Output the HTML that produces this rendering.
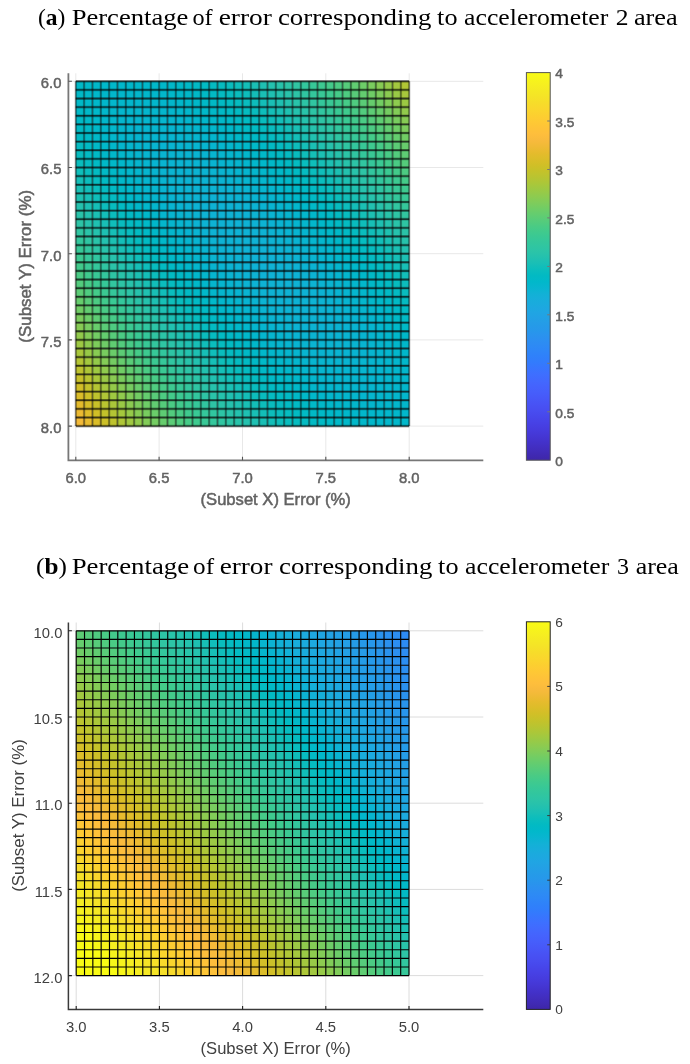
<!DOCTYPE html>
<html><head><meta charset="utf-8"><title>Figure</title><style>html,body{margin:0;padding:0;background:#fff}svg{display:block}</style></head><body>
<svg width="690" height="1064" viewBox="0 0 690 1064">
<defs><linearGradient id="pg" x1="0" y1="0" x2="0" y2="1"><stop offset="0.0000" stop-color="#f9fb15"/><stop offset="0.0159" stop-color="#f7f51b"/><stop offset="0.0317" stop-color="#f6ef20"/><stop offset="0.0476" stop-color="#f5e924"/><stop offset="0.0635" stop-color="#f5e327"/><stop offset="0.0794" stop-color="#f7dc2a"/><stop offset="0.0952" stop-color="#fad62d"/><stop offset="0.1111" stop-color="#fccf30"/><stop offset="0.1270" stop-color="#fec934"/><stop offset="0.1429" stop-color="#fec338"/><stop offset="0.1587" stop-color="#febe3c"/><stop offset="0.1746" stop-color="#f8ba3d"/><stop offset="0.1905" stop-color="#f0ba36"/><stop offset="0.2063" stop-color="#e6bb2d"/><stop offset="0.2222" stop-color="#dcbd29"/><stop offset="0.2381" stop-color="#d1bf27"/><stop offset="0.2540" stop-color="#c5c22a"/><stop offset="0.2698" stop-color="#b9c431"/><stop offset="0.2857" stop-color="#abc739"/><stop offset="0.3016" stop-color="#9dc943"/><stop offset="0.3175" stop-color="#8fcb4e"/><stop offset="0.3333" stop-color="#81cc59"/><stop offset="0.3492" stop-color="#72cd64"/><stop offset="0.3651" stop-color="#64cd6f"/><stop offset="0.3810" stop-color="#57cc7a"/><stop offset="0.3968" stop-color="#4acb84"/><stop offset="0.4127" stop-color="#3fca8e"/><stop offset="0.4286" stop-color="#37c897"/><stop offset="0.4444" stop-color="#31c69f"/><stop offset="0.4603" stop-color="#2cc4a7"/><stop offset="0.4762" stop-color="#24c1ae"/><stop offset="0.4921" stop-color="#19bfb6"/><stop offset="0.5079" stop-color="#0bbdbd"/><stop offset="0.5238" stop-color="#02bac3"/><stop offset="0.5397" stop-color="#01b8ca"/><stop offset="0.5556" stop-color="#08b5d0"/><stop offset="0.5714" stop-color="#12b1d6"/><stop offset="0.5873" stop-color="#18addb"/><stop offset="0.6032" stop-color="#1ca9df"/><stop offset="0.6190" stop-color="#20a5e3"/><stop offset="0.6349" stop-color="#23a0e5"/><stop offset="0.6508" stop-color="#259be8"/><stop offset="0.6667" stop-color="#2797eb"/><stop offset="0.6825" stop-color="#2b91ef"/><stop offset="0.6984" stop-color="#2d8cf3"/><stop offset="0.7143" stop-color="#2e87f7"/><stop offset="0.7302" stop-color="#2f81fa"/><stop offset="0.7460" stop-color="#327cfc"/><stop offset="0.7619" stop-color="#3875fe"/><stop offset="0.7778" stop-color="#3e6fff"/><stop offset="0.7937" stop-color="#4269fe"/><stop offset="0.8095" stop-color="#4563fd"/><stop offset="0.8254" stop-color="#465efb"/><stop offset="0.8413" stop-color="#4758f8"/><stop offset="0.8571" stop-color="#4852f4"/><stop offset="0.8730" stop-color="#484df0"/><stop offset="0.8889" stop-color="#4747eb"/><stop offset="0.9048" stop-color="#4741e5"/><stop offset="0.9206" stop-color="#463cde"/><stop offset="0.9365" stop-color="#4537d5"/><stop offset="0.9524" stop-color="#4332cb"/><stop offset="0.9683" stop-color="#422ec0"/><stop offset="0.9841" stop-color="#402ab4"/><stop offset="1.0000" stop-color="#3e26a8"/></linearGradient></defs>
<rect width="690" height="1064" fill="#fff"/>
<g font-family="Liberation Serif, serif" font-size="23.4" fill="#000">
<text y="25.3"><tspan x="37.90" textLength="27.40" lengthAdjust="spacingAndGlyphs">(<tspan font-weight="bold">a</tspan>)</tspan> <tspan x="71.70" textLength="116.60" lengthAdjust="spacingAndGlyphs">Percentage</tspan> <tspan x="192.50" textLength="20.20" lengthAdjust="spacingAndGlyphs">of</tspan> <tspan x="218.70" textLength="53.20" lengthAdjust="spacingAndGlyphs">error</tspan> <tspan x="277.90" textLength="153.40" lengthAdjust="spacingAndGlyphs">corresponding</tspan> <tspan x="437.10" textLength="20.40" lengthAdjust="spacingAndGlyphs">to</tspan> <tspan x="464.10" textLength="144.20" lengthAdjust="spacingAndGlyphs">accelerometer</tspan> <tspan x="615.70" textLength="12.80" lengthAdjust="spacingAndGlyphs">2</tspan> <tspan x="633.90" textLength="43.80" lengthAdjust="spacingAndGlyphs">area</tspan></text>
<text y="573.6"><tspan x="36.10" textLength="30.80" lengthAdjust="spacingAndGlyphs">(<tspan font-weight="bold">b</tspan>)</tspan> <tspan x="71.70" textLength="117.40" lengthAdjust="spacingAndGlyphs">Percentage</tspan> <tspan x="193.10" textLength="21.00" lengthAdjust="spacingAndGlyphs">of</tspan> <tspan x="219.70" textLength="52.80" lengthAdjust="spacingAndGlyphs">error</tspan> <tspan x="279.10" textLength="153.20" lengthAdjust="spacingAndGlyphs">corresponding</tspan> <tspan x="438.10" textLength="20.40" lengthAdjust="spacingAndGlyphs">to</tspan> <tspan x="465.10" textLength="144.20" lengthAdjust="spacingAndGlyphs">accelerometer</tspan> <tspan x="617.10" textLength="12.00" lengthAdjust="spacingAndGlyphs">3</tspan> <tspan x="635.70" textLength="43.20" lengthAdjust="spacingAndGlyphs">area</tspan></text>
</g>
<g>
<path d="M75.8 73.3V460.3M68.4 81.3H483.3" stroke="#e8e8e8" stroke-width="1" fill="none"/>
<path d="M159.1 73.3V460.3M68.4 167.5H483.3" stroke="#e8e8e8" stroke-width="1" fill="none"/>
<path d="M242.5 73.3V460.3M68.4 253.7H483.3" stroke="#e8e8e8" stroke-width="1" fill="none"/>
<path d="M325.8 73.3V460.3M68.4 339.9H483.3" stroke="#e8e8e8" stroke-width="1" fill="none"/>
<path d="M409.2 73.3V460.3M68.4 426.1H483.3" stroke="#e8e8e8" stroke-width="1" fill="none"/>
<rect x="75.80" y="81.30" width="8.43" height="8.72" fill="#01b9c7"/>
<rect x="84.13" y="81.30" width="8.43" height="8.72" fill="#01b8c8"/>
<rect x="92.47" y="81.30" width="8.43" height="8.72" fill="#01b8c9"/>
<rect x="100.80" y="81.30" width="8.43" height="8.72" fill="#01b8ca"/>
<rect x="109.14" y="81.30" width="8.43" height="8.72" fill="#01b8ca"/>
<rect x="117.47" y="81.30" width="8.43" height="8.72" fill="#01b7ca"/>
<rect x="125.81" y="81.30" width="8.43" height="8.72" fill="#01b7ca"/>
<rect x="134.14" y="81.30" width="8.43" height="8.72" fill="#01b7ca"/>
<rect x="142.48" y="81.30" width="8.43" height="8.72" fill="#01b8ca"/>
<rect x="150.81" y="81.30" width="8.43" height="8.72" fill="#01b8ca"/>
<rect x="159.15" y="81.30" width="8.43" height="8.72" fill="#01b8c9"/>
<rect x="167.48" y="81.30" width="8.43" height="8.72" fill="#01b8c8"/>
<rect x="175.82" y="81.30" width="8.43" height="8.72" fill="#01b9c7"/>
<rect x="184.15" y="81.30" width="8.43" height="8.72" fill="#01b9c6"/>
<rect x="192.49" y="81.30" width="8.43" height="8.72" fill="#02bac5"/>
<rect x="200.82" y="81.30" width="8.43" height="8.72" fill="#02bbc3"/>
<rect x="209.16" y="81.30" width="8.43" height="8.72" fill="#05bbc1"/>
<rect x="217.50" y="81.30" width="8.43" height="8.72" fill="#07bcbf"/>
<rect x="225.83" y="81.30" width="8.43" height="8.72" fill="#0abdbd"/>
<rect x="234.16" y="81.30" width="8.43" height="8.72" fill="#0fbebb"/>
<rect x="242.50" y="81.30" width="8.43" height="8.72" fill="#14bfb8"/>
<rect x="250.83" y="81.30" width="8.43" height="8.72" fill="#1abfb5"/>
<rect x="259.17" y="81.30" width="8.43" height="8.72" fill="#1fc0b2"/>
<rect x="267.50" y="81.30" width="8.43" height="8.72" fill="#24c2ae"/>
<rect x="275.84" y="81.30" width="8.43" height="8.72" fill="#28c3aa"/>
<rect x="284.17" y="81.30" width="8.43" height="8.72" fill="#2dc4a6"/>
<rect x="292.51" y="81.30" width="8.43" height="8.72" fill="#30c5a2"/>
<rect x="300.84" y="81.30" width="8.43" height="8.72" fill="#33c79d"/>
<rect x="309.18" y="81.30" width="8.43" height="8.72" fill="#37c897"/>
<rect x="317.51" y="81.30" width="8.43" height="8.72" fill="#3dc991"/>
<rect x="325.85" y="81.30" width="8.43" height="8.72" fill="#44ca8a"/>
<rect x="334.19" y="81.30" width="8.43" height="8.72" fill="#4ccb83"/>
<rect x="342.52" y="81.30" width="8.43" height="8.72" fill="#56cc7b"/>
<rect x="350.85" y="81.30" width="8.43" height="8.72" fill="#61cd72"/>
<rect x="359.19" y="81.30" width="8.43" height="8.72" fill="#6dcd68"/>
<rect x="367.52" y="81.30" width="8.43" height="8.72" fill="#7acc5e"/>
<rect x="375.86" y="81.30" width="8.43" height="8.72" fill="#87cb54"/>
<rect x="384.19" y="81.30" width="8.43" height="8.72" fill="#95ca49"/>
<rect x="392.53" y="81.30" width="8.43" height="8.72" fill="#a3c83f"/>
<rect x="400.86" y="81.30" width="8.43" height="8.72" fill="#b1c635"/>
<rect x="75.80" y="89.92" width="8.43" height="8.72" fill="#01b9c7"/>
<rect x="84.13" y="89.92" width="8.43" height="8.72" fill="#01b8c9"/>
<rect x="92.47" y="89.92" width="8.43" height="8.72" fill="#01b8ca"/>
<rect x="100.80" y="89.92" width="8.43" height="8.72" fill="#01b7ca"/>
<rect x="109.14" y="89.92" width="8.43" height="8.72" fill="#02b7cb"/>
<rect x="117.47" y="89.92" width="8.43" height="8.72" fill="#02b7cb"/>
<rect x="125.81" y="89.92" width="8.43" height="8.72" fill="#03b7cb"/>
<rect x="134.14" y="89.92" width="8.43" height="8.72" fill="#03b7cb"/>
<rect x="142.48" y="89.92" width="8.43" height="8.72" fill="#02b7cb"/>
<rect x="150.81" y="89.92" width="8.43" height="8.72" fill="#02b7cb"/>
<rect x="159.15" y="89.92" width="8.43" height="8.72" fill="#02b7cb"/>
<rect x="167.48" y="89.92" width="8.43" height="8.72" fill="#01b8ca"/>
<rect x="175.82" y="89.92" width="8.43" height="8.72" fill="#01b8c9"/>
<rect x="184.15" y="89.92" width="8.43" height="8.72" fill="#01b8c8"/>
<rect x="192.49" y="89.92" width="8.43" height="8.72" fill="#01b9c7"/>
<rect x="200.82" y="89.92" width="8.43" height="8.72" fill="#01bac5"/>
<rect x="209.16" y="89.92" width="8.43" height="8.72" fill="#02bac4"/>
<rect x="217.50" y="89.92" width="8.43" height="8.72" fill="#04bbc2"/>
<rect x="225.83" y="89.92" width="8.43" height="8.72" fill="#07bcc0"/>
<rect x="234.16" y="89.92" width="8.43" height="8.72" fill="#0abdbd"/>
<rect x="242.50" y="89.92" width="8.43" height="8.72" fill="#0ebebb"/>
<rect x="250.83" y="89.92" width="8.43" height="8.72" fill="#14beb8"/>
<rect x="259.17" y="89.92" width="8.43" height="8.72" fill="#1abfb5"/>
<rect x="267.50" y="89.92" width="8.43" height="8.72" fill="#1fc0b2"/>
<rect x="275.84" y="89.92" width="8.43" height="8.72" fill="#24c2ae"/>
<rect x="284.17" y="89.92" width="8.43" height="8.72" fill="#29c3aa"/>
<rect x="292.51" y="89.92" width="8.43" height="8.72" fill="#2dc4a6"/>
<rect x="300.84" y="89.92" width="8.43" height="8.72" fill="#30c5a1"/>
<rect x="309.18" y="89.92" width="8.43" height="8.72" fill="#34c79c"/>
<rect x="317.51" y="89.92" width="8.43" height="8.72" fill="#38c896"/>
<rect x="325.85" y="89.92" width="8.43" height="8.72" fill="#3dca90"/>
<rect x="334.19" y="89.92" width="8.43" height="8.72" fill="#45cb89"/>
<rect x="342.52" y="89.92" width="8.43" height="8.72" fill="#4ecc81"/>
<rect x="350.85" y="89.92" width="8.43" height="8.72" fill="#58cc79"/>
<rect x="359.19" y="89.92" width="8.43" height="8.72" fill="#63cd70"/>
<rect x="367.52" y="89.92" width="8.43" height="8.72" fill="#6fcd66"/>
<rect x="375.86" y="89.92" width="8.43" height="8.72" fill="#7dcc5c"/>
<rect x="384.19" y="89.92" width="8.43" height="8.72" fill="#8bcb51"/>
<rect x="392.53" y="89.92" width="8.43" height="8.72" fill="#99c946"/>
<rect x="400.86" y="89.92" width="8.43" height="8.72" fill="#a7c73c"/>
<rect x="75.80" y="98.54" width="8.43" height="8.72" fill="#01b9c7"/>
<rect x="84.13" y="98.54" width="8.43" height="8.72" fill="#01b8c9"/>
<rect x="92.47" y="98.54" width="8.43" height="8.72" fill="#01b8ca"/>
<rect x="100.80" y="98.54" width="8.43" height="8.72" fill="#02b7cb"/>
<rect x="109.14" y="98.54" width="8.43" height="8.72" fill="#03b7cc"/>
<rect x="117.47" y="98.54" width="8.43" height="8.72" fill="#03b7cc"/>
<rect x="125.81" y="98.54" width="8.43" height="8.72" fill="#03b6cc"/>
<rect x="134.14" y="98.54" width="8.43" height="8.72" fill="#04b6cc"/>
<rect x="142.48" y="98.54" width="8.43" height="8.72" fill="#04b6cc"/>
<rect x="150.81" y="98.54" width="8.43" height="8.72" fill="#03b7cc"/>
<rect x="159.15" y="98.54" width="8.43" height="8.72" fill="#03b7cc"/>
<rect x="167.48" y="98.54" width="8.43" height="8.72" fill="#03b7cb"/>
<rect x="175.82" y="98.54" width="8.43" height="8.72" fill="#02b7cb"/>
<rect x="184.15" y="98.54" width="8.43" height="8.72" fill="#01b8ca"/>
<rect x="192.49" y="98.54" width="8.43" height="8.72" fill="#01b8c9"/>
<rect x="200.82" y="98.54" width="8.43" height="8.72" fill="#01b9c7"/>
<rect x="209.16" y="98.54" width="8.43" height="8.72" fill="#01b9c6"/>
<rect x="217.50" y="98.54" width="8.43" height="8.72" fill="#02bac4"/>
<rect x="225.83" y="98.54" width="8.43" height="8.72" fill="#03bbc2"/>
<rect x="234.16" y="98.54" width="8.43" height="8.72" fill="#06bcc0"/>
<rect x="242.50" y="98.54" width="8.43" height="8.72" fill="#0abdbe"/>
<rect x="250.83" y="98.54" width="8.43" height="8.72" fill="#0ebdbb"/>
<rect x="259.17" y="98.54" width="8.43" height="8.72" fill="#14beb8"/>
<rect x="267.50" y="98.54" width="8.43" height="8.72" fill="#1abfb5"/>
<rect x="275.84" y="98.54" width="8.43" height="8.72" fill="#1fc0b1"/>
<rect x="284.17" y="98.54" width="8.43" height="8.72" fill="#25c2ae"/>
<rect x="292.51" y="98.54" width="8.43" height="8.72" fill="#29c3aa"/>
<rect x="300.84" y="98.54" width="8.43" height="8.72" fill="#2dc4a5"/>
<rect x="309.18" y="98.54" width="8.43" height="8.72" fill="#31c5a1"/>
<rect x="317.51" y="98.54" width="8.43" height="8.72" fill="#34c79b"/>
<rect x="325.85" y="98.54" width="8.43" height="8.72" fill="#39c895"/>
<rect x="334.19" y="98.54" width="8.43" height="8.72" fill="#3eca8f"/>
<rect x="342.52" y="98.54" width="8.43" height="8.72" fill="#46cb88"/>
<rect x="350.85" y="98.54" width="8.43" height="8.72" fill="#50cc80"/>
<rect x="359.19" y="98.54" width="8.43" height="8.72" fill="#5acc77"/>
<rect x="367.52" y="98.54" width="8.43" height="8.72" fill="#66cd6d"/>
<rect x="375.86" y="98.54" width="8.43" height="8.72" fill="#72cd63"/>
<rect x="384.19" y="98.54" width="8.43" height="8.72" fill="#80cc59"/>
<rect x="392.53" y="98.54" width="8.43" height="8.72" fill="#8ecb4f"/>
<rect x="400.86" y="98.54" width="8.43" height="8.72" fill="#9cc943"/>
<rect x="75.80" y="107.16" width="8.43" height="8.72" fill="#01b9c6"/>
<rect x="84.13" y="107.16" width="8.43" height="8.72" fill="#01b8c8"/>
<rect x="92.47" y="107.16" width="8.43" height="8.72" fill="#01b8ca"/>
<rect x="100.80" y="107.16" width="8.43" height="8.72" fill="#02b7cb"/>
<rect x="109.14" y="107.16" width="8.43" height="8.72" fill="#03b7cc"/>
<rect x="117.47" y="107.16" width="8.43" height="8.72" fill="#04b6cd"/>
<rect x="125.81" y="107.16" width="8.43" height="8.72" fill="#04b6cd"/>
<rect x="134.14" y="107.16" width="8.43" height="8.72" fill="#05b6cd"/>
<rect x="142.48" y="107.16" width="8.43" height="8.72" fill="#05b6cd"/>
<rect x="150.81" y="107.16" width="8.43" height="8.72" fill="#05b6cd"/>
<rect x="159.15" y="107.16" width="8.43" height="8.72" fill="#04b6cd"/>
<rect x="167.48" y="107.16" width="8.43" height="8.72" fill="#04b6cd"/>
<rect x="175.82" y="107.16" width="8.43" height="8.72" fill="#03b7cc"/>
<rect x="184.15" y="107.16" width="8.43" height="8.72" fill="#03b7cb"/>
<rect x="192.49" y="107.16" width="8.43" height="8.72" fill="#02b7ca"/>
<rect x="200.82" y="107.16" width="8.43" height="8.72" fill="#01b8c9"/>
<rect x="209.16" y="107.16" width="8.43" height="8.72" fill="#01b8c8"/>
<rect x="217.50" y="107.16" width="8.43" height="8.72" fill="#01b9c6"/>
<rect x="225.83" y="107.16" width="8.43" height="8.72" fill="#02bac5"/>
<rect x="234.16" y="107.16" width="8.43" height="8.72" fill="#03bbc3"/>
<rect x="242.50" y="107.16" width="8.43" height="8.72" fill="#06bcc0"/>
<rect x="250.83" y="107.16" width="8.43" height="8.72" fill="#09bcbe"/>
<rect x="259.17" y="107.16" width="8.43" height="8.72" fill="#0ebdbb"/>
<rect x="267.50" y="107.16" width="8.43" height="8.72" fill="#14beb8"/>
<rect x="275.84" y="107.16" width="8.43" height="8.72" fill="#1abfb5"/>
<rect x="284.17" y="107.16" width="8.43" height="8.72" fill="#1fc1b1"/>
<rect x="292.51" y="107.16" width="8.43" height="8.72" fill="#25c2ae"/>
<rect x="300.84" y="107.16" width="8.43" height="8.72" fill="#29c3a9"/>
<rect x="309.18" y="107.16" width="8.43" height="8.72" fill="#2dc4a5"/>
<rect x="317.51" y="107.16" width="8.43" height="8.72" fill="#31c6a0"/>
<rect x="325.85" y="107.16" width="8.43" height="8.72" fill="#35c79a"/>
<rect x="334.19" y="107.16" width="8.43" height="8.72" fill="#39c994"/>
<rect x="342.52" y="107.16" width="8.43" height="8.72" fill="#3fca8e"/>
<rect x="350.85" y="107.16" width="8.43" height="8.72" fill="#48cb86"/>
<rect x="359.19" y="107.16" width="8.43" height="8.72" fill="#52cc7e"/>
<rect x="367.52" y="107.16" width="8.43" height="8.72" fill="#5dcc75"/>
<rect x="375.86" y="107.16" width="8.43" height="8.72" fill="#68cd6b"/>
<rect x="384.19" y="107.16" width="8.43" height="8.72" fill="#75cc61"/>
<rect x="392.53" y="107.16" width="8.43" height="8.72" fill="#83cc57"/>
<rect x="400.86" y="107.16" width="8.43" height="8.72" fill="#92ca4c"/>
<rect x="75.80" y="115.78" width="8.43" height="8.72" fill="#01bac6"/>
<rect x="84.13" y="115.78" width="8.43" height="8.72" fill="#01b9c8"/>
<rect x="92.47" y="115.78" width="8.43" height="8.72" fill="#01b8ca"/>
<rect x="100.80" y="115.78" width="8.43" height="8.72" fill="#02b7cb"/>
<rect x="109.14" y="115.78" width="8.43" height="8.72" fill="#03b7cc"/>
<rect x="117.47" y="115.78" width="8.43" height="8.72" fill="#04b6cd"/>
<rect x="125.81" y="115.78" width="8.43" height="8.72" fill="#05b6ce"/>
<rect x="134.14" y="115.78" width="8.43" height="8.72" fill="#05b6ce"/>
<rect x="142.48" y="115.78" width="8.43" height="8.72" fill="#06b6ce"/>
<rect x="150.81" y="115.78" width="8.43" height="8.72" fill="#06b5ce"/>
<rect x="159.15" y="115.78" width="8.43" height="8.72" fill="#06b6ce"/>
<rect x="167.48" y="115.78" width="8.43" height="8.72" fill="#05b6ce"/>
<rect x="175.82" y="115.78" width="8.43" height="8.72" fill="#05b6ce"/>
<rect x="184.15" y="115.78" width="8.43" height="8.72" fill="#04b6cd"/>
<rect x="192.49" y="115.78" width="8.43" height="8.72" fill="#03b7cc"/>
<rect x="200.82" y="115.78" width="8.43" height="8.72" fill="#02b7cb"/>
<rect x="209.16" y="115.78" width="8.43" height="8.72" fill="#01b8ca"/>
<rect x="217.50" y="115.78" width="8.43" height="8.72" fill="#01b8c8"/>
<rect x="225.83" y="115.78" width="8.43" height="8.72" fill="#01b9c7"/>
<rect x="234.16" y="115.78" width="8.43" height="8.72" fill="#02bac5"/>
<rect x="242.50" y="115.78" width="8.43" height="8.72" fill="#02bbc3"/>
<rect x="250.83" y="115.78" width="8.43" height="8.72" fill="#05bbc1"/>
<rect x="259.17" y="115.78" width="8.43" height="8.72" fill="#09bcbe"/>
<rect x="267.50" y="115.78" width="8.43" height="8.72" fill="#0ebdbb"/>
<rect x="275.84" y="115.78" width="8.43" height="8.72" fill="#14beb8"/>
<rect x="284.17" y="115.78" width="8.43" height="8.72" fill="#1ac0b5"/>
<rect x="292.51" y="115.78" width="8.43" height="8.72" fill="#20c1b1"/>
<rect x="300.84" y="115.78" width="8.43" height="8.72" fill="#25c2ad"/>
<rect x="309.18" y="115.78" width="8.43" height="8.72" fill="#2ac3a9"/>
<rect x="317.51" y="115.78" width="8.43" height="8.72" fill="#2ec4a4"/>
<rect x="325.85" y="115.78" width="8.43" height="8.72" fill="#32c69f"/>
<rect x="334.19" y="115.78" width="8.43" height="8.72" fill="#35c79a"/>
<rect x="342.52" y="115.78" width="8.43" height="8.72" fill="#3ac993"/>
<rect x="350.85" y="115.78" width="8.43" height="8.72" fill="#41ca8c"/>
<rect x="359.19" y="115.78" width="8.43" height="8.72" fill="#4acb85"/>
<rect x="367.52" y="115.78" width="8.43" height="8.72" fill="#54cc7c"/>
<rect x="375.86" y="115.78" width="8.43" height="8.72" fill="#5fcd73"/>
<rect x="384.19" y="115.78" width="8.43" height="8.72" fill="#6bcd69"/>
<rect x="392.53" y="115.78" width="8.43" height="8.72" fill="#79cc5f"/>
<rect x="400.86" y="115.78" width="8.43" height="8.72" fill="#87cb54"/>
<rect x="75.80" y="124.40" width="8.43" height="8.72" fill="#02bac4"/>
<rect x="84.13" y="124.40" width="8.43" height="8.72" fill="#01b9c7"/>
<rect x="92.47" y="124.40" width="8.43" height="8.72" fill="#01b8c9"/>
<rect x="100.80" y="124.40" width="8.43" height="8.72" fill="#02b7cb"/>
<rect x="109.14" y="124.40" width="8.43" height="8.72" fill="#03b7cc"/>
<rect x="117.47" y="124.40" width="8.43" height="8.72" fill="#04b6cd"/>
<rect x="125.81" y="124.40" width="8.43" height="8.72" fill="#05b6ce"/>
<rect x="134.14" y="124.40" width="8.43" height="8.72" fill="#06b5cf"/>
<rect x="142.48" y="124.40" width="8.43" height="8.72" fill="#06b5cf"/>
<rect x="150.81" y="124.40" width="8.43" height="8.72" fill="#07b5cf"/>
<rect x="159.15" y="124.40" width="8.43" height="8.72" fill="#07b5cf"/>
<rect x="167.48" y="124.40" width="8.43" height="8.72" fill="#06b5cf"/>
<rect x="175.82" y="124.40" width="8.43" height="8.72" fill="#06b5cf"/>
<rect x="184.15" y="124.40" width="8.43" height="8.72" fill="#06b6ce"/>
<rect x="192.49" y="124.40" width="8.43" height="8.72" fill="#05b6ce"/>
<rect x="200.82" y="124.40" width="8.43" height="8.72" fill="#04b6cd"/>
<rect x="209.16" y="124.40" width="8.43" height="8.72" fill="#03b7cc"/>
<rect x="217.50" y="124.40" width="8.43" height="8.72" fill="#01b7ca"/>
<rect x="225.83" y="124.40" width="8.43" height="8.72" fill="#01b8c9"/>
<rect x="234.16" y="124.40" width="8.43" height="8.72" fill="#01b9c7"/>
<rect x="242.50" y="124.40" width="8.43" height="8.72" fill="#01bac5"/>
<rect x="250.83" y="124.40" width="8.43" height="8.72" fill="#02bbc3"/>
<rect x="259.17" y="124.40" width="8.43" height="8.72" fill="#05bbc1"/>
<rect x="267.50" y="124.40" width="8.43" height="8.72" fill="#09bcbe"/>
<rect x="275.84" y="124.40" width="8.43" height="8.72" fill="#0ebdbb"/>
<rect x="284.17" y="124.40" width="8.43" height="8.72" fill="#14beb8"/>
<rect x="292.51" y="124.40" width="8.43" height="8.72" fill="#1ac0b5"/>
<rect x="300.84" y="124.40" width="8.43" height="8.72" fill="#20c1b1"/>
<rect x="309.18" y="124.40" width="8.43" height="8.72" fill="#26c2ad"/>
<rect x="317.51" y="124.40" width="8.43" height="8.72" fill="#2ac3a8"/>
<rect x="325.85" y="124.40" width="8.43" height="8.72" fill="#2ec5a4"/>
<rect x="334.19" y="124.40" width="8.43" height="8.72" fill="#32c69e"/>
<rect x="342.52" y="124.40" width="8.43" height="8.72" fill="#36c899"/>
<rect x="350.85" y="124.40" width="8.43" height="8.72" fill="#3bc992"/>
<rect x="359.19" y="124.40" width="8.43" height="8.72" fill="#43ca8b"/>
<rect x="367.52" y="124.40" width="8.43" height="8.72" fill="#4ccb83"/>
<rect x="375.86" y="124.40" width="8.43" height="8.72" fill="#56cc7a"/>
<rect x="384.19" y="124.40" width="8.43" height="8.72" fill="#62cd71"/>
<rect x="392.53" y="124.40" width="8.43" height="8.72" fill="#6ecd66"/>
<rect x="400.86" y="124.40" width="8.43" height="8.72" fill="#7ccc5c"/>
<rect x="75.80" y="133.02" width="8.43" height="8.72" fill="#02bbc3"/>
<rect x="84.13" y="133.02" width="8.43" height="8.72" fill="#01b9c6"/>
<rect x="92.47" y="133.02" width="8.43" height="8.72" fill="#01b8c8"/>
<rect x="100.80" y="133.02" width="8.43" height="8.72" fill="#01b8ca"/>
<rect x="109.14" y="133.02" width="8.43" height="8.72" fill="#03b7cc"/>
<rect x="117.47" y="133.02" width="8.43" height="8.72" fill="#04b6cd"/>
<rect x="125.81" y="133.02" width="8.43" height="8.72" fill="#05b6ce"/>
<rect x="134.14" y="133.02" width="8.43" height="8.72" fill="#06b5cf"/>
<rect x="142.48" y="133.02" width="8.43" height="8.72" fill="#07b5cf"/>
<rect x="150.81" y="133.02" width="8.43" height="8.72" fill="#07b5d0"/>
<rect x="159.15" y="133.02" width="8.43" height="8.72" fill="#07b5d0"/>
<rect x="167.48" y="133.02" width="8.43" height="8.72" fill="#07b5d0"/>
<rect x="175.82" y="133.02" width="8.43" height="8.72" fill="#07b5d0"/>
<rect x="184.15" y="133.02" width="8.43" height="8.72" fill="#07b5cf"/>
<rect x="192.49" y="133.02" width="8.43" height="8.72" fill="#06b5cf"/>
<rect x="200.82" y="133.02" width="8.43" height="8.72" fill="#05b6ce"/>
<rect x="209.16" y="133.02" width="8.43" height="8.72" fill="#04b6cd"/>
<rect x="217.50" y="133.02" width="8.43" height="8.72" fill="#03b7cc"/>
<rect x="225.83" y="133.02" width="8.43" height="8.72" fill="#02b7cb"/>
<rect x="234.16" y="133.02" width="8.43" height="8.72" fill="#01b8c9"/>
<rect x="242.50" y="133.02" width="8.43" height="8.72" fill="#01b9c8"/>
<rect x="250.83" y="133.02" width="8.43" height="8.72" fill="#01bac6"/>
<rect x="259.17" y="133.02" width="8.43" height="8.72" fill="#02bac3"/>
<rect x="267.50" y="133.02" width="8.43" height="8.72" fill="#05bbc1"/>
<rect x="275.84" y="133.02" width="8.43" height="8.72" fill="#09bcbe"/>
<rect x="284.17" y="133.02" width="8.43" height="8.72" fill="#0ebdbb"/>
<rect x="292.51" y="133.02" width="8.43" height="8.72" fill="#14bfb8"/>
<rect x="300.84" y="133.02" width="8.43" height="8.72" fill="#1bc0b4"/>
<rect x="309.18" y="133.02" width="8.43" height="8.72" fill="#21c1b0"/>
<rect x="317.51" y="133.02" width="8.43" height="8.72" fill="#26c2ac"/>
<rect x="325.85" y="133.02" width="8.43" height="8.72" fill="#2bc3a8"/>
<rect x="334.19" y="133.02" width="8.43" height="8.72" fill="#2fc5a3"/>
<rect x="342.52" y="133.02" width="8.43" height="8.72" fill="#33c69e"/>
<rect x="350.85" y="133.02" width="8.43" height="8.72" fill="#37c898"/>
<rect x="359.19" y="133.02" width="8.43" height="8.72" fill="#3dc991"/>
<rect x="367.52" y="133.02" width="8.43" height="8.72" fill="#44cb89"/>
<rect x="375.86" y="133.02" width="8.43" height="8.72" fill="#4ecc81"/>
<rect x="384.19" y="133.02" width="8.43" height="8.72" fill="#59cc78"/>
<rect x="392.53" y="133.02" width="8.43" height="8.72" fill="#64cd6e"/>
<rect x="400.86" y="133.02" width="8.43" height="8.72" fill="#71cd64"/>
<rect x="75.80" y="141.64" width="8.43" height="8.72" fill="#05bbc1"/>
<rect x="84.13" y="141.64" width="8.43" height="8.72" fill="#02bac4"/>
<rect x="92.47" y="141.64" width="8.43" height="8.72" fill="#01b9c7"/>
<rect x="100.80" y="141.64" width="8.43" height="8.72" fill="#01b8c9"/>
<rect x="109.14" y="141.64" width="8.43" height="8.72" fill="#02b7cb"/>
<rect x="117.47" y="141.64" width="8.43" height="8.72" fill="#04b6cd"/>
<rect x="125.81" y="141.64" width="8.43" height="8.72" fill="#05b6ce"/>
<rect x="134.14" y="141.64" width="8.43" height="8.72" fill="#06b5cf"/>
<rect x="142.48" y="141.64" width="8.43" height="8.72" fill="#07b5d0"/>
<rect x="150.81" y="141.64" width="8.43" height="8.72" fill="#08b5d0"/>
<rect x="159.15" y="141.64" width="8.43" height="8.72" fill="#08b4d1"/>
<rect x="167.48" y="141.64" width="8.43" height="8.72" fill="#08b4d1"/>
<rect x="175.82" y="141.64" width="8.43" height="8.72" fill="#08b4d1"/>
<rect x="184.15" y="141.64" width="8.43" height="8.72" fill="#08b4d0"/>
<rect x="192.49" y="141.64" width="8.43" height="8.72" fill="#07b5d0"/>
<rect x="200.82" y="141.64" width="8.43" height="8.72" fill="#07b5cf"/>
<rect x="209.16" y="141.64" width="8.43" height="8.72" fill="#06b5cf"/>
<rect x="217.50" y="141.64" width="8.43" height="8.72" fill="#05b6ce"/>
<rect x="225.83" y="141.64" width="8.43" height="8.72" fill="#04b6cd"/>
<rect x="234.16" y="141.64" width="8.43" height="8.72" fill="#02b7cb"/>
<rect x="242.50" y="141.64" width="8.43" height="8.72" fill="#01b8ca"/>
<rect x="250.83" y="141.64" width="8.43" height="8.72" fill="#01b9c8"/>
<rect x="259.17" y="141.64" width="8.43" height="8.72" fill="#01b9c6"/>
<rect x="267.50" y="141.64" width="8.43" height="8.72" fill="#02bac3"/>
<rect x="275.84" y="141.64" width="8.43" height="8.72" fill="#05bbc1"/>
<rect x="284.17" y="141.64" width="8.43" height="8.72" fill="#09bcbe"/>
<rect x="292.51" y="141.64" width="8.43" height="8.72" fill="#0ebdbb"/>
<rect x="300.84" y="141.64" width="8.43" height="8.72" fill="#15bfb8"/>
<rect x="309.18" y="141.64" width="8.43" height="8.72" fill="#1bc0b4"/>
<rect x="317.51" y="141.64" width="8.43" height="8.72" fill="#21c1b0"/>
<rect x="325.85" y="141.64" width="8.43" height="8.72" fill="#27c2ac"/>
<rect x="334.19" y="141.64" width="8.43" height="8.72" fill="#2cc4a7"/>
<rect x="342.52" y="141.64" width="8.43" height="8.72" fill="#2fc5a2"/>
<rect x="350.85" y="141.64" width="8.43" height="8.72" fill="#33c79d"/>
<rect x="359.19" y="141.64" width="8.43" height="8.72" fill="#38c896"/>
<rect x="367.52" y="141.64" width="8.43" height="8.72" fill="#3eca8f"/>
<rect x="375.86" y="141.64" width="8.43" height="8.72" fill="#46cb88"/>
<rect x="384.19" y="141.64" width="8.43" height="8.72" fill="#50cc7f"/>
<rect x="392.53" y="141.64" width="8.43" height="8.72" fill="#5bcc76"/>
<rect x="400.86" y="141.64" width="8.43" height="8.72" fill="#67cd6c"/>
<rect x="75.80" y="150.26" width="8.43" height="8.72" fill="#07bcbf"/>
<rect x="84.13" y="150.26" width="8.43" height="8.72" fill="#03bbc3"/>
<rect x="92.47" y="150.26" width="8.43" height="8.72" fill="#01bac5"/>
<rect x="100.80" y="150.26" width="8.43" height="8.72" fill="#01b8c8"/>
<rect x="109.14" y="150.26" width="8.43" height="8.72" fill="#01b8ca"/>
<rect x="117.47" y="150.26" width="8.43" height="8.72" fill="#03b7cc"/>
<rect x="125.81" y="150.26" width="8.43" height="8.72" fill="#05b6ce"/>
<rect x="134.14" y="150.26" width="8.43" height="8.72" fill="#06b5cf"/>
<rect x="142.48" y="150.26" width="8.43" height="8.72" fill="#07b5d0"/>
<rect x="150.81" y="150.26" width="8.43" height="8.72" fill="#08b4d1"/>
<rect x="159.15" y="150.26" width="8.43" height="8.72" fill="#09b4d1"/>
<rect x="167.48" y="150.26" width="8.43" height="8.72" fill="#09b4d1"/>
<rect x="175.82" y="150.26" width="8.43" height="8.72" fill="#0ab4d1"/>
<rect x="184.15" y="150.26" width="8.43" height="8.72" fill="#09b4d1"/>
<rect x="192.49" y="150.26" width="8.43" height="8.72" fill="#09b4d1"/>
<rect x="200.82" y="150.26" width="8.43" height="8.72" fill="#08b4d1"/>
<rect x="209.16" y="150.26" width="8.43" height="8.72" fill="#07b5d0"/>
<rect x="217.50" y="150.26" width="8.43" height="8.72" fill="#07b5cf"/>
<rect x="225.83" y="150.26" width="8.43" height="8.72" fill="#05b6ce"/>
<rect x="234.16" y="150.26" width="8.43" height="8.72" fill="#04b6cd"/>
<rect x="242.50" y="150.26" width="8.43" height="8.72" fill="#03b7cb"/>
<rect x="250.83" y="150.26" width="8.43" height="8.72" fill="#01b8ca"/>
<rect x="259.17" y="150.26" width="8.43" height="8.72" fill="#01b8c8"/>
<rect x="267.50" y="150.26" width="8.43" height="8.72" fill="#01b9c6"/>
<rect x="275.84" y="150.26" width="8.43" height="8.72" fill="#02bac3"/>
<rect x="284.17" y="150.26" width="8.43" height="8.72" fill="#05bbc1"/>
<rect x="292.51" y="150.26" width="8.43" height="8.72" fill="#09bcbe"/>
<rect x="300.84" y="150.26" width="8.43" height="8.72" fill="#0fbebb"/>
<rect x="309.18" y="150.26" width="8.43" height="8.72" fill="#15bfb7"/>
<rect x="317.51" y="150.26" width="8.43" height="8.72" fill="#1cc0b4"/>
<rect x="325.85" y="150.26" width="8.43" height="8.72" fill="#22c1b0"/>
<rect x="334.19" y="150.26" width="8.43" height="8.72" fill="#27c2ab"/>
<rect x="342.52" y="150.26" width="8.43" height="8.72" fill="#2cc4a6"/>
<rect x="350.85" y="150.26" width="8.43" height="8.72" fill="#30c5a1"/>
<rect x="359.19" y="150.26" width="8.43" height="8.72" fill="#34c79b"/>
<rect x="367.52" y="150.26" width="8.43" height="8.72" fill="#39c895"/>
<rect x="375.86" y="150.26" width="8.43" height="8.72" fill="#3fca8e"/>
<rect x="384.19" y="150.26" width="8.43" height="8.72" fill="#48cb86"/>
<rect x="392.53" y="150.26" width="8.43" height="8.72" fill="#53cc7d"/>
<rect x="400.86" y="150.26" width="8.43" height="8.72" fill="#5ecd74"/>
<rect x="75.80" y="158.88" width="8.43" height="8.72" fill="#0abdbd"/>
<rect x="84.13" y="158.88" width="8.43" height="8.72" fill="#06bbc1"/>
<rect x="92.47" y="158.88" width="8.43" height="8.72" fill="#02bac4"/>
<rect x="100.80" y="158.88" width="8.43" height="8.72" fill="#01b9c7"/>
<rect x="109.14" y="158.88" width="8.43" height="8.72" fill="#01b8c9"/>
<rect x="117.47" y="158.88" width="8.43" height="8.72" fill="#02b7cb"/>
<rect x="125.81" y="158.88" width="8.43" height="8.72" fill="#04b6cd"/>
<rect x="134.14" y="158.88" width="8.43" height="8.72" fill="#06b5ce"/>
<rect x="142.48" y="158.88" width="8.43" height="8.72" fill="#07b5d0"/>
<rect x="150.81" y="158.88" width="8.43" height="8.72" fill="#08b4d1"/>
<rect x="159.15" y="158.88" width="8.43" height="8.72" fill="#09b4d1"/>
<rect x="167.48" y="158.88" width="8.43" height="8.72" fill="#0ab4d2"/>
<rect x="175.82" y="158.88" width="8.43" height="8.72" fill="#0bb4d2"/>
<rect x="184.15" y="158.88" width="8.43" height="8.72" fill="#0bb4d2"/>
<rect x="192.49" y="158.88" width="8.43" height="8.72" fill="#0ab4d2"/>
<rect x="200.82" y="158.88" width="8.43" height="8.72" fill="#0ab4d2"/>
<rect x="209.16" y="158.88" width="8.43" height="8.72" fill="#09b4d1"/>
<rect x="217.50" y="158.88" width="8.43" height="8.72" fill="#08b4d0"/>
<rect x="225.83" y="158.88" width="8.43" height="8.72" fill="#07b5d0"/>
<rect x="234.16" y="158.88" width="8.43" height="8.72" fill="#06b5ce"/>
<rect x="242.50" y="158.88" width="8.43" height="8.72" fill="#04b6cd"/>
<rect x="250.83" y="158.88" width="8.43" height="8.72" fill="#03b7cc"/>
<rect x="259.17" y="158.88" width="8.43" height="8.72" fill="#01b8ca"/>
<rect x="267.50" y="158.88" width="8.43" height="8.72" fill="#01b8c8"/>
<rect x="275.84" y="158.88" width="8.43" height="8.72" fill="#01b9c6"/>
<rect x="284.17" y="158.88" width="8.43" height="8.72" fill="#02bac3"/>
<rect x="292.51" y="158.88" width="8.43" height="8.72" fill="#05bbc1"/>
<rect x="300.84" y="158.88" width="8.43" height="8.72" fill="#09bdbe"/>
<rect x="309.18" y="158.88" width="8.43" height="8.72" fill="#0fbeba"/>
<rect x="317.51" y="158.88" width="8.43" height="8.72" fill="#16bfb7"/>
<rect x="325.85" y="158.88" width="8.43" height="8.72" fill="#1dc0b3"/>
<rect x="334.19" y="158.88" width="8.43" height="8.72" fill="#23c1af"/>
<rect x="342.52" y="158.88" width="8.43" height="8.72" fill="#28c3aa"/>
<rect x="350.85" y="158.88" width="8.43" height="8.72" fill="#2dc4a6"/>
<rect x="359.19" y="158.88" width="8.43" height="8.72" fill="#31c6a0"/>
<rect x="367.52" y="158.88" width="8.43" height="8.72" fill="#35c79a"/>
<rect x="375.86" y="158.88" width="8.43" height="8.72" fill="#3ac994"/>
<rect x="384.19" y="158.88" width="8.43" height="8.72" fill="#41ca8c"/>
<rect x="392.53" y="158.88" width="8.43" height="8.72" fill="#4acb84"/>
<rect x="400.86" y="158.88" width="8.43" height="8.72" fill="#55cc7b"/>
<rect x="75.80" y="167.50" width="8.43" height="8.72" fill="#0fbeba"/>
<rect x="84.13" y="167.50" width="8.43" height="8.72" fill="#09bcbe"/>
<rect x="92.47" y="167.50" width="8.43" height="8.72" fill="#04bbc2"/>
<rect x="100.80" y="167.50" width="8.43" height="8.72" fill="#02bac5"/>
<rect x="109.14" y="167.50" width="8.43" height="8.72" fill="#01b9c8"/>
<rect x="117.47" y="167.50" width="8.43" height="8.72" fill="#01b8ca"/>
<rect x="125.81" y="167.50" width="8.43" height="8.72" fill="#03b7cc"/>
<rect x="134.14" y="167.50" width="8.43" height="8.72" fill="#05b6ce"/>
<rect x="142.48" y="167.50" width="8.43" height="8.72" fill="#07b5cf"/>
<rect x="150.81" y="167.50" width="8.43" height="8.72" fill="#08b4d0"/>
<rect x="159.15" y="167.50" width="8.43" height="8.72" fill="#0ab4d1"/>
<rect x="167.48" y="167.50" width="8.43" height="8.72" fill="#0bb4d2"/>
<rect x="175.82" y="167.50" width="8.43" height="8.72" fill="#0bb3d2"/>
<rect x="184.15" y="167.50" width="8.43" height="8.72" fill="#0bb3d2"/>
<rect x="192.49" y="167.50" width="8.43" height="8.72" fill="#0cb3d2"/>
<rect x="200.82" y="167.50" width="8.43" height="8.72" fill="#0bb3d2"/>
<rect x="209.16" y="167.50" width="8.43" height="8.72" fill="#0bb4d2"/>
<rect x="217.50" y="167.50" width="8.43" height="8.72" fill="#0ab4d1"/>
<rect x="225.83" y="167.50" width="8.43" height="8.72" fill="#09b4d1"/>
<rect x="234.16" y="167.50" width="8.43" height="8.72" fill="#07b5d0"/>
<rect x="242.50" y="167.50" width="8.43" height="8.72" fill="#06b5cf"/>
<rect x="250.83" y="167.50" width="8.43" height="8.72" fill="#05b6cd"/>
<rect x="259.17" y="167.50" width="8.43" height="8.72" fill="#03b7cc"/>
<rect x="267.50" y="167.50" width="8.43" height="8.72" fill="#01b8ca"/>
<rect x="275.84" y="167.50" width="8.43" height="8.72" fill="#01b8c8"/>
<rect x="284.17" y="167.50" width="8.43" height="8.72" fill="#01b9c6"/>
<rect x="292.51" y="167.50" width="8.43" height="8.72" fill="#02bac3"/>
<rect x="300.84" y="167.50" width="8.43" height="8.72" fill="#06bcc1"/>
<rect x="309.18" y="167.50" width="8.43" height="8.72" fill="#0abdbd"/>
<rect x="317.51" y="167.50" width="8.43" height="8.72" fill="#10beba"/>
<rect x="325.85" y="167.50" width="8.43" height="8.72" fill="#17bfb6"/>
<rect x="334.19" y="167.50" width="8.43" height="8.72" fill="#1dc0b2"/>
<rect x="342.52" y="167.50" width="8.43" height="8.72" fill="#24c1ae"/>
<rect x="350.85" y="167.50" width="8.43" height="8.72" fill="#29c3aa"/>
<rect x="359.19" y="167.50" width="8.43" height="8.72" fill="#2ec4a5"/>
<rect x="367.52" y="167.50" width="8.43" height="8.72" fill="#32c69f"/>
<rect x="375.86" y="167.50" width="8.43" height="8.72" fill="#36c799"/>
<rect x="384.19" y="167.50" width="8.43" height="8.72" fill="#3bc992"/>
<rect x="392.53" y="167.50" width="8.43" height="8.72" fill="#43ca8a"/>
<rect x="400.86" y="167.50" width="8.43" height="8.72" fill="#4dcb82"/>
<rect x="75.80" y="176.12" width="8.43" height="8.72" fill="#15bfb8"/>
<rect x="84.13" y="176.12" width="8.43" height="8.72" fill="#0cbdbc"/>
<rect x="92.47" y="176.12" width="8.43" height="8.72" fill="#07bcc0"/>
<rect x="100.80" y="176.12" width="8.43" height="8.72" fill="#02bbc3"/>
<rect x="109.14" y="176.12" width="8.43" height="8.72" fill="#01b9c6"/>
<rect x="117.47" y="176.12" width="8.43" height="8.72" fill="#01b8c9"/>
<rect x="125.81" y="176.12" width="8.43" height="8.72" fill="#02b7cb"/>
<rect x="134.14" y="176.12" width="8.43" height="8.72" fill="#04b6cd"/>
<rect x="142.48" y="176.12" width="8.43" height="8.72" fill="#06b5cf"/>
<rect x="150.81" y="176.12" width="8.43" height="8.72" fill="#07b5d0"/>
<rect x="159.15" y="176.12" width="8.43" height="8.72" fill="#09b4d1"/>
<rect x="167.48" y="176.12" width="8.43" height="8.72" fill="#0bb4d2"/>
<rect x="175.82" y="176.12" width="8.43" height="8.72" fill="#0cb3d2"/>
<rect x="184.15" y="176.12" width="8.43" height="8.72" fill="#0cb3d3"/>
<rect x="192.49" y="176.12" width="8.43" height="8.72" fill="#0cb3d3"/>
<rect x="200.82" y="176.12" width="8.43" height="8.72" fill="#0cb3d3"/>
<rect x="209.16" y="176.12" width="8.43" height="8.72" fill="#0cb3d3"/>
<rect x="217.50" y="176.12" width="8.43" height="8.72" fill="#0bb3d2"/>
<rect x="225.83" y="176.12" width="8.43" height="8.72" fill="#0ab4d2"/>
<rect x="234.16" y="176.12" width="8.43" height="8.72" fill="#09b4d1"/>
<rect x="242.50" y="176.12" width="8.43" height="8.72" fill="#08b5d0"/>
<rect x="250.83" y="176.12" width="8.43" height="8.72" fill="#06b5cf"/>
<rect x="259.17" y="176.12" width="8.43" height="8.72" fill="#05b6ce"/>
<rect x="267.50" y="176.12" width="8.43" height="8.72" fill="#03b7cc"/>
<rect x="275.84" y="176.12" width="8.43" height="8.72" fill="#01b8ca"/>
<rect x="284.17" y="176.12" width="8.43" height="8.72" fill="#01b8c8"/>
<rect x="292.51" y="176.12" width="8.43" height="8.72" fill="#01b9c6"/>
<rect x="300.84" y="176.12" width="8.43" height="8.72" fill="#02bbc3"/>
<rect x="309.18" y="176.12" width="8.43" height="8.72" fill="#06bcc0"/>
<rect x="317.51" y="176.12" width="8.43" height="8.72" fill="#0abdbd"/>
<rect x="325.85" y="176.12" width="8.43" height="8.72" fill="#11beba"/>
<rect x="334.19" y="176.12" width="8.43" height="8.72" fill="#18bfb6"/>
<rect x="342.52" y="176.12" width="8.43" height="8.72" fill="#1ec0b2"/>
<rect x="350.85" y="176.12" width="8.43" height="8.72" fill="#25c2ae"/>
<rect x="359.19" y="176.12" width="8.43" height="8.72" fill="#2ac3a9"/>
<rect x="367.52" y="176.12" width="8.43" height="8.72" fill="#2ec5a4"/>
<rect x="375.86" y="176.12" width="8.43" height="8.72" fill="#32c69e"/>
<rect x="384.19" y="176.12" width="8.43" height="8.72" fill="#37c898"/>
<rect x="392.53" y="176.12" width="8.43" height="8.72" fill="#3dc991"/>
<rect x="400.86" y="176.12" width="8.43" height="8.72" fill="#45cb89"/>
<rect x="75.80" y="184.74" width="8.43" height="8.72" fill="#1ac0b5"/>
<rect x="84.13" y="184.74" width="8.43" height="8.72" fill="#12beb9"/>
<rect x="92.47" y="184.74" width="8.43" height="8.72" fill="#0abdbd"/>
<rect x="100.80" y="184.74" width="8.43" height="8.72" fill="#05bbc1"/>
<rect x="109.14" y="184.74" width="8.43" height="8.72" fill="#02bac4"/>
<rect x="117.47" y="184.74" width="8.43" height="8.72" fill="#01b9c7"/>
<rect x="125.81" y="184.74" width="8.43" height="8.72" fill="#01b8ca"/>
<rect x="134.14" y="184.74" width="8.43" height="8.72" fill="#03b7cc"/>
<rect x="142.48" y="184.74" width="8.43" height="8.72" fill="#05b6ce"/>
<rect x="150.81" y="184.74" width="8.43" height="8.72" fill="#07b5cf"/>
<rect x="159.15" y="184.74" width="8.43" height="8.72" fill="#08b4d1"/>
<rect x="167.48" y="184.74" width="8.43" height="8.72" fill="#0ab4d2"/>
<rect x="175.82" y="184.74" width="8.43" height="8.72" fill="#0bb3d2"/>
<rect x="184.15" y="184.74" width="8.43" height="8.72" fill="#0cb3d3"/>
<rect x="192.49" y="184.74" width="8.43" height="8.72" fill="#0db3d3"/>
<rect x="200.82" y="184.74" width="8.43" height="8.72" fill="#0db3d3"/>
<rect x="209.16" y="184.74" width="8.43" height="8.72" fill="#0db3d3"/>
<rect x="217.50" y="184.74" width="8.43" height="8.72" fill="#0db3d3"/>
<rect x="225.83" y="184.74" width="8.43" height="8.72" fill="#0cb3d3"/>
<rect x="234.16" y="184.74" width="8.43" height="8.72" fill="#0bb3d2"/>
<rect x="242.50" y="184.74" width="8.43" height="8.72" fill="#0ab4d1"/>
<rect x="250.83" y="184.74" width="8.43" height="8.72" fill="#08b4d0"/>
<rect x="259.17" y="184.74" width="8.43" height="8.72" fill="#06b5cf"/>
<rect x="267.50" y="184.74" width="8.43" height="8.72" fill="#05b6ce"/>
<rect x="275.84" y="184.74" width="8.43" height="8.72" fill="#03b7cc"/>
<rect x="284.17" y="184.74" width="8.43" height="8.72" fill="#01b8ca"/>
<rect x="292.51" y="184.74" width="8.43" height="8.72" fill="#01b8c8"/>
<rect x="300.84" y="184.74" width="8.43" height="8.72" fill="#01bac6"/>
<rect x="309.18" y="184.74" width="8.43" height="8.72" fill="#02bbc3"/>
<rect x="317.51" y="184.74" width="8.43" height="8.72" fill="#06bcc0"/>
<rect x="325.85" y="184.74" width="8.43" height="8.72" fill="#0bbdbd"/>
<rect x="334.19" y="184.74" width="8.43" height="8.72" fill="#12beb9"/>
<rect x="342.52" y="184.74" width="8.43" height="8.72" fill="#19bfb5"/>
<rect x="350.85" y="184.74" width="8.43" height="8.72" fill="#20c1b1"/>
<rect x="359.19" y="184.74" width="8.43" height="8.72" fill="#26c2ad"/>
<rect x="367.52" y="184.74" width="8.43" height="8.72" fill="#2bc3a8"/>
<rect x="375.86" y="184.74" width="8.43" height="8.72" fill="#2fc5a3"/>
<rect x="384.19" y="184.74" width="8.43" height="8.72" fill="#33c79d"/>
<rect x="392.53" y="184.74" width="8.43" height="8.72" fill="#38c896"/>
<rect x="400.86" y="184.74" width="8.43" height="8.72" fill="#3eca8f"/>
<rect x="75.80" y="193.36" width="8.43" height="8.72" fill="#1fc1b1"/>
<rect x="84.13" y="193.36" width="8.43" height="8.72" fill="#18bfb6"/>
<rect x="92.47" y="193.36" width="8.43" height="8.72" fill="#0fbeba"/>
<rect x="100.80" y="193.36" width="8.43" height="8.72" fill="#09bcbe"/>
<rect x="109.14" y="193.36" width="8.43" height="8.72" fill="#04bbc2"/>
<rect x="117.47" y="193.36" width="8.43" height="8.72" fill="#02bac5"/>
<rect x="125.81" y="193.36" width="8.43" height="8.72" fill="#01b9c8"/>
<rect x="134.14" y="193.36" width="8.43" height="8.72" fill="#01b7ca"/>
<rect x="142.48" y="193.36" width="8.43" height="8.72" fill="#04b6cd"/>
<rect x="150.81" y="193.36" width="8.43" height="8.72" fill="#06b5ce"/>
<rect x="159.15" y="193.36" width="8.43" height="8.72" fill="#07b5d0"/>
<rect x="167.48" y="193.36" width="8.43" height="8.72" fill="#09b4d1"/>
<rect x="175.82" y="193.36" width="8.43" height="8.72" fill="#0bb3d2"/>
<rect x="184.15" y="193.36" width="8.43" height="8.72" fill="#0cb3d3"/>
<rect x="192.49" y="193.36" width="8.43" height="8.72" fill="#0db3d3"/>
<rect x="200.82" y="193.36" width="8.43" height="8.72" fill="#0eb3d4"/>
<rect x="209.16" y="193.36" width="8.43" height="8.72" fill="#0eb2d4"/>
<rect x="217.50" y="193.36" width="8.43" height="8.72" fill="#0eb3d4"/>
<rect x="225.83" y="193.36" width="8.43" height="8.72" fill="#0db3d3"/>
<rect x="234.16" y="193.36" width="8.43" height="8.72" fill="#0cb3d3"/>
<rect x="242.50" y="193.36" width="8.43" height="8.72" fill="#0bb3d2"/>
<rect x="250.83" y="193.36" width="8.43" height="8.72" fill="#0ab4d2"/>
<rect x="259.17" y="193.36" width="8.43" height="8.72" fill="#08b4d1"/>
<rect x="267.50" y="193.36" width="8.43" height="8.72" fill="#07b5cf"/>
<rect x="275.84" y="193.36" width="8.43" height="8.72" fill="#05b6ce"/>
<rect x="284.17" y="193.36" width="8.43" height="8.72" fill="#03b7cc"/>
<rect x="292.51" y="193.36" width="8.43" height="8.72" fill="#01b8ca"/>
<rect x="300.84" y="193.36" width="8.43" height="8.72" fill="#01b9c8"/>
<rect x="309.18" y="193.36" width="8.43" height="8.72" fill="#01bac5"/>
<rect x="317.51" y="193.36" width="8.43" height="8.72" fill="#03bbc3"/>
<rect x="325.85" y="193.36" width="8.43" height="8.72" fill="#07bcc0"/>
<rect x="334.19" y="193.36" width="8.43" height="8.72" fill="#0cbdbc"/>
<rect x="342.52" y="193.36" width="8.43" height="8.72" fill="#13beb9"/>
<rect x="350.85" y="193.36" width="8.43" height="8.72" fill="#1ac0b5"/>
<rect x="359.19" y="193.36" width="8.43" height="8.72" fill="#21c1b0"/>
<rect x="367.52" y="193.36" width="8.43" height="8.72" fill="#27c2ac"/>
<rect x="375.86" y="193.36" width="8.43" height="8.72" fill="#2cc4a7"/>
<rect x="384.19" y="193.36" width="8.43" height="8.72" fill="#30c5a1"/>
<rect x="392.53" y="193.36" width="8.43" height="8.72" fill="#34c79b"/>
<rect x="400.86" y="193.36" width="8.43" height="8.72" fill="#39c995"/>
<rect x="75.80" y="201.98" width="8.43" height="8.72" fill="#25c2ae"/>
<rect x="84.13" y="201.98" width="8.43" height="8.72" fill="#1dc0b3"/>
<rect x="92.47" y="201.98" width="8.43" height="8.72" fill="#15bfb7"/>
<rect x="100.80" y="201.98" width="8.43" height="8.72" fill="#0dbdbc"/>
<rect x="109.14" y="201.98" width="8.43" height="8.72" fill="#07bcbf"/>
<rect x="117.47" y="201.98" width="8.43" height="8.72" fill="#02bbc3"/>
<rect x="125.81" y="201.98" width="8.43" height="8.72" fill="#01b9c6"/>
<rect x="134.14" y="201.98" width="8.43" height="8.72" fill="#01b8c9"/>
<rect x="142.48" y="201.98" width="8.43" height="8.72" fill="#02b7cb"/>
<rect x="150.81" y="201.98" width="8.43" height="8.72" fill="#04b6cd"/>
<rect x="159.15" y="201.98" width="8.43" height="8.72" fill="#06b5cf"/>
<rect x="167.48" y="201.98" width="8.43" height="8.72" fill="#08b4d1"/>
<rect x="175.82" y="201.98" width="8.43" height="8.72" fill="#0ab4d2"/>
<rect x="184.15" y="201.98" width="8.43" height="8.72" fill="#0cb3d3"/>
<rect x="192.49" y="201.98" width="8.43" height="8.72" fill="#0db3d3"/>
<rect x="200.82" y="201.98" width="8.43" height="8.72" fill="#0eb2d4"/>
<rect x="209.16" y="201.98" width="8.43" height="8.72" fill="#0eb2d4"/>
<rect x="217.50" y="201.98" width="8.43" height="8.72" fill="#0eb2d4"/>
<rect x="225.83" y="201.98" width="8.43" height="8.72" fill="#0eb2d4"/>
<rect x="234.16" y="201.98" width="8.43" height="8.72" fill="#0eb3d4"/>
<rect x="242.50" y="201.98" width="8.43" height="8.72" fill="#0db3d3"/>
<rect x="250.83" y="201.98" width="8.43" height="8.72" fill="#0cb3d3"/>
<rect x="259.17" y="201.98" width="8.43" height="8.72" fill="#0ab4d2"/>
<rect x="267.50" y="201.98" width="8.43" height="8.72" fill="#08b4d1"/>
<rect x="275.84" y="201.98" width="8.43" height="8.72" fill="#07b5cf"/>
<rect x="284.17" y="201.98" width="8.43" height="8.72" fill="#05b6ce"/>
<rect x="292.51" y="201.98" width="8.43" height="8.72" fill="#03b7cc"/>
<rect x="300.84" y="201.98" width="8.43" height="8.72" fill="#01b8ca"/>
<rect x="309.18" y="201.98" width="8.43" height="8.72" fill="#01b9c8"/>
<rect x="317.51" y="201.98" width="8.43" height="8.72" fill="#02bac5"/>
<rect x="325.85" y="201.98" width="8.43" height="8.72" fill="#03bbc2"/>
<rect x="334.19" y="201.98" width="8.43" height="8.72" fill="#08bcbf"/>
<rect x="342.52" y="201.98" width="8.43" height="8.72" fill="#0dbdbc"/>
<rect x="350.85" y="201.98" width="8.43" height="8.72" fill="#14beb8"/>
<rect x="359.19" y="201.98" width="8.43" height="8.72" fill="#1bc0b4"/>
<rect x="367.52" y="201.98" width="8.43" height="8.72" fill="#22c1b0"/>
<rect x="375.86" y="201.98" width="8.43" height="8.72" fill="#28c2ab"/>
<rect x="384.19" y="201.98" width="8.43" height="8.72" fill="#2dc4a6"/>
<rect x="392.53" y="201.98" width="8.43" height="8.72" fill="#31c6a0"/>
<rect x="400.86" y="201.98" width="8.43" height="8.72" fill="#35c79a"/>
<rect x="75.80" y="210.60" width="8.43" height="8.72" fill="#29c3aa"/>
<rect x="84.13" y="210.60" width="8.43" height="8.72" fill="#23c1af"/>
<rect x="92.47" y="210.60" width="8.43" height="8.72" fill="#1bc0b4"/>
<rect x="100.80" y="210.60" width="8.43" height="8.72" fill="#13beb9"/>
<rect x="109.14" y="210.60" width="8.43" height="8.72" fill="#0bbdbd"/>
<rect x="117.47" y="210.60" width="8.43" height="8.72" fill="#06bcc1"/>
<rect x="125.81" y="210.60" width="8.43" height="8.72" fill="#02bac4"/>
<rect x="134.14" y="210.60" width="8.43" height="8.72" fill="#01b9c7"/>
<rect x="142.48" y="210.60" width="8.43" height="8.72" fill="#01b8ca"/>
<rect x="150.81" y="210.60" width="8.43" height="8.72" fill="#03b7cc"/>
<rect x="159.15" y="210.60" width="8.43" height="8.72" fill="#05b6ce"/>
<rect x="167.48" y="210.60" width="8.43" height="8.72" fill="#07b5d0"/>
<rect x="175.82" y="210.60" width="8.43" height="8.72" fill="#09b4d1"/>
<rect x="184.15" y="210.60" width="8.43" height="8.72" fill="#0bb3d2"/>
<rect x="192.49" y="210.60" width="8.43" height="8.72" fill="#0cb3d3"/>
<rect x="200.82" y="210.60" width="8.43" height="8.72" fill="#0eb3d4"/>
<rect x="209.16" y="210.60" width="8.43" height="8.72" fill="#0eb2d4"/>
<rect x="217.50" y="210.60" width="8.43" height="8.72" fill="#0fb2d4"/>
<rect x="225.83" y="210.60" width="8.43" height="8.72" fill="#0fb2d4"/>
<rect x="234.16" y="210.60" width="8.43" height="8.72" fill="#0eb2d4"/>
<rect x="242.50" y="210.60" width="8.43" height="8.72" fill="#0eb2d4"/>
<rect x="250.83" y="210.60" width="8.43" height="8.72" fill="#0db3d3"/>
<rect x="259.17" y="210.60" width="8.43" height="8.72" fill="#0cb3d3"/>
<rect x="267.50" y="210.60" width="8.43" height="8.72" fill="#0ab4d2"/>
<rect x="275.84" y="210.60" width="8.43" height="8.72" fill="#08b4d1"/>
<rect x="284.17" y="210.60" width="8.43" height="8.72" fill="#07b5cf"/>
<rect x="292.51" y="210.60" width="8.43" height="8.72" fill="#05b6ce"/>
<rect x="300.84" y="210.60" width="8.43" height="8.72" fill="#03b7cc"/>
<rect x="309.18" y="210.60" width="8.43" height="8.72" fill="#01b8ca"/>
<rect x="317.51" y="210.60" width="8.43" height="8.72" fill="#01b9c7"/>
<rect x="325.85" y="210.60" width="8.43" height="8.72" fill="#02bac5"/>
<rect x="334.19" y="210.60" width="8.43" height="8.72" fill="#04bbc2"/>
<rect x="342.52" y="210.60" width="8.43" height="8.72" fill="#08bcbf"/>
<rect x="350.85" y="210.60" width="8.43" height="8.72" fill="#0ebdbb"/>
<rect x="359.19" y="210.60" width="8.43" height="8.72" fill="#15bfb7"/>
<rect x="367.52" y="210.60" width="8.43" height="8.72" fill="#1dc0b3"/>
<rect x="375.86" y="210.60" width="8.43" height="8.72" fill="#24c1af"/>
<rect x="384.19" y="210.60" width="8.43" height="8.72" fill="#29c3aa"/>
<rect x="392.53" y="210.60" width="8.43" height="8.72" fill="#2ec4a5"/>
<rect x="400.86" y="210.60" width="8.43" height="8.72" fill="#32c69f"/>
<rect x="75.80" y="219.22" width="8.43" height="8.72" fill="#2dc4a6"/>
<rect x="84.13" y="219.22" width="8.43" height="8.72" fill="#27c2ac"/>
<rect x="92.47" y="219.22" width="8.43" height="8.72" fill="#20c1b1"/>
<rect x="100.80" y="219.22" width="8.43" height="8.72" fill="#19bfb6"/>
<rect x="109.14" y="219.22" width="8.43" height="8.72" fill="#10beba"/>
<rect x="117.47" y="219.22" width="8.43" height="8.72" fill="#09bcbe"/>
<rect x="125.81" y="219.22" width="8.43" height="8.72" fill="#04bbc2"/>
<rect x="134.14" y="219.22" width="8.43" height="8.72" fill="#02bac5"/>
<rect x="142.48" y="219.22" width="8.43" height="8.72" fill="#01b9c8"/>
<rect x="150.81" y="219.22" width="8.43" height="8.72" fill="#01b7ca"/>
<rect x="159.15" y="219.22" width="8.43" height="8.72" fill="#04b6cc"/>
<rect x="167.48" y="219.22" width="8.43" height="8.72" fill="#06b5ce"/>
<rect x="175.82" y="219.22" width="8.43" height="8.72" fill="#08b5d0"/>
<rect x="184.15" y="219.22" width="8.43" height="8.72" fill="#0ab4d1"/>
<rect x="192.49" y="219.22" width="8.43" height="8.72" fill="#0cb3d3"/>
<rect x="200.82" y="219.22" width="8.43" height="8.72" fill="#0db3d3"/>
<rect x="209.16" y="219.22" width="8.43" height="8.72" fill="#0eb2d4"/>
<rect x="217.50" y="219.22" width="8.43" height="8.72" fill="#0fb2d4"/>
<rect x="225.83" y="219.22" width="8.43" height="8.72" fill="#0fb2d5"/>
<rect x="234.16" y="219.22" width="8.43" height="8.72" fill="#0fb2d5"/>
<rect x="242.50" y="219.22" width="8.43" height="8.72" fill="#0fb2d4"/>
<rect x="250.83" y="219.22" width="8.43" height="8.72" fill="#0eb2d4"/>
<rect x="259.17" y="219.22" width="8.43" height="8.72" fill="#0db3d3"/>
<rect x="267.50" y="219.22" width="8.43" height="8.72" fill="#0cb3d3"/>
<rect x="275.84" y="219.22" width="8.43" height="8.72" fill="#0ab4d2"/>
<rect x="284.17" y="219.22" width="8.43" height="8.72" fill="#08b4d1"/>
<rect x="292.51" y="219.22" width="8.43" height="8.72" fill="#06b5cf"/>
<rect x="300.84" y="219.22" width="8.43" height="8.72" fill="#05b6cd"/>
<rect x="309.18" y="219.22" width="8.43" height="8.72" fill="#03b7cc"/>
<rect x="317.51" y="219.22" width="8.43" height="8.72" fill="#01b8c9"/>
<rect x="325.85" y="219.22" width="8.43" height="8.72" fill="#01b9c7"/>
<rect x="334.19" y="219.22" width="8.43" height="8.72" fill="#02bac4"/>
<rect x="342.52" y="219.22" width="8.43" height="8.72" fill="#05bbc1"/>
<rect x="350.85" y="219.22" width="8.43" height="8.72" fill="#09bcbe"/>
<rect x="359.19" y="219.22" width="8.43" height="8.72" fill="#0fbeba"/>
<rect x="367.52" y="219.22" width="8.43" height="8.72" fill="#17bfb6"/>
<rect x="375.86" y="219.22" width="8.43" height="8.72" fill="#1ec0b2"/>
<rect x="384.19" y="219.22" width="8.43" height="8.72" fill="#25c2ae"/>
<rect x="392.53" y="219.22" width="8.43" height="8.72" fill="#2ac3a9"/>
<rect x="400.86" y="219.22" width="8.43" height="8.72" fill="#2fc5a3"/>
<rect x="75.80" y="227.84" width="8.43" height="8.72" fill="#30c5a1"/>
<rect x="84.13" y="227.84" width="8.43" height="8.72" fill="#2bc3a8"/>
<rect x="92.47" y="227.84" width="8.43" height="8.72" fill="#25c2ad"/>
<rect x="100.80" y="227.84" width="8.43" height="8.72" fill="#1ec0b2"/>
<rect x="109.14" y="227.84" width="8.43" height="8.72" fill="#16bfb7"/>
<rect x="117.47" y="227.84" width="8.43" height="8.72" fill="#0ebdbb"/>
<rect x="125.81" y="227.84" width="8.43" height="8.72" fill="#08bcbf"/>
<rect x="134.14" y="227.84" width="8.43" height="8.72" fill="#03bbc2"/>
<rect x="142.48" y="227.84" width="8.43" height="8.72" fill="#01b9c6"/>
<rect x="150.81" y="227.84" width="8.43" height="8.72" fill="#01b8c8"/>
<rect x="159.15" y="227.84" width="8.43" height="8.72" fill="#02b7cb"/>
<rect x="167.48" y="227.84" width="8.43" height="8.72" fill="#04b6cd"/>
<rect x="175.82" y="227.84" width="8.43" height="8.72" fill="#06b5cf"/>
<rect x="184.15" y="227.84" width="8.43" height="8.72" fill="#08b4d1"/>
<rect x="192.49" y="227.84" width="8.43" height="8.72" fill="#0ab4d2"/>
<rect x="200.82" y="227.84" width="8.43" height="8.72" fill="#0cb3d3"/>
<rect x="209.16" y="227.84" width="8.43" height="8.72" fill="#0eb3d4"/>
<rect x="217.50" y="227.84" width="8.43" height="8.72" fill="#0fb2d4"/>
<rect x="225.83" y="227.84" width="8.43" height="8.72" fill="#0fb2d5"/>
<rect x="234.16" y="227.84" width="8.43" height="8.72" fill="#0fb2d5"/>
<rect x="242.50" y="227.84" width="8.43" height="8.72" fill="#0fb2d5"/>
<rect x="250.83" y="227.84" width="8.43" height="8.72" fill="#0fb2d5"/>
<rect x="259.17" y="227.84" width="8.43" height="8.72" fill="#0eb2d4"/>
<rect x="267.50" y="227.84" width="8.43" height="8.72" fill="#0db3d3"/>
<rect x="275.84" y="227.84" width="8.43" height="8.72" fill="#0cb3d3"/>
<rect x="284.17" y="227.84" width="8.43" height="8.72" fill="#0ab4d2"/>
<rect x="292.51" y="227.84" width="8.43" height="8.72" fill="#08b4d0"/>
<rect x="300.84" y="227.84" width="8.43" height="8.72" fill="#06b5cf"/>
<rect x="309.18" y="227.84" width="8.43" height="8.72" fill="#04b6cd"/>
<rect x="317.51" y="227.84" width="8.43" height="8.72" fill="#02b7cb"/>
<rect x="325.85" y="227.84" width="8.43" height="8.72" fill="#01b8c9"/>
<rect x="334.19" y="227.84" width="8.43" height="8.72" fill="#01b9c7"/>
<rect x="342.52" y="227.84" width="8.43" height="8.72" fill="#02bac4"/>
<rect x="350.85" y="227.84" width="8.43" height="8.72" fill="#05bbc1"/>
<rect x="359.19" y="227.84" width="8.43" height="8.72" fill="#0abdbd"/>
<rect x="367.52" y="227.84" width="8.43" height="8.72" fill="#11beba"/>
<rect x="375.86" y="227.84" width="8.43" height="8.72" fill="#19bfb6"/>
<rect x="384.19" y="227.84" width="8.43" height="8.72" fill="#1fc1b1"/>
<rect x="392.53" y="227.84" width="8.43" height="8.72" fill="#26c2ad"/>
<rect x="400.86" y="227.84" width="8.43" height="8.72" fill="#2bc3a7"/>
<rect x="75.80" y="236.46" width="8.43" height="8.72" fill="#33c79d"/>
<rect x="84.13" y="236.46" width="8.43" height="8.72" fill="#2fc5a3"/>
<rect x="92.47" y="236.46" width="8.43" height="8.72" fill="#2ac3a9"/>
<rect x="100.80" y="236.46" width="8.43" height="8.72" fill="#24c1af"/>
<rect x="109.14" y="236.46" width="8.43" height="8.72" fill="#1cc0b3"/>
<rect x="117.47" y="236.46" width="8.43" height="8.72" fill="#14beb8"/>
<rect x="125.81" y="236.46" width="8.43" height="8.72" fill="#0cbdbc"/>
<rect x="134.14" y="236.46" width="8.43" height="8.72" fill="#06bcc0"/>
<rect x="142.48" y="236.46" width="8.43" height="8.72" fill="#02bac3"/>
<rect x="150.81" y="236.46" width="8.43" height="8.72" fill="#01b9c6"/>
<rect x="159.15" y="236.46" width="8.43" height="8.72" fill="#01b8c9"/>
<rect x="167.48" y="236.46" width="8.43" height="8.72" fill="#03b7cb"/>
<rect x="175.82" y="236.46" width="8.43" height="8.72" fill="#05b6ce"/>
<rect x="184.15" y="236.46" width="8.43" height="8.72" fill="#07b5cf"/>
<rect x="192.49" y="236.46" width="8.43" height="8.72" fill="#09b4d1"/>
<rect x="200.82" y="236.46" width="8.43" height="8.72" fill="#0bb3d2"/>
<rect x="209.16" y="236.46" width="8.43" height="8.72" fill="#0db3d3"/>
<rect x="217.50" y="236.46" width="8.43" height="8.72" fill="#0eb2d4"/>
<rect x="225.83" y="236.46" width="8.43" height="8.72" fill="#0fb2d4"/>
<rect x="234.16" y="236.46" width="8.43" height="8.72" fill="#0fb2d5"/>
<rect x="242.50" y="236.46" width="8.43" height="8.72" fill="#10b2d5"/>
<rect x="250.83" y="236.46" width="8.43" height="8.72" fill="#10b2d5"/>
<rect x="259.17" y="236.46" width="8.43" height="8.72" fill="#0fb2d5"/>
<rect x="267.50" y="236.46" width="8.43" height="8.72" fill="#0eb2d4"/>
<rect x="275.84" y="236.46" width="8.43" height="8.72" fill="#0db3d3"/>
<rect x="284.17" y="236.46" width="8.43" height="8.72" fill="#0cb3d3"/>
<rect x="292.51" y="236.46" width="8.43" height="8.72" fill="#0ab4d2"/>
<rect x="300.84" y="236.46" width="8.43" height="8.72" fill="#08b5d0"/>
<rect x="309.18" y="236.46" width="8.43" height="8.72" fill="#06b5cf"/>
<rect x="317.51" y="236.46" width="8.43" height="8.72" fill="#04b6cd"/>
<rect x="325.85" y="236.46" width="8.43" height="8.72" fill="#02b7cb"/>
<rect x="334.19" y="236.46" width="8.43" height="8.72" fill="#01b8c9"/>
<rect x="342.52" y="236.46" width="8.43" height="8.72" fill="#01b9c6"/>
<rect x="350.85" y="236.46" width="8.43" height="8.72" fill="#02bac3"/>
<rect x="359.19" y="236.46" width="8.43" height="8.72" fill="#06bcc0"/>
<rect x="367.52" y="236.46" width="8.43" height="8.72" fill="#0bbdbd"/>
<rect x="375.86" y="236.46" width="8.43" height="8.72" fill="#12beb9"/>
<rect x="384.19" y="236.46" width="8.43" height="8.72" fill="#1ac0b5"/>
<rect x="392.53" y="236.46" width="8.43" height="8.72" fill="#21c1b0"/>
<rect x="400.86" y="236.46" width="8.43" height="8.72" fill="#27c2ab"/>
<rect x="75.80" y="245.08" width="8.43" height="8.72" fill="#37c897"/>
<rect x="84.13" y="245.08" width="8.43" height="8.72" fill="#32c69e"/>
<rect x="92.47" y="245.08" width="8.43" height="8.72" fill="#2dc4a5"/>
<rect x="100.80" y="245.08" width="8.43" height="8.72" fill="#28c3ab"/>
<rect x="109.14" y="245.08" width="8.43" height="8.72" fill="#22c1b0"/>
<rect x="117.47" y="245.08" width="8.43" height="8.72" fill="#1ac0b5"/>
<rect x="125.81" y="245.08" width="8.43" height="8.72" fill="#12beb9"/>
<rect x="134.14" y="245.08" width="8.43" height="8.72" fill="#0abdbd"/>
<rect x="142.48" y="245.08" width="8.43" height="8.72" fill="#05bbc1"/>
<rect x="150.81" y="245.08" width="8.43" height="8.72" fill="#02bac4"/>
<rect x="159.15" y="245.08" width="8.43" height="8.72" fill="#01b9c7"/>
<rect x="167.48" y="245.08" width="8.43" height="8.72" fill="#01b8ca"/>
<rect x="175.82" y="245.08" width="8.43" height="8.72" fill="#03b7cc"/>
<rect x="184.15" y="245.08" width="8.43" height="8.72" fill="#05b6ce"/>
<rect x="192.49" y="245.08" width="8.43" height="8.72" fill="#07b5d0"/>
<rect x="200.82" y="245.08" width="8.43" height="8.72" fill="#09b4d1"/>
<rect x="209.16" y="245.08" width="8.43" height="8.72" fill="#0bb3d2"/>
<rect x="217.50" y="245.08" width="8.43" height="8.72" fill="#0db3d3"/>
<rect x="225.83" y="245.08" width="8.43" height="8.72" fill="#0eb2d4"/>
<rect x="234.16" y="245.08" width="8.43" height="8.72" fill="#0fb2d5"/>
<rect x="242.50" y="245.08" width="8.43" height="8.72" fill="#10b2d5"/>
<rect x="250.83" y="245.08" width="8.43" height="8.72" fill="#10b2d5"/>
<rect x="259.17" y="245.08" width="8.43" height="8.72" fill="#10b2d5"/>
<rect x="267.50" y="245.08" width="8.43" height="8.72" fill="#0fb2d5"/>
<rect x="275.84" y="245.08" width="8.43" height="8.72" fill="#0eb2d4"/>
<rect x="284.17" y="245.08" width="8.43" height="8.72" fill="#0db3d3"/>
<rect x="292.51" y="245.08" width="8.43" height="8.72" fill="#0cb3d2"/>
<rect x="300.84" y="245.08" width="8.43" height="8.72" fill="#0ab4d1"/>
<rect x="309.18" y="245.08" width="8.43" height="8.72" fill="#07b5d0"/>
<rect x="317.51" y="245.08" width="8.43" height="8.72" fill="#06b5ce"/>
<rect x="325.85" y="245.08" width="8.43" height="8.72" fill="#04b6cd"/>
<rect x="334.19" y="245.08" width="8.43" height="8.72" fill="#02b7cb"/>
<rect x="342.52" y="245.08" width="8.43" height="8.72" fill="#01b8c8"/>
<rect x="350.85" y="245.08" width="8.43" height="8.72" fill="#01bac5"/>
<rect x="359.19" y="245.08" width="8.43" height="8.72" fill="#03bbc3"/>
<rect x="367.52" y="245.08" width="8.43" height="8.72" fill="#07bcbf"/>
<rect x="375.86" y="245.08" width="8.43" height="8.72" fill="#0dbdbc"/>
<rect x="384.19" y="245.08" width="8.43" height="8.72" fill="#14bfb8"/>
<rect x="392.53" y="245.08" width="8.43" height="8.72" fill="#1cc0b4"/>
<rect x="400.86" y="245.08" width="8.43" height="8.72" fill="#23c1af"/>
<rect x="75.80" y="253.70" width="8.43" height="8.72" fill="#3cc991"/>
<rect x="84.13" y="253.70" width="8.43" height="8.72" fill="#36c799"/>
<rect x="92.47" y="253.70" width="8.43" height="8.72" fill="#31c6a0"/>
<rect x="100.80" y="253.70" width="8.43" height="8.72" fill="#2cc4a6"/>
<rect x="109.14" y="253.70" width="8.43" height="8.72" fill="#27c2ac"/>
<rect x="117.47" y="253.70" width="8.43" height="8.72" fill="#20c1b1"/>
<rect x="125.81" y="253.70" width="8.43" height="8.72" fill="#18bfb6"/>
<rect x="134.14" y="253.70" width="8.43" height="8.72" fill="#10beba"/>
<rect x="142.48" y="253.70" width="8.43" height="8.72" fill="#09bcbe"/>
<rect x="150.81" y="253.70" width="8.43" height="8.72" fill="#04bbc2"/>
<rect x="159.15" y="253.70" width="8.43" height="8.72" fill="#02bac5"/>
<rect x="167.48" y="253.70" width="8.43" height="8.72" fill="#01b9c8"/>
<rect x="175.82" y="253.70" width="8.43" height="8.72" fill="#01b8ca"/>
<rect x="184.15" y="253.70" width="8.43" height="8.72" fill="#04b6cc"/>
<rect x="192.49" y="253.70" width="8.43" height="8.72" fill="#06b5ce"/>
<rect x="200.82" y="253.70" width="8.43" height="8.72" fill="#07b5d0"/>
<rect x="209.16" y="253.70" width="8.43" height="8.72" fill="#0ab4d1"/>
<rect x="217.50" y="253.70" width="8.43" height="8.72" fill="#0cb3d3"/>
<rect x="225.83" y="253.70" width="8.43" height="8.72" fill="#0db3d3"/>
<rect x="234.16" y="253.70" width="8.43" height="8.72" fill="#0eb2d4"/>
<rect x="242.50" y="253.70" width="8.43" height="8.72" fill="#0fb2d5"/>
<rect x="250.83" y="253.70" width="8.43" height="8.72" fill="#10b2d5"/>
<rect x="259.17" y="253.70" width="8.43" height="8.72" fill="#10b2d5"/>
<rect x="267.50" y="253.70" width="8.43" height="8.72" fill="#0fb2d5"/>
<rect x="275.84" y="253.70" width="8.43" height="8.72" fill="#0fb2d4"/>
<rect x="284.17" y="253.70" width="8.43" height="8.72" fill="#0eb2d4"/>
<rect x="292.51" y="253.70" width="8.43" height="8.72" fill="#0db3d3"/>
<rect x="300.84" y="253.70" width="8.43" height="8.72" fill="#0bb3d2"/>
<rect x="309.18" y="253.70" width="8.43" height="8.72" fill="#09b4d1"/>
<rect x="317.51" y="253.70" width="8.43" height="8.72" fill="#07b5d0"/>
<rect x="325.85" y="253.70" width="8.43" height="8.72" fill="#05b6ce"/>
<rect x="334.19" y="253.70" width="8.43" height="8.72" fill="#03b7cc"/>
<rect x="342.52" y="253.70" width="8.43" height="8.72" fill="#01b8ca"/>
<rect x="350.85" y="253.70" width="8.43" height="8.72" fill="#01b9c8"/>
<rect x="359.19" y="253.70" width="8.43" height="8.72" fill="#02bac5"/>
<rect x="367.52" y="253.70" width="8.43" height="8.72" fill="#04bbc2"/>
<rect x="375.86" y="253.70" width="8.43" height="8.72" fill="#08bcbe"/>
<rect x="384.19" y="253.70" width="8.43" height="8.72" fill="#0ebebb"/>
<rect x="392.53" y="253.70" width="8.43" height="8.72" fill="#16bfb7"/>
<rect x="400.86" y="253.70" width="8.43" height="8.72" fill="#1dc0b3"/>
<rect x="75.80" y="262.32" width="8.43" height="8.72" fill="#42ca8b"/>
<rect x="84.13" y="262.32" width="8.43" height="8.72" fill="#3ac994"/>
<rect x="92.47" y="262.32" width="8.43" height="8.72" fill="#34c79b"/>
<rect x="100.80" y="262.32" width="8.43" height="8.72" fill="#30c5a2"/>
<rect x="109.14" y="262.32" width="8.43" height="8.72" fill="#2bc3a8"/>
<rect x="117.47" y="262.32" width="8.43" height="8.72" fill="#25c2ad"/>
<rect x="125.81" y="262.32" width="8.43" height="8.72" fill="#1ec0b2"/>
<rect x="134.14" y="262.32" width="8.43" height="8.72" fill="#16bfb7"/>
<rect x="142.48" y="262.32" width="8.43" height="8.72" fill="#0ebdbb"/>
<rect x="150.81" y="262.32" width="8.43" height="8.72" fill="#08bcbf"/>
<rect x="159.15" y="262.32" width="8.43" height="8.72" fill="#03bbc2"/>
<rect x="167.48" y="262.32" width="8.43" height="8.72" fill="#01bac5"/>
<rect x="175.82" y="262.32" width="8.43" height="8.72" fill="#01b8c8"/>
<rect x="184.15" y="262.32" width="8.43" height="8.72" fill="#02b7cb"/>
<rect x="192.49" y="262.32" width="8.43" height="8.72" fill="#04b6cd"/>
<rect x="200.82" y="262.32" width="8.43" height="8.72" fill="#06b5cf"/>
<rect x="209.16" y="262.32" width="8.43" height="8.72" fill="#08b4d0"/>
<rect x="217.50" y="262.32" width="8.43" height="8.72" fill="#0ab4d2"/>
<rect x="225.83" y="262.32" width="8.43" height="8.72" fill="#0cb3d3"/>
<rect x="234.16" y="262.32" width="8.43" height="8.72" fill="#0db3d4"/>
<rect x="242.50" y="262.32" width="8.43" height="8.72" fill="#0eb2d4"/>
<rect x="250.83" y="262.32" width="8.43" height="8.72" fill="#0fb2d5"/>
<rect x="259.17" y="262.32" width="8.43" height="8.72" fill="#10b2d5"/>
<rect x="267.50" y="262.32" width="8.43" height="8.72" fill="#10b2d5"/>
<rect x="275.84" y="262.32" width="8.43" height="8.72" fill="#0fb2d5"/>
<rect x="284.17" y="262.32" width="8.43" height="8.72" fill="#0fb2d4"/>
<rect x="292.51" y="262.32" width="8.43" height="8.72" fill="#0eb2d4"/>
<rect x="300.84" y="262.32" width="8.43" height="8.72" fill="#0cb3d3"/>
<rect x="309.18" y="262.32" width="8.43" height="8.72" fill="#0bb3d2"/>
<rect x="317.51" y="262.32" width="8.43" height="8.72" fill="#09b4d1"/>
<rect x="325.85" y="262.32" width="8.43" height="8.72" fill="#07b5cf"/>
<rect x="334.19" y="262.32" width="8.43" height="8.72" fill="#05b6ce"/>
<rect x="342.52" y="262.32" width="8.43" height="8.72" fill="#03b7cc"/>
<rect x="350.85" y="262.32" width="8.43" height="8.72" fill="#01b8ca"/>
<rect x="359.19" y="262.32" width="8.43" height="8.72" fill="#01b9c7"/>
<rect x="367.52" y="262.32" width="8.43" height="8.72" fill="#02bac4"/>
<rect x="375.86" y="262.32" width="8.43" height="8.72" fill="#05bbc1"/>
<rect x="384.19" y="262.32" width="8.43" height="8.72" fill="#0abdbe"/>
<rect x="392.53" y="262.32" width="8.43" height="8.72" fill="#10beba"/>
<rect x="400.86" y="262.32" width="8.43" height="8.72" fill="#18bfb6"/>
<rect x="75.80" y="270.94" width="8.43" height="8.72" fill="#4acb85"/>
<rect x="84.13" y="270.94" width="8.43" height="8.72" fill="#3fca8e"/>
<rect x="92.47" y="270.94" width="8.43" height="8.72" fill="#38c896"/>
<rect x="100.80" y="270.94" width="8.43" height="8.72" fill="#33c69d"/>
<rect x="109.14" y="270.94" width="8.43" height="8.72" fill="#2ec5a4"/>
<rect x="117.47" y="270.94" width="8.43" height="8.72" fill="#29c3a9"/>
<rect x="125.81" y="270.94" width="8.43" height="8.72" fill="#24c1af"/>
<rect x="134.14" y="270.94" width="8.43" height="8.72" fill="#1cc0b3"/>
<rect x="142.48" y="270.94" width="8.43" height="8.72" fill="#14bfb8"/>
<rect x="150.81" y="270.94" width="8.43" height="8.72" fill="#0cbdbc"/>
<rect x="159.15" y="270.94" width="8.43" height="8.72" fill="#07bcc0"/>
<rect x="167.48" y="270.94" width="8.43" height="8.72" fill="#02bbc3"/>
<rect x="175.82" y="270.94" width="8.43" height="8.72" fill="#01b9c6"/>
<rect x="184.15" y="270.94" width="8.43" height="8.72" fill="#01b8c9"/>
<rect x="192.49" y="270.94" width="8.43" height="8.72" fill="#02b7cb"/>
<rect x="200.82" y="270.94" width="8.43" height="8.72" fill="#04b6cd"/>
<rect x="209.16" y="270.94" width="8.43" height="8.72" fill="#06b5cf"/>
<rect x="217.50" y="270.94" width="8.43" height="8.72" fill="#08b4d0"/>
<rect x="225.83" y="270.94" width="8.43" height="8.72" fill="#0ab4d2"/>
<rect x="234.16" y="270.94" width="8.43" height="8.72" fill="#0cb3d3"/>
<rect x="242.50" y="270.94" width="8.43" height="8.72" fill="#0db3d4"/>
<rect x="250.83" y="270.94" width="8.43" height="8.72" fill="#0eb2d4"/>
<rect x="259.17" y="270.94" width="8.43" height="8.72" fill="#0fb2d5"/>
<rect x="267.50" y="270.94" width="8.43" height="8.72" fill="#0fb2d5"/>
<rect x="275.84" y="270.94" width="8.43" height="8.72" fill="#0fb2d5"/>
<rect x="284.17" y="270.94" width="8.43" height="8.72" fill="#0fb2d5"/>
<rect x="292.51" y="270.94" width="8.43" height="8.72" fill="#0eb2d4"/>
<rect x="300.84" y="270.94" width="8.43" height="8.72" fill="#0db3d4"/>
<rect x="309.18" y="270.94" width="8.43" height="8.72" fill="#0cb3d3"/>
<rect x="317.51" y="270.94" width="8.43" height="8.72" fill="#0ab4d2"/>
<rect x="325.85" y="270.94" width="8.43" height="8.72" fill="#08b4d1"/>
<rect x="334.19" y="270.94" width="8.43" height="8.72" fill="#06b5cf"/>
<rect x="342.52" y="270.94" width="8.43" height="8.72" fill="#04b6cd"/>
<rect x="350.85" y="270.94" width="8.43" height="8.72" fill="#02b7cb"/>
<rect x="359.19" y="270.94" width="8.43" height="8.72" fill="#01b8c9"/>
<rect x="367.52" y="270.94" width="8.43" height="8.72" fill="#01b9c6"/>
<rect x="375.86" y="270.94" width="8.43" height="8.72" fill="#02bac3"/>
<rect x="384.19" y="270.94" width="8.43" height="8.72" fill="#06bcc0"/>
<rect x="392.53" y="270.94" width="8.43" height="8.72" fill="#0bbdbd"/>
<rect x="400.86" y="270.94" width="8.43" height="8.72" fill="#12beb9"/>
<rect x="75.80" y="279.56" width="8.43" height="8.72" fill="#53cc7d"/>
<rect x="84.13" y="279.56" width="8.43" height="8.72" fill="#47cb87"/>
<rect x="92.47" y="279.56" width="8.43" height="8.72" fill="#3dc990"/>
<rect x="100.80" y="279.56" width="8.43" height="8.72" fill="#36c898"/>
<rect x="109.14" y="279.56" width="8.43" height="8.72" fill="#32c69f"/>
<rect x="117.47" y="279.56" width="8.43" height="8.72" fill="#2dc4a5"/>
<rect x="125.81" y="279.56" width="8.43" height="8.72" fill="#28c3ab"/>
<rect x="134.14" y="279.56" width="8.43" height="8.72" fill="#22c1b0"/>
<rect x="142.48" y="279.56" width="8.43" height="8.72" fill="#1ac0b4"/>
<rect x="150.81" y="279.56" width="8.43" height="8.72" fill="#12beb9"/>
<rect x="159.15" y="279.56" width="8.43" height="8.72" fill="#0bbdbd"/>
<rect x="167.48" y="279.56" width="8.43" height="8.72" fill="#06bcc0"/>
<rect x="175.82" y="279.56" width="8.43" height="8.72" fill="#02bac4"/>
<rect x="184.15" y="279.56" width="8.43" height="8.72" fill="#01b9c6"/>
<rect x="192.49" y="279.56" width="8.43" height="8.72" fill="#01b8c9"/>
<rect x="200.82" y="279.56" width="8.43" height="8.72" fill="#02b7cb"/>
<rect x="209.16" y="279.56" width="8.43" height="8.72" fill="#05b6cd"/>
<rect x="217.50" y="279.56" width="8.43" height="8.72" fill="#06b5cf"/>
<rect x="225.83" y="279.56" width="8.43" height="8.72" fill="#08b4d1"/>
<rect x="234.16" y="279.56" width="8.43" height="8.72" fill="#0ab4d2"/>
<rect x="242.50" y="279.56" width="8.43" height="8.72" fill="#0cb3d3"/>
<rect x="250.83" y="279.56" width="8.43" height="8.72" fill="#0db3d4"/>
<rect x="259.17" y="279.56" width="8.43" height="8.72" fill="#0eb2d4"/>
<rect x="267.50" y="279.56" width="8.43" height="8.72" fill="#0fb2d4"/>
<rect x="275.84" y="279.56" width="8.43" height="8.72" fill="#0fb2d5"/>
<rect x="284.17" y="279.56" width="8.43" height="8.72" fill="#0fb2d5"/>
<rect x="292.51" y="279.56" width="8.43" height="8.72" fill="#0fb2d4"/>
<rect x="300.84" y="279.56" width="8.43" height="8.72" fill="#0eb2d4"/>
<rect x="309.18" y="279.56" width="8.43" height="8.72" fill="#0db3d3"/>
<rect x="317.51" y="279.56" width="8.43" height="8.72" fill="#0bb3d2"/>
<rect x="325.85" y="279.56" width="8.43" height="8.72" fill="#0ab4d1"/>
<rect x="334.19" y="279.56" width="8.43" height="8.72" fill="#08b5d0"/>
<rect x="342.52" y="279.56" width="8.43" height="8.72" fill="#06b5cf"/>
<rect x="350.85" y="279.56" width="8.43" height="8.72" fill="#04b6cd"/>
<rect x="359.19" y="279.56" width="8.43" height="8.72" fill="#02b7cb"/>
<rect x="367.52" y="279.56" width="8.43" height="8.72" fill="#01b8c8"/>
<rect x="375.86" y="279.56" width="8.43" height="8.72" fill="#01bac6"/>
<rect x="384.19" y="279.56" width="8.43" height="8.72" fill="#03bbc3"/>
<rect x="392.53" y="279.56" width="8.43" height="8.72" fill="#07bcbf"/>
<rect x="400.86" y="279.56" width="8.43" height="8.72" fill="#0dbdbc"/>
<rect x="75.80" y="288.18" width="8.43" height="8.72" fill="#5ccc76"/>
<rect x="84.13" y="288.18" width="8.43" height="8.72" fill="#4fcc80"/>
<rect x="92.47" y="288.18" width="8.43" height="8.72" fill="#44cb8a"/>
<rect x="100.80" y="288.18" width="8.43" height="8.72" fill="#3bc992"/>
<rect x="109.14" y="288.18" width="8.43" height="8.72" fill="#35c79a"/>
<rect x="117.47" y="288.18" width="8.43" height="8.72" fill="#31c5a1"/>
<rect x="125.81" y="288.18" width="8.43" height="8.72" fill="#2cc4a7"/>
<rect x="134.14" y="288.18" width="8.43" height="8.72" fill="#27c2ac"/>
<rect x="142.48" y="288.18" width="8.43" height="8.72" fill="#20c1b1"/>
<rect x="150.81" y="288.18" width="8.43" height="8.72" fill="#19bfb5"/>
<rect x="159.15" y="288.18" width="8.43" height="8.72" fill="#11beba"/>
<rect x="167.48" y="288.18" width="8.43" height="8.72" fill="#0abdbd"/>
<rect x="175.82" y="288.18" width="8.43" height="8.72" fill="#05bbc1"/>
<rect x="184.15" y="288.18" width="8.43" height="8.72" fill="#02bac4"/>
<rect x="192.49" y="288.18" width="8.43" height="8.72" fill="#01b9c7"/>
<rect x="200.82" y="288.18" width="8.43" height="8.72" fill="#01b8c9"/>
<rect x="209.16" y="288.18" width="8.43" height="8.72" fill="#03b7cc"/>
<rect x="217.50" y="288.18" width="8.43" height="8.72" fill="#05b6ce"/>
<rect x="225.83" y="288.18" width="8.43" height="8.72" fill="#07b5cf"/>
<rect x="234.16" y="288.18" width="8.43" height="8.72" fill="#08b4d1"/>
<rect x="242.50" y="288.18" width="8.43" height="8.72" fill="#0ab4d2"/>
<rect x="250.83" y="288.18" width="8.43" height="8.72" fill="#0cb3d3"/>
<rect x="259.17" y="288.18" width="8.43" height="8.72" fill="#0db3d3"/>
<rect x="267.50" y="288.18" width="8.43" height="8.72" fill="#0eb2d4"/>
<rect x="275.84" y="288.18" width="8.43" height="8.72" fill="#0fb2d4"/>
<rect x="284.17" y="288.18" width="8.43" height="8.72" fill="#0fb2d4"/>
<rect x="292.51" y="288.18" width="8.43" height="8.72" fill="#0fb2d4"/>
<rect x="300.84" y="288.18" width="8.43" height="8.72" fill="#0eb2d4"/>
<rect x="309.18" y="288.18" width="8.43" height="8.72" fill="#0db3d4"/>
<rect x="317.51" y="288.18" width="8.43" height="8.72" fill="#0cb3d3"/>
<rect x="325.85" y="288.18" width="8.43" height="8.72" fill="#0bb3d2"/>
<rect x="334.19" y="288.18" width="8.43" height="8.72" fill="#09b4d1"/>
<rect x="342.52" y="288.18" width="8.43" height="8.72" fill="#07b5d0"/>
<rect x="350.85" y="288.18" width="8.43" height="8.72" fill="#05b6ce"/>
<rect x="359.19" y="288.18" width="8.43" height="8.72" fill="#03b7cc"/>
<rect x="367.52" y="288.18" width="8.43" height="8.72" fill="#01b8ca"/>
<rect x="375.86" y="288.18" width="8.43" height="8.72" fill="#01b9c7"/>
<rect x="384.19" y="288.18" width="8.43" height="8.72" fill="#02bac5"/>
<rect x="392.53" y="288.18" width="8.43" height="8.72" fill="#04bbc2"/>
<rect x="400.86" y="288.18" width="8.43" height="8.72" fill="#09bcbe"/>
<rect x="75.80" y="296.80" width="8.43" height="8.72" fill="#66cd6d"/>
<rect x="84.13" y="296.80" width="8.43" height="8.72" fill="#58cc79"/>
<rect x="92.47" y="296.80" width="8.43" height="8.72" fill="#4ccb83"/>
<rect x="100.80" y="296.80" width="8.43" height="8.72" fill="#41ca8c"/>
<rect x="109.14" y="296.80" width="8.43" height="8.72" fill="#39c994"/>
<rect x="117.47" y="296.80" width="8.43" height="8.72" fill="#34c79c"/>
<rect x="125.81" y="296.80" width="8.43" height="8.72" fill="#2fc5a2"/>
<rect x="134.14" y="296.80" width="8.43" height="8.72" fill="#2bc3a8"/>
<rect x="142.48" y="296.80" width="8.43" height="8.72" fill="#25c2ad"/>
<rect x="150.81" y="296.80" width="8.43" height="8.72" fill="#1ec0b2"/>
<rect x="159.15" y="296.80" width="8.43" height="8.72" fill="#17bfb6"/>
<rect x="167.48" y="296.80" width="8.43" height="8.72" fill="#0fbeba"/>
<rect x="175.82" y="296.80" width="8.43" height="8.72" fill="#09bcbe"/>
<rect x="184.15" y="296.80" width="8.43" height="8.72" fill="#04bbc1"/>
<rect x="192.49" y="296.80" width="8.43" height="8.72" fill="#02bac5"/>
<rect x="200.82" y="296.80" width="8.43" height="8.72" fill="#01b9c7"/>
<rect x="209.16" y="296.80" width="8.43" height="8.72" fill="#01b8ca"/>
<rect x="217.50" y="296.80" width="8.43" height="8.72" fill="#03b7cc"/>
<rect x="225.83" y="296.80" width="8.43" height="8.72" fill="#05b6ce"/>
<rect x="234.16" y="296.80" width="8.43" height="8.72" fill="#07b5cf"/>
<rect x="242.50" y="296.80" width="8.43" height="8.72" fill="#08b4d1"/>
<rect x="250.83" y="296.80" width="8.43" height="8.72" fill="#0ab4d2"/>
<rect x="259.17" y="296.80" width="8.43" height="8.72" fill="#0cb3d3"/>
<rect x="267.50" y="296.80" width="8.43" height="8.72" fill="#0db3d3"/>
<rect x="275.84" y="296.80" width="8.43" height="8.72" fill="#0eb2d4"/>
<rect x="284.17" y="296.80" width="8.43" height="8.72" fill="#0eb2d4"/>
<rect x="292.51" y="296.80" width="8.43" height="8.72" fill="#0eb2d4"/>
<rect x="300.84" y="296.80" width="8.43" height="8.72" fill="#0eb2d4"/>
<rect x="309.18" y="296.80" width="8.43" height="8.72" fill="#0eb3d4"/>
<rect x="317.51" y="296.80" width="8.43" height="8.72" fill="#0db3d3"/>
<rect x="325.85" y="296.80" width="8.43" height="8.72" fill="#0cb3d3"/>
<rect x="334.19" y="296.80" width="8.43" height="8.72" fill="#0ab4d2"/>
<rect x="342.52" y="296.80" width="8.43" height="8.72" fill="#08b4d0"/>
<rect x="350.85" y="296.80" width="8.43" height="8.72" fill="#06b5cf"/>
<rect x="359.19" y="296.80" width="8.43" height="8.72" fill="#05b6cd"/>
<rect x="367.52" y="296.80" width="8.43" height="8.72" fill="#03b7cb"/>
<rect x="375.86" y="296.80" width="8.43" height="8.72" fill="#01b8c9"/>
<rect x="384.19" y="296.80" width="8.43" height="8.72" fill="#01b9c7"/>
<rect x="392.53" y="296.80" width="8.43" height="8.72" fill="#02bac4"/>
<rect x="400.86" y="296.80" width="8.43" height="8.72" fill="#05bbc1"/>
<rect x="75.80" y="305.42" width="8.43" height="8.72" fill="#70cd65"/>
<rect x="84.13" y="305.42" width="8.43" height="8.72" fill="#62cd71"/>
<rect x="92.47" y="305.42" width="8.43" height="8.72" fill="#55cc7c"/>
<rect x="100.80" y="305.42" width="8.43" height="8.72" fill="#49cb86"/>
<rect x="109.14" y="305.42" width="8.43" height="8.72" fill="#3fca8e"/>
<rect x="117.47" y="305.42" width="8.43" height="8.72" fill="#38c896"/>
<rect x="125.81" y="305.42" width="8.43" height="8.72" fill="#33c69d"/>
<rect x="134.14" y="305.42" width="8.43" height="8.72" fill="#2ec5a3"/>
<rect x="142.48" y="305.42" width="8.43" height="8.72" fill="#2ac3a9"/>
<rect x="150.81" y="305.42" width="8.43" height="8.72" fill="#24c1ae"/>
<rect x="159.15" y="305.42" width="8.43" height="8.72" fill="#1dc0b3"/>
<rect x="167.48" y="305.42" width="8.43" height="8.72" fill="#16bfb7"/>
<rect x="175.82" y="305.42" width="8.43" height="8.72" fill="#0ebdbb"/>
<rect x="184.15" y="305.42" width="8.43" height="8.72" fill="#08bcbf"/>
<rect x="192.49" y="305.42" width="8.43" height="8.72" fill="#04bbc2"/>
<rect x="200.82" y="305.42" width="8.43" height="8.72" fill="#02bac5"/>
<rect x="209.16" y="305.42" width="8.43" height="8.72" fill="#01b9c8"/>
<rect x="217.50" y="305.42" width="8.43" height="8.72" fill="#01b8ca"/>
<rect x="225.83" y="305.42" width="8.43" height="8.72" fill="#03b7cc"/>
<rect x="234.16" y="305.42" width="8.43" height="8.72" fill="#05b6ce"/>
<rect x="242.50" y="305.42" width="8.43" height="8.72" fill="#07b5cf"/>
<rect x="250.83" y="305.42" width="8.43" height="8.72" fill="#08b4d1"/>
<rect x="259.17" y="305.42" width="8.43" height="8.72" fill="#0ab4d2"/>
<rect x="267.50" y="305.42" width="8.43" height="8.72" fill="#0cb3d2"/>
<rect x="275.84" y="305.42" width="8.43" height="8.72" fill="#0db3d3"/>
<rect x="284.17" y="305.42" width="8.43" height="8.72" fill="#0db3d4"/>
<rect x="292.51" y="305.42" width="8.43" height="8.72" fill="#0eb2d4"/>
<rect x="300.84" y="305.42" width="8.43" height="8.72" fill="#0eb2d4"/>
<rect x="309.18" y="305.42" width="8.43" height="8.72" fill="#0eb3d4"/>
<rect x="317.51" y="305.42" width="8.43" height="8.72" fill="#0db3d3"/>
<rect x="325.85" y="305.42" width="8.43" height="8.72" fill="#0cb3d3"/>
<rect x="334.19" y="305.42" width="8.43" height="8.72" fill="#0bb3d2"/>
<rect x="342.52" y="305.42" width="8.43" height="8.72" fill="#09b4d1"/>
<rect x="350.85" y="305.42" width="8.43" height="8.72" fill="#07b5d0"/>
<rect x="359.19" y="305.42" width="8.43" height="8.72" fill="#06b5ce"/>
<rect x="367.52" y="305.42" width="8.43" height="8.72" fill="#04b6cd"/>
<rect x="375.86" y="305.42" width="8.43" height="8.72" fill="#02b7cb"/>
<rect x="384.19" y="305.42" width="8.43" height="8.72" fill="#01b8c8"/>
<rect x="392.53" y="305.42" width="8.43" height="8.72" fill="#01b9c6"/>
<rect x="400.86" y="305.42" width="8.43" height="8.72" fill="#02bbc3"/>
<rect x="75.80" y="314.04" width="8.43" height="8.72" fill="#7bcc5d"/>
<rect x="84.13" y="314.04" width="8.43" height="8.72" fill="#6ccd68"/>
<rect x="92.47" y="314.04" width="8.43" height="8.72" fill="#5ecc74"/>
<rect x="100.80" y="314.04" width="8.43" height="8.72" fill="#51cc7f"/>
<rect x="109.14" y="314.04" width="8.43" height="8.72" fill="#46cb88"/>
<rect x="117.47" y="314.04" width="8.43" height="8.72" fill="#3dc990"/>
<rect x="125.81" y="314.04" width="8.43" height="8.72" fill="#36c898"/>
<rect x="134.14" y="314.04" width="8.43" height="8.72" fill="#32c69f"/>
<rect x="142.48" y="314.04" width="8.43" height="8.72" fill="#2dc4a5"/>
<rect x="150.81" y="314.04" width="8.43" height="8.72" fill="#28c3aa"/>
<rect x="159.15" y="314.04" width="8.43" height="8.72" fill="#23c1af"/>
<rect x="167.48" y="314.04" width="8.43" height="8.72" fill="#1cc0b4"/>
<rect x="175.82" y="314.04" width="8.43" height="8.72" fill="#14bfb8"/>
<rect x="184.15" y="314.04" width="8.43" height="8.72" fill="#0dbdbc"/>
<rect x="192.49" y="314.04" width="8.43" height="8.72" fill="#07bcbf"/>
<rect x="200.82" y="314.04" width="8.43" height="8.72" fill="#03bbc2"/>
<rect x="209.16" y="314.04" width="8.43" height="8.72" fill="#01bac5"/>
<rect x="217.50" y="314.04" width="8.43" height="8.72" fill="#01b9c8"/>
<rect x="225.83" y="314.04" width="8.43" height="8.72" fill="#01b8ca"/>
<rect x="234.16" y="314.04" width="8.43" height="8.72" fill="#03b7cc"/>
<rect x="242.50" y="314.04" width="8.43" height="8.72" fill="#05b6ce"/>
<rect x="250.83" y="314.04" width="8.43" height="8.72" fill="#07b5cf"/>
<rect x="259.17" y="314.04" width="8.43" height="8.72" fill="#08b4d0"/>
<rect x="267.50" y="314.04" width="8.43" height="8.72" fill="#0ab4d1"/>
<rect x="275.84" y="314.04" width="8.43" height="8.72" fill="#0bb3d2"/>
<rect x="284.17" y="314.04" width="8.43" height="8.72" fill="#0cb3d3"/>
<rect x="292.51" y="314.04" width="8.43" height="8.72" fill="#0db3d3"/>
<rect x="300.84" y="314.04" width="8.43" height="8.72" fill="#0db3d3"/>
<rect x="309.18" y="314.04" width="8.43" height="8.72" fill="#0db3d3"/>
<rect x="317.51" y="314.04" width="8.43" height="8.72" fill="#0db3d3"/>
<rect x="325.85" y="314.04" width="8.43" height="8.72" fill="#0cb3d3"/>
<rect x="334.19" y="314.04" width="8.43" height="8.72" fill="#0bb3d2"/>
<rect x="342.52" y="314.04" width="8.43" height="8.72" fill="#0ab4d2"/>
<rect x="350.85" y="314.04" width="8.43" height="8.72" fill="#08b4d1"/>
<rect x="359.19" y="314.04" width="8.43" height="8.72" fill="#07b5cf"/>
<rect x="367.52" y="314.04" width="8.43" height="8.72" fill="#05b6ce"/>
<rect x="375.86" y="314.04" width="8.43" height="8.72" fill="#03b7cc"/>
<rect x="384.19" y="314.04" width="8.43" height="8.72" fill="#01b8ca"/>
<rect x="392.53" y="314.04" width="8.43" height="8.72" fill="#01b9c7"/>
<rect x="400.86" y="314.04" width="8.43" height="8.72" fill="#02bac5"/>
<rect x="75.80" y="322.66" width="8.43" height="8.72" fill="#87cb54"/>
<rect x="84.13" y="322.66" width="8.43" height="8.72" fill="#77cc60"/>
<rect x="92.47" y="322.66" width="8.43" height="8.72" fill="#68cd6c"/>
<rect x="100.80" y="322.66" width="8.43" height="8.72" fill="#5acc77"/>
<rect x="109.14" y="322.66" width="8.43" height="8.72" fill="#4ecc81"/>
<rect x="117.47" y="322.66" width="8.43" height="8.72" fill="#43ca8a"/>
<rect x="125.81" y="322.66" width="8.43" height="8.72" fill="#3bc992"/>
<rect x="134.14" y="322.66" width="8.43" height="8.72" fill="#35c79a"/>
<rect x="142.48" y="322.66" width="8.43" height="8.72" fill="#31c6a0"/>
<rect x="150.81" y="322.66" width="8.43" height="8.72" fill="#2dc4a6"/>
<rect x="159.15" y="322.66" width="8.43" height="8.72" fill="#27c2ab"/>
<rect x="167.48" y="322.66" width="8.43" height="8.72" fill="#21c1b0"/>
<rect x="175.82" y="322.66" width="8.43" height="8.72" fill="#1ac0b4"/>
<rect x="184.15" y="322.66" width="8.43" height="8.72" fill="#13beb9"/>
<rect x="192.49" y="322.66" width="8.43" height="8.72" fill="#0cbdbc"/>
<rect x="200.82" y="322.66" width="8.43" height="8.72" fill="#07bcc0"/>
<rect x="209.16" y="322.66" width="8.43" height="8.72" fill="#03bbc3"/>
<rect x="217.50" y="322.66" width="8.43" height="8.72" fill="#01bac5"/>
<rect x="225.83" y="322.66" width="8.43" height="8.72" fill="#01b9c8"/>
<rect x="234.16" y="322.66" width="8.43" height="8.72" fill="#01b8ca"/>
<rect x="242.50" y="322.66" width="8.43" height="8.72" fill="#03b7cc"/>
<rect x="250.83" y="322.66" width="8.43" height="8.72" fill="#05b6ce"/>
<rect x="259.17" y="322.66" width="8.43" height="8.72" fill="#06b5cf"/>
<rect x="267.50" y="322.66" width="8.43" height="8.72" fill="#08b4d0"/>
<rect x="275.84" y="322.66" width="8.43" height="8.72" fill="#09b4d1"/>
<rect x="284.17" y="322.66" width="8.43" height="8.72" fill="#0bb4d2"/>
<rect x="292.51" y="322.66" width="8.43" height="8.72" fill="#0cb3d3"/>
<rect x="300.84" y="322.66" width="8.43" height="8.72" fill="#0cb3d3"/>
<rect x="309.18" y="322.66" width="8.43" height="8.72" fill="#0cb3d3"/>
<rect x="317.51" y="322.66" width="8.43" height="8.72" fill="#0cb3d3"/>
<rect x="325.85" y="322.66" width="8.43" height="8.72" fill="#0cb3d3"/>
<rect x="334.19" y="322.66" width="8.43" height="8.72" fill="#0bb3d2"/>
<rect x="342.52" y="322.66" width="8.43" height="8.72" fill="#0ab4d2"/>
<rect x="350.85" y="322.66" width="8.43" height="8.72" fill="#09b4d1"/>
<rect x="359.19" y="322.66" width="8.43" height="8.72" fill="#07b5d0"/>
<rect x="367.52" y="322.66" width="8.43" height="8.72" fill="#06b5cf"/>
<rect x="375.86" y="322.66" width="8.43" height="8.72" fill="#04b6cd"/>
<rect x="384.19" y="322.66" width="8.43" height="8.72" fill="#02b7cb"/>
<rect x="392.53" y="322.66" width="8.43" height="8.72" fill="#01b8c9"/>
<rect x="400.86" y="322.66" width="8.43" height="8.72" fill="#01b9c6"/>
<rect x="75.80" y="331.28" width="8.43" height="8.72" fill="#92ca4b"/>
<rect x="84.13" y="331.28" width="8.43" height="8.72" fill="#82cc58"/>
<rect x="92.47" y="331.28" width="8.43" height="8.72" fill="#72cd64"/>
<rect x="100.80" y="331.28" width="8.43" height="8.72" fill="#63cd6f"/>
<rect x="109.14" y="331.28" width="8.43" height="8.72" fill="#57cc7a"/>
<rect x="117.47" y="331.28" width="8.43" height="8.72" fill="#4bcb84"/>
<rect x="125.81" y="331.28" width="8.43" height="8.72" fill="#41ca8c"/>
<rect x="134.14" y="331.28" width="8.43" height="8.72" fill="#39c994"/>
<rect x="142.48" y="331.28" width="8.43" height="8.72" fill="#34c79b"/>
<rect x="150.81" y="331.28" width="8.43" height="8.72" fill="#30c5a2"/>
<rect x="159.15" y="331.28" width="8.43" height="8.72" fill="#2cc4a7"/>
<rect x="167.48" y="331.28" width="8.43" height="8.72" fill="#26c2ac"/>
<rect x="175.82" y="331.28" width="8.43" height="8.72" fill="#20c1b1"/>
<rect x="184.15" y="331.28" width="8.43" height="8.72" fill="#19bfb5"/>
<rect x="192.49" y="331.28" width="8.43" height="8.72" fill="#12beb9"/>
<rect x="200.82" y="331.28" width="8.43" height="8.72" fill="#0bbdbd"/>
<rect x="209.16" y="331.28" width="8.43" height="8.72" fill="#06bcc0"/>
<rect x="217.50" y="331.28" width="8.43" height="8.72" fill="#02bbc3"/>
<rect x="225.83" y="331.28" width="8.43" height="8.72" fill="#01b9c6"/>
<rect x="234.16" y="331.28" width="8.43" height="8.72" fill="#01b8c8"/>
<rect x="242.50" y="331.28" width="8.43" height="8.72" fill="#01b8ca"/>
<rect x="250.83" y="331.28" width="8.43" height="8.72" fill="#03b7cc"/>
<rect x="259.17" y="331.28" width="8.43" height="8.72" fill="#05b6ce"/>
<rect x="267.50" y="331.28" width="8.43" height="8.72" fill="#06b5cf"/>
<rect x="275.84" y="331.28" width="8.43" height="8.72" fill="#07b5d0"/>
<rect x="284.17" y="331.28" width="8.43" height="8.72" fill="#09b4d1"/>
<rect x="292.51" y="331.28" width="8.43" height="8.72" fill="#0ab4d2"/>
<rect x="300.84" y="331.28" width="8.43" height="8.72" fill="#0bb3d2"/>
<rect x="309.18" y="331.28" width="8.43" height="8.72" fill="#0bb3d2"/>
<rect x="317.51" y="331.28" width="8.43" height="8.72" fill="#0cb3d3"/>
<rect x="325.85" y="331.28" width="8.43" height="8.72" fill="#0cb3d2"/>
<rect x="334.19" y="331.28" width="8.43" height="8.72" fill="#0bb3d2"/>
<rect x="342.52" y="331.28" width="8.43" height="8.72" fill="#0ab4d2"/>
<rect x="350.85" y="331.28" width="8.43" height="8.72" fill="#09b4d1"/>
<rect x="359.19" y="331.28" width="8.43" height="8.72" fill="#08b4d0"/>
<rect x="367.52" y="331.28" width="8.43" height="8.72" fill="#07b5cf"/>
<rect x="375.86" y="331.28" width="8.43" height="8.72" fill="#05b6ce"/>
<rect x="384.19" y="331.28" width="8.43" height="8.72" fill="#03b7cc"/>
<rect x="392.53" y="331.28" width="8.43" height="8.72" fill="#01b8ca"/>
<rect x="400.86" y="331.28" width="8.43" height="8.72" fill="#01b8c8"/>
<rect x="75.80" y="339.90" width="8.43" height="8.72" fill="#9ec943"/>
<rect x="84.13" y="339.90" width="8.43" height="8.72" fill="#8dcb4f"/>
<rect x="92.47" y="339.90" width="8.43" height="8.72" fill="#7dcc5b"/>
<rect x="100.80" y="339.90" width="8.43" height="8.72" fill="#6ecd67"/>
<rect x="109.14" y="339.90" width="8.43" height="8.72" fill="#60cd72"/>
<rect x="117.47" y="339.90" width="8.43" height="8.72" fill="#53cc7d"/>
<rect x="125.81" y="339.90" width="8.43" height="8.72" fill="#48cb86"/>
<rect x="134.14" y="339.90" width="8.43" height="8.72" fill="#3eca8f"/>
<rect x="142.48" y="339.90" width="8.43" height="8.72" fill="#38c896"/>
<rect x="150.81" y="339.90" width="8.43" height="8.72" fill="#33c69d"/>
<rect x="159.15" y="339.90" width="8.43" height="8.72" fill="#2fc5a3"/>
<rect x="167.48" y="339.90" width="8.43" height="8.72" fill="#2bc3a8"/>
<rect x="175.82" y="339.90" width="8.43" height="8.72" fill="#25c2ad"/>
<rect x="184.15" y="339.90" width="8.43" height="8.72" fill="#1fc0b2"/>
<rect x="192.49" y="339.90" width="8.43" height="8.72" fill="#18bfb6"/>
<rect x="200.82" y="339.90" width="8.43" height="8.72" fill="#11beba"/>
<rect x="209.16" y="339.90" width="8.43" height="8.72" fill="#0abdbd"/>
<rect x="217.50" y="339.90" width="8.43" height="8.72" fill="#06bcc0"/>
<rect x="225.83" y="339.90" width="8.43" height="8.72" fill="#02bbc3"/>
<rect x="234.16" y="339.90" width="8.43" height="8.72" fill="#01b9c6"/>
<rect x="242.50" y="339.90" width="8.43" height="8.72" fill="#01b8c8"/>
<rect x="250.83" y="339.90" width="8.43" height="8.72" fill="#01b8ca"/>
<rect x="259.17" y="339.90" width="8.43" height="8.72" fill="#03b7cc"/>
<rect x="267.50" y="339.90" width="8.43" height="8.72" fill="#05b6cd"/>
<rect x="275.84" y="339.90" width="8.43" height="8.72" fill="#06b5cf"/>
<rect x="284.17" y="339.90" width="8.43" height="8.72" fill="#07b5d0"/>
<rect x="292.51" y="339.90" width="8.43" height="8.72" fill="#08b4d1"/>
<rect x="300.84" y="339.90" width="8.43" height="8.72" fill="#09b4d1"/>
<rect x="309.18" y="339.90" width="8.43" height="8.72" fill="#0ab4d2"/>
<rect x="317.51" y="339.90" width="8.43" height="8.72" fill="#0bb4d2"/>
<rect x="325.85" y="339.90" width="8.43" height="8.72" fill="#0bb4d2"/>
<rect x="334.19" y="339.90" width="8.43" height="8.72" fill="#0bb4d2"/>
<rect x="342.52" y="339.90" width="8.43" height="8.72" fill="#0ab4d2"/>
<rect x="350.85" y="339.90" width="8.43" height="8.72" fill="#09b4d1"/>
<rect x="359.19" y="339.90" width="8.43" height="8.72" fill="#08b4d1"/>
<rect x="367.52" y="339.90" width="8.43" height="8.72" fill="#07b5d0"/>
<rect x="375.86" y="339.90" width="8.43" height="8.72" fill="#06b5ce"/>
<rect x="384.19" y="339.90" width="8.43" height="8.72" fill="#04b6cd"/>
<rect x="392.53" y="339.90" width="8.43" height="8.72" fill="#02b7cb"/>
<rect x="400.86" y="339.90" width="8.43" height="8.72" fill="#01b8c9"/>
<rect x="75.80" y="348.52" width="8.43" height="8.72" fill="#a9c73b"/>
<rect x="84.13" y="348.52" width="8.43" height="8.72" fill="#98c947"/>
<rect x="92.47" y="348.52" width="8.43" height="8.72" fill="#88cb53"/>
<rect x="100.80" y="348.52" width="8.43" height="8.72" fill="#78cc5f"/>
<rect x="109.14" y="348.52" width="8.43" height="8.72" fill="#6acd6a"/>
<rect x="117.47" y="348.52" width="8.43" height="8.72" fill="#5ccc75"/>
<rect x="125.81" y="348.52" width="8.43" height="8.72" fill="#50cc7f"/>
<rect x="134.14" y="348.52" width="8.43" height="8.72" fill="#45cb88"/>
<rect x="142.48" y="348.52" width="8.43" height="8.72" fill="#3dc990"/>
<rect x="150.81" y="348.52" width="8.43" height="8.72" fill="#37c898"/>
<rect x="159.15" y="348.52" width="8.43" height="8.72" fill="#32c69e"/>
<rect x="167.48" y="348.52" width="8.43" height="8.72" fill="#2ec4a4"/>
<rect x="175.82" y="348.52" width="8.43" height="8.72" fill="#29c3a9"/>
<rect x="184.15" y="348.52" width="8.43" height="8.72" fill="#24c2ae"/>
<rect x="192.49" y="348.52" width="8.43" height="8.72" fill="#1ec0b2"/>
<rect x="200.82" y="348.52" width="8.43" height="8.72" fill="#17bfb6"/>
<rect x="209.16" y="348.52" width="8.43" height="8.72" fill="#10beba"/>
<rect x="217.50" y="348.52" width="8.43" height="8.72" fill="#0abdbd"/>
<rect x="225.83" y="348.52" width="8.43" height="8.72" fill="#06bbc1"/>
<rect x="234.16" y="348.52" width="8.43" height="8.72" fill="#02bac3"/>
<rect x="242.50" y="348.52" width="8.43" height="8.72" fill="#01b9c6"/>
<rect x="250.83" y="348.52" width="8.43" height="8.72" fill="#01b8c8"/>
<rect x="259.17" y="348.52" width="8.43" height="8.72" fill="#01b8ca"/>
<rect x="267.50" y="348.52" width="8.43" height="8.72" fill="#03b7cc"/>
<rect x="275.84" y="348.52" width="8.43" height="8.72" fill="#04b6cd"/>
<rect x="284.17" y="348.52" width="8.43" height="8.72" fill="#06b5ce"/>
<rect x="292.51" y="348.52" width="8.43" height="8.72" fill="#07b5cf"/>
<rect x="300.84" y="348.52" width="8.43" height="8.72" fill="#08b5d0"/>
<rect x="309.18" y="348.52" width="8.43" height="8.72" fill="#09b4d1"/>
<rect x="317.51" y="348.52" width="8.43" height="8.72" fill="#09b4d1"/>
<rect x="325.85" y="348.52" width="8.43" height="8.72" fill="#0ab4d1"/>
<rect x="334.19" y="348.52" width="8.43" height="8.72" fill="#0ab4d1"/>
<rect x="342.52" y="348.52" width="8.43" height="8.72" fill="#09b4d1"/>
<rect x="350.85" y="348.52" width="8.43" height="8.72" fill="#09b4d1"/>
<rect x="359.19" y="348.52" width="8.43" height="8.72" fill="#08b4d1"/>
<rect x="367.52" y="348.52" width="8.43" height="8.72" fill="#07b5d0"/>
<rect x="375.86" y="348.52" width="8.43" height="8.72" fill="#06b5cf"/>
<rect x="384.19" y="348.52" width="8.43" height="8.72" fill="#05b6ce"/>
<rect x="392.53" y="348.52" width="8.43" height="8.72" fill="#03b7cc"/>
<rect x="400.86" y="348.52" width="8.43" height="8.72" fill="#01b7ca"/>
<rect x="75.80" y="357.14" width="8.43" height="8.72" fill="#b4c534"/>
<rect x="84.13" y="357.14" width="8.43" height="8.72" fill="#a4c83e"/>
<rect x="92.47" y="357.14" width="8.43" height="8.72" fill="#93ca4a"/>
<rect x="100.80" y="357.14" width="8.43" height="8.72" fill="#84cc57"/>
<rect x="109.14" y="357.14" width="8.43" height="8.72" fill="#74cc62"/>
<rect x="117.47" y="357.14" width="8.43" height="8.72" fill="#66cd6d"/>
<rect x="125.81" y="357.14" width="8.43" height="8.72" fill="#59cc78"/>
<rect x="134.14" y="357.14" width="8.43" height="8.72" fill="#4dcc82"/>
<rect x="142.48" y="357.14" width="8.43" height="8.72" fill="#43ca8a"/>
<rect x="150.81" y="357.14" width="8.43" height="8.72" fill="#3bc992"/>
<rect x="159.15" y="357.14" width="8.43" height="8.72" fill="#36c799"/>
<rect x="167.48" y="357.14" width="8.43" height="8.72" fill="#31c6a0"/>
<rect x="175.82" y="357.14" width="8.43" height="8.72" fill="#2dc4a5"/>
<rect x="184.15" y="357.14" width="8.43" height="8.72" fill="#29c3aa"/>
<rect x="192.49" y="357.14" width="8.43" height="8.72" fill="#23c1af"/>
<rect x="200.82" y="357.14" width="8.43" height="8.72" fill="#1dc0b3"/>
<rect x="209.16" y="357.14" width="8.43" height="8.72" fill="#16bfb7"/>
<rect x="217.50" y="357.14" width="8.43" height="8.72" fill="#0fbeba"/>
<rect x="225.83" y="357.14" width="8.43" height="8.72" fill="#09bdbe"/>
<rect x="234.16" y="357.14" width="8.43" height="8.72" fill="#05bbc1"/>
<rect x="242.50" y="357.14" width="8.43" height="8.72" fill="#02bac3"/>
<rect x="250.83" y="357.14" width="8.43" height="8.72" fill="#01b9c6"/>
<rect x="259.17" y="357.14" width="8.43" height="8.72" fill="#01b9c8"/>
<rect x="267.50" y="357.14" width="8.43" height="8.72" fill="#01b8ca"/>
<rect x="275.84" y="357.14" width="8.43" height="8.72" fill="#03b7cb"/>
<rect x="284.17" y="357.14" width="8.43" height="8.72" fill="#04b6cd"/>
<rect x="292.51" y="357.14" width="8.43" height="8.72" fill="#05b6ce"/>
<rect x="300.84" y="357.14" width="8.43" height="8.72" fill="#06b5cf"/>
<rect x="309.18" y="357.14" width="8.43" height="8.72" fill="#07b5d0"/>
<rect x="317.51" y="357.14" width="8.43" height="8.72" fill="#08b5d0"/>
<rect x="325.85" y="357.14" width="8.43" height="8.72" fill="#08b4d1"/>
<rect x="334.19" y="357.14" width="8.43" height="8.72" fill="#09b4d1"/>
<rect x="342.52" y="357.14" width="8.43" height="8.72" fill="#09b4d1"/>
<rect x="350.85" y="357.14" width="8.43" height="8.72" fill="#08b4d1"/>
<rect x="359.19" y="357.14" width="8.43" height="8.72" fill="#08b5d0"/>
<rect x="367.52" y="357.14" width="8.43" height="8.72" fill="#07b5d0"/>
<rect x="375.86" y="357.14" width="8.43" height="8.72" fill="#06b5cf"/>
<rect x="384.19" y="357.14" width="8.43" height="8.72" fill="#05b6ce"/>
<rect x="392.53" y="357.14" width="8.43" height="8.72" fill="#04b6cd"/>
<rect x="400.86" y="357.14" width="8.43" height="8.72" fill="#02b7cb"/>
<rect x="75.80" y="365.76" width="8.43" height="8.72" fill="#bec32e"/>
<rect x="84.13" y="365.76" width="8.43" height="8.72" fill="#aec637"/>
<rect x="92.47" y="365.76" width="8.43" height="8.72" fill="#9ec942"/>
<rect x="100.80" y="365.76" width="8.43" height="8.72" fill="#8fcb4e"/>
<rect x="109.14" y="365.76" width="8.43" height="8.72" fill="#7fcc5a"/>
<rect x="117.47" y="365.76" width="8.43" height="8.72" fill="#70cd65"/>
<rect x="125.81" y="365.76" width="8.43" height="8.72" fill="#62cd71"/>
<rect x="134.14" y="365.76" width="8.43" height="8.72" fill="#56cc7b"/>
<rect x="142.48" y="365.76" width="8.43" height="8.72" fill="#4acb84"/>
<rect x="150.81" y="365.76" width="8.43" height="8.72" fill="#41ca8c"/>
<rect x="159.15" y="365.76" width="8.43" height="8.72" fill="#3ac994"/>
<rect x="167.48" y="365.76" width="8.43" height="8.72" fill="#35c79b"/>
<rect x="175.82" y="365.76" width="8.43" height="8.72" fill="#30c5a1"/>
<rect x="184.15" y="365.76" width="8.43" height="8.72" fill="#2dc4a6"/>
<rect x="192.49" y="365.76" width="8.43" height="8.72" fill="#28c2ab"/>
<rect x="200.82" y="365.76" width="8.43" height="8.72" fill="#22c1af"/>
<rect x="209.16" y="365.76" width="8.43" height="8.72" fill="#1cc0b4"/>
<rect x="217.50" y="365.76" width="8.43" height="8.72" fill="#15bfb7"/>
<rect x="225.83" y="365.76" width="8.43" height="8.72" fill="#0ebebb"/>
<rect x="234.16" y="365.76" width="8.43" height="8.72" fill="#09bcbe"/>
<rect x="242.50" y="365.76" width="8.43" height="8.72" fill="#05bbc1"/>
<rect x="250.83" y="365.76" width="8.43" height="8.72" fill="#02bac3"/>
<rect x="259.17" y="365.76" width="8.43" height="8.72" fill="#01b9c6"/>
<rect x="267.50" y="365.76" width="8.43" height="8.72" fill="#01b9c8"/>
<rect x="275.84" y="365.76" width="8.43" height="8.72" fill="#01b8ca"/>
<rect x="284.17" y="365.76" width="8.43" height="8.72" fill="#02b7cb"/>
<rect x="292.51" y="365.76" width="8.43" height="8.72" fill="#04b6cc"/>
<rect x="300.84" y="365.76" width="8.43" height="8.72" fill="#05b6ce"/>
<rect x="309.18" y="365.76" width="8.43" height="8.72" fill="#06b5ce"/>
<rect x="317.51" y="365.76" width="8.43" height="8.72" fill="#06b5cf"/>
<rect x="325.85" y="365.76" width="8.43" height="8.72" fill="#07b5d0"/>
<rect x="334.19" y="365.76" width="8.43" height="8.72" fill="#07b5d0"/>
<rect x="342.52" y="365.76" width="8.43" height="8.72" fill="#07b5d0"/>
<rect x="350.85" y="365.76" width="8.43" height="8.72" fill="#07b5d0"/>
<rect x="359.19" y="365.76" width="8.43" height="8.72" fill="#07b5d0"/>
<rect x="367.52" y="365.76" width="8.43" height="8.72" fill="#07b5cf"/>
<rect x="375.86" y="365.76" width="8.43" height="8.72" fill="#06b5cf"/>
<rect x="384.19" y="365.76" width="8.43" height="8.72" fill="#05b6ce"/>
<rect x="392.53" y="365.76" width="8.43" height="8.72" fill="#04b6cd"/>
<rect x="400.86" y="365.76" width="8.43" height="8.72" fill="#03b7cc"/>
<rect x="75.80" y="374.38" width="8.43" height="8.72" fill="#c8c129"/>
<rect x="84.13" y="374.38" width="8.43" height="8.72" fill="#b9c430"/>
<rect x="92.47" y="374.38" width="8.43" height="8.72" fill="#a9c73a"/>
<rect x="100.80" y="374.38" width="8.43" height="8.72" fill="#99c946"/>
<rect x="109.14" y="374.38" width="8.43" height="8.72" fill="#8acb52"/>
<rect x="117.47" y="374.38" width="8.43" height="8.72" fill="#7acc5d"/>
<rect x="125.81" y="374.38" width="8.43" height="8.72" fill="#6ccd69"/>
<rect x="134.14" y="374.38" width="8.43" height="8.72" fill="#5fcd73"/>
<rect x="142.48" y="374.38" width="8.43" height="8.72" fill="#53cc7d"/>
<rect x="150.81" y="374.38" width="8.43" height="8.72" fill="#48cb86"/>
<rect x="159.15" y="374.38" width="8.43" height="8.72" fill="#3fca8e"/>
<rect x="167.48" y="374.38" width="8.43" height="8.72" fill="#38c896"/>
<rect x="175.82" y="374.38" width="8.43" height="8.72" fill="#34c79c"/>
<rect x="184.15" y="374.38" width="8.43" height="8.72" fill="#30c5a2"/>
<rect x="192.49" y="374.38" width="8.43" height="8.72" fill="#2cc4a7"/>
<rect x="200.82" y="374.38" width="8.43" height="8.72" fill="#27c2ac"/>
<rect x="209.16" y="374.38" width="8.43" height="8.72" fill="#21c1b0"/>
<rect x="217.50" y="374.38" width="8.43" height="8.72" fill="#1bc0b4"/>
<rect x="225.83" y="374.38" width="8.43" height="8.72" fill="#14bfb8"/>
<rect x="234.16" y="374.38" width="8.43" height="8.72" fill="#0ebdbb"/>
<rect x="242.50" y="374.38" width="8.43" height="8.72" fill="#09bcbe"/>
<rect x="250.83" y="374.38" width="8.43" height="8.72" fill="#05bbc1"/>
<rect x="259.17" y="374.38" width="8.43" height="8.72" fill="#02bac3"/>
<rect x="267.50" y="374.38" width="8.43" height="8.72" fill="#01bac6"/>
<rect x="275.84" y="374.38" width="8.43" height="8.72" fill="#01b9c8"/>
<rect x="284.17" y="374.38" width="8.43" height="8.72" fill="#01b8c9"/>
<rect x="292.51" y="374.38" width="8.43" height="8.72" fill="#02b7cb"/>
<rect x="300.84" y="374.38" width="8.43" height="8.72" fill="#03b7cc"/>
<rect x="309.18" y="374.38" width="8.43" height="8.72" fill="#04b6cd"/>
<rect x="317.51" y="374.38" width="8.43" height="8.72" fill="#05b6ce"/>
<rect x="325.85" y="374.38" width="8.43" height="8.72" fill="#06b5ce"/>
<rect x="334.19" y="374.38" width="8.43" height="8.72" fill="#06b5cf"/>
<rect x="342.52" y="374.38" width="8.43" height="8.72" fill="#07b5cf"/>
<rect x="350.85" y="374.38" width="8.43" height="8.72" fill="#07b5cf"/>
<rect x="359.19" y="374.38" width="8.43" height="8.72" fill="#07b5cf"/>
<rect x="367.52" y="374.38" width="8.43" height="8.72" fill="#06b5cf"/>
<rect x="375.86" y="374.38" width="8.43" height="8.72" fill="#06b5cf"/>
<rect x="384.19" y="374.38" width="8.43" height="8.72" fill="#05b6ce"/>
<rect x="392.53" y="374.38" width="8.43" height="8.72" fill="#04b6cd"/>
<rect x="400.86" y="374.38" width="8.43" height="8.72" fill="#03b7cc"/>
<rect x="75.80" y="383.00" width="8.43" height="8.72" fill="#d2bf27"/>
<rect x="84.13" y="383.00" width="8.43" height="8.72" fill="#c3c22b"/>
<rect x="92.47" y="383.00" width="8.43" height="8.72" fill="#b4c534"/>
<rect x="100.80" y="383.00" width="8.43" height="8.72" fill="#a4c83e"/>
<rect x="109.14" y="383.00" width="8.43" height="8.72" fill="#95ca49"/>
<rect x="117.47" y="383.00" width="8.43" height="8.72" fill="#85cb55"/>
<rect x="125.81" y="383.00" width="8.43" height="8.72" fill="#76cc61"/>
<rect x="134.14" y="383.00" width="8.43" height="8.72" fill="#68cd6c"/>
<rect x="142.48" y="383.00" width="8.43" height="8.72" fill="#5bcc76"/>
<rect x="150.81" y="383.00" width="8.43" height="8.72" fill="#50cc80"/>
<rect x="159.15" y="383.00" width="8.43" height="8.72" fill="#46cb88"/>
<rect x="167.48" y="383.00" width="8.43" height="8.72" fill="#3dc990"/>
<rect x="175.82" y="383.00" width="8.43" height="8.72" fill="#37c897"/>
<rect x="184.15" y="383.00" width="8.43" height="8.72" fill="#33c69d"/>
<rect x="192.49" y="383.00" width="8.43" height="8.72" fill="#2fc5a3"/>
<rect x="200.82" y="383.00" width="8.43" height="8.72" fill="#2bc3a8"/>
<rect x="209.16" y="383.00" width="8.43" height="8.72" fill="#26c2ac"/>
<rect x="217.50" y="383.00" width="8.43" height="8.72" fill="#21c1b1"/>
<rect x="225.83" y="383.00" width="8.43" height="8.72" fill="#1ac0b4"/>
<rect x="234.16" y="383.00" width="8.43" height="8.72" fill="#14beb8"/>
<rect x="242.50" y="383.00" width="8.43" height="8.72" fill="#0ebdbb"/>
<rect x="250.83" y="383.00" width="8.43" height="8.72" fill="#09bcbe"/>
<rect x="259.17" y="383.00" width="8.43" height="8.72" fill="#05bbc1"/>
<rect x="267.50" y="383.00" width="8.43" height="8.72" fill="#02bac3"/>
<rect x="275.84" y="383.00" width="8.43" height="8.72" fill="#01bac5"/>
<rect x="284.17" y="383.00" width="8.43" height="8.72" fill="#01b9c7"/>
<rect x="292.51" y="383.00" width="8.43" height="8.72" fill="#01b8c9"/>
<rect x="300.84" y="383.00" width="8.43" height="8.72" fill="#01b7ca"/>
<rect x="309.18" y="383.00" width="8.43" height="8.72" fill="#03b7cb"/>
<rect x="317.51" y="383.00" width="8.43" height="8.72" fill="#04b6cc"/>
<rect x="325.85" y="383.00" width="8.43" height="8.72" fill="#04b6cd"/>
<rect x="334.19" y="383.00" width="8.43" height="8.72" fill="#05b6ce"/>
<rect x="342.52" y="383.00" width="8.43" height="8.72" fill="#05b6ce"/>
<rect x="350.85" y="383.00" width="8.43" height="8.72" fill="#06b5ce"/>
<rect x="359.19" y="383.00" width="8.43" height="8.72" fill="#06b5ce"/>
<rect x="367.52" y="383.00" width="8.43" height="8.72" fill="#06b5ce"/>
<rect x="375.86" y="383.00" width="8.43" height="8.72" fill="#05b6ce"/>
<rect x="384.19" y="383.00" width="8.43" height="8.72" fill="#05b6ce"/>
<rect x="392.53" y="383.00" width="8.43" height="8.72" fill="#04b6cd"/>
<rect x="400.86" y="383.00" width="8.43" height="8.72" fill="#03b7cc"/>
<rect x="75.80" y="391.62" width="8.43" height="8.72" fill="#dbbd29"/>
<rect x="84.13" y="391.62" width="8.43" height="8.72" fill="#cdc028"/>
<rect x="92.47" y="391.62" width="8.43" height="8.72" fill="#bec32e"/>
<rect x="100.80" y="391.62" width="8.43" height="8.72" fill="#afc637"/>
<rect x="109.14" y="391.62" width="8.43" height="8.72" fill="#9fc941"/>
<rect x="117.47" y="391.62" width="8.43" height="8.72" fill="#90ca4d"/>
<rect x="125.81" y="391.62" width="8.43" height="8.72" fill="#81cc59"/>
<rect x="134.14" y="391.62" width="8.43" height="8.72" fill="#72cd64"/>
<rect x="142.48" y="391.62" width="8.43" height="8.72" fill="#64cd6f"/>
<rect x="150.81" y="391.62" width="8.43" height="8.72" fill="#58cc79"/>
<rect x="159.15" y="391.62" width="8.43" height="8.72" fill="#4dcc82"/>
<rect x="167.48" y="391.62" width="8.43" height="8.72" fill="#43ca8a"/>
<rect x="175.82" y="391.62" width="8.43" height="8.72" fill="#3cc992"/>
<rect x="184.15" y="391.62" width="8.43" height="8.72" fill="#36c898"/>
<rect x="192.49" y="391.62" width="8.43" height="8.72" fill="#32c69e"/>
<rect x="200.82" y="391.62" width="8.43" height="8.72" fill="#2ec5a4"/>
<rect x="209.16" y="391.62" width="8.43" height="8.72" fill="#2ac3a9"/>
<rect x="217.50" y="391.62" width="8.43" height="8.72" fill="#25c2ad"/>
<rect x="225.83" y="391.62" width="8.43" height="8.72" fill="#20c1b1"/>
<rect x="234.16" y="391.62" width="8.43" height="8.72" fill="#1abfb5"/>
<rect x="242.50" y="391.62" width="8.43" height="8.72" fill="#14beb8"/>
<rect x="250.83" y="391.62" width="8.43" height="8.72" fill="#0dbdbb"/>
<rect x="259.17" y="391.62" width="8.43" height="8.72" fill="#09bcbe"/>
<rect x="267.50" y="391.62" width="8.43" height="8.72" fill="#05bbc1"/>
<rect x="275.84" y="391.62" width="8.43" height="8.72" fill="#02bbc3"/>
<rect x="284.17" y="391.62" width="8.43" height="8.72" fill="#02bac5"/>
<rect x="292.51" y="391.62" width="8.43" height="8.72" fill="#01b9c7"/>
<rect x="300.84" y="391.62" width="8.43" height="8.72" fill="#01b8c8"/>
<rect x="309.18" y="391.62" width="8.43" height="8.72" fill="#01b8ca"/>
<rect x="317.51" y="391.62" width="8.43" height="8.72" fill="#02b7cb"/>
<rect x="325.85" y="391.62" width="8.43" height="8.72" fill="#03b7cc"/>
<rect x="334.19" y="391.62" width="8.43" height="8.72" fill="#04b6cc"/>
<rect x="342.52" y="391.62" width="8.43" height="8.72" fill="#04b6cd"/>
<rect x="350.85" y="391.62" width="8.43" height="8.72" fill="#05b6cd"/>
<rect x="359.19" y="391.62" width="8.43" height="8.72" fill="#05b6ce"/>
<rect x="367.52" y="391.62" width="8.43" height="8.72" fill="#05b6ce"/>
<rect x="375.86" y="391.62" width="8.43" height="8.72" fill="#05b6cd"/>
<rect x="384.19" y="391.62" width="8.43" height="8.72" fill="#04b6cd"/>
<rect x="392.53" y="391.62" width="8.43" height="8.72" fill="#04b6cd"/>
<rect x="400.86" y="391.62" width="8.43" height="8.72" fill="#03b7cc"/>
<rect x="75.80" y="400.24" width="8.43" height="8.72" fill="#e4bb2c"/>
<rect x="84.13" y="400.24" width="8.43" height="8.72" fill="#d6be28"/>
<rect x="92.47" y="400.24" width="8.43" height="8.72" fill="#c8c129"/>
<rect x="100.80" y="400.24" width="8.43" height="8.72" fill="#b9c430"/>
<rect x="109.14" y="400.24" width="8.43" height="8.72" fill="#aac73a"/>
<rect x="117.47" y="400.24" width="8.43" height="8.72" fill="#9ac945"/>
<rect x="125.81" y="400.24" width="8.43" height="8.72" fill="#8bcb51"/>
<rect x="134.14" y="400.24" width="8.43" height="8.72" fill="#7ccc5c"/>
<rect x="142.48" y="400.24" width="8.43" height="8.72" fill="#6ecd67"/>
<rect x="150.81" y="400.24" width="8.43" height="8.72" fill="#61cd72"/>
<rect x="159.15" y="400.24" width="8.43" height="8.72" fill="#55cc7b"/>
<rect x="167.48" y="400.24" width="8.43" height="8.72" fill="#4acb84"/>
<rect x="175.82" y="400.24" width="8.43" height="8.72" fill="#41ca8c"/>
<rect x="184.15" y="400.24" width="8.43" height="8.72" fill="#3ac993"/>
<rect x="192.49" y="400.24" width="8.43" height="8.72" fill="#35c79a"/>
<rect x="200.82" y="400.24" width="8.43" height="8.72" fill="#31c69f"/>
<rect x="209.16" y="400.24" width="8.43" height="8.72" fill="#2ec4a5"/>
<rect x="217.50" y="400.24" width="8.43" height="8.72" fill="#29c3a9"/>
<rect x="225.83" y="400.24" width="8.43" height="8.72" fill="#25c2ae"/>
<rect x="234.16" y="400.24" width="8.43" height="8.72" fill="#1fc0b1"/>
<rect x="242.50" y="400.24" width="8.43" height="8.72" fill="#19bfb5"/>
<rect x="250.83" y="400.24" width="8.43" height="8.72" fill="#13beb8"/>
<rect x="259.17" y="400.24" width="8.43" height="8.72" fill="#0dbdbb"/>
<rect x="267.50" y="400.24" width="8.43" height="8.72" fill="#09bcbe"/>
<rect x="275.84" y="400.24" width="8.43" height="8.72" fill="#06bbc1"/>
<rect x="284.17" y="400.24" width="8.43" height="8.72" fill="#02bbc3"/>
<rect x="292.51" y="400.24" width="8.43" height="8.72" fill="#02bac5"/>
<rect x="300.84" y="400.24" width="8.43" height="8.72" fill="#01b9c6"/>
<rect x="309.18" y="400.24" width="8.43" height="8.72" fill="#01b9c8"/>
<rect x="317.51" y="400.24" width="8.43" height="8.72" fill="#01b8c9"/>
<rect x="325.85" y="400.24" width="8.43" height="8.72" fill="#01b8ca"/>
<rect x="334.19" y="400.24" width="8.43" height="8.72" fill="#02b7cb"/>
<rect x="342.52" y="400.24" width="8.43" height="8.72" fill="#03b7cc"/>
<rect x="350.85" y="400.24" width="8.43" height="8.72" fill="#03b7cc"/>
<rect x="359.19" y="400.24" width="8.43" height="8.72" fill="#04b6cc"/>
<rect x="367.52" y="400.24" width="8.43" height="8.72" fill="#04b6cd"/>
<rect x="375.86" y="400.24" width="8.43" height="8.72" fill="#04b6cd"/>
<rect x="384.19" y="400.24" width="8.43" height="8.72" fill="#04b6cc"/>
<rect x="392.53" y="400.24" width="8.43" height="8.72" fill="#03b7cc"/>
<rect x="400.86" y="400.24" width="8.43" height="8.72" fill="#03b7cb"/>
<rect x="75.80" y="408.86" width="8.43" height="8.72" fill="#ecba32"/>
<rect x="84.13" y="408.86" width="8.43" height="8.72" fill="#dfbc2a"/>
<rect x="92.47" y="408.86" width="8.43" height="8.72" fill="#d1bf27"/>
<rect x="100.80" y="408.86" width="8.43" height="8.72" fill="#c3c22b"/>
<rect x="109.14" y="408.86" width="8.43" height="8.72" fill="#b4c534"/>
<rect x="117.47" y="408.86" width="8.43" height="8.72" fill="#a5c83d"/>
<rect x="125.81" y="408.86" width="8.43" height="8.72" fill="#96ca49"/>
<rect x="134.14" y="408.86" width="8.43" height="8.72" fill="#87cb54"/>
<rect x="142.48" y="408.86" width="8.43" height="8.72" fill="#78cc5f"/>
<rect x="150.81" y="408.86" width="8.43" height="8.72" fill="#6acd6a"/>
<rect x="159.15" y="408.86" width="8.43" height="8.72" fill="#5ecc74"/>
<rect x="167.48" y="408.86" width="8.43" height="8.72" fill="#52cc7e"/>
<rect x="175.82" y="408.86" width="8.43" height="8.72" fill="#48cb86"/>
<rect x="184.15" y="408.86" width="8.43" height="8.72" fill="#3fca8e"/>
<rect x="192.49" y="408.86" width="8.43" height="8.72" fill="#39c995"/>
<rect x="200.82" y="408.86" width="8.43" height="8.72" fill="#35c79b"/>
<rect x="209.16" y="408.86" width="8.43" height="8.72" fill="#31c6a0"/>
<rect x="217.50" y="408.86" width="8.43" height="8.72" fill="#2dc4a5"/>
<rect x="225.83" y="408.86" width="8.43" height="8.72" fill="#29c3aa"/>
<rect x="234.16" y="408.86" width="8.43" height="8.72" fill="#24c2ae"/>
<rect x="242.50" y="408.86" width="8.43" height="8.72" fill="#1fc0b2"/>
<rect x="250.83" y="408.86" width="8.43" height="8.72" fill="#19bfb5"/>
<rect x="259.17" y="408.86" width="8.43" height="8.72" fill="#13beb8"/>
<rect x="267.50" y="408.86" width="8.43" height="8.72" fill="#0dbdbb"/>
<rect x="275.84" y="408.86" width="8.43" height="8.72" fill="#09bcbe"/>
<rect x="284.17" y="408.86" width="8.43" height="8.72" fill="#06bcc0"/>
<rect x="292.51" y="408.86" width="8.43" height="8.72" fill="#03bbc2"/>
<rect x="300.84" y="408.86" width="8.43" height="8.72" fill="#02bac4"/>
<rect x="309.18" y="408.86" width="8.43" height="8.72" fill="#01b9c6"/>
<rect x="317.51" y="408.86" width="8.43" height="8.72" fill="#01b9c7"/>
<rect x="325.85" y="408.86" width="8.43" height="8.72" fill="#01b8c9"/>
<rect x="334.19" y="408.86" width="8.43" height="8.72" fill="#01b8ca"/>
<rect x="342.52" y="408.86" width="8.43" height="8.72" fill="#01b7ca"/>
<rect x="350.85" y="408.86" width="8.43" height="8.72" fill="#02b7cb"/>
<rect x="359.19" y="408.86" width="8.43" height="8.72" fill="#02b7cb"/>
<rect x="367.52" y="408.86" width="8.43" height="8.72" fill="#03b7cc"/>
<rect x="375.86" y="408.86" width="8.43" height="8.72" fill="#03b7cc"/>
<rect x="384.19" y="408.86" width="8.43" height="8.72" fill="#03b7cc"/>
<rect x="392.53" y="408.86" width="8.43" height="8.72" fill="#02b7cb"/>
<rect x="400.86" y="408.86" width="8.43" height="8.72" fill="#02b7cb"/>
<rect x="75.80" y="417.48" width="8.43" height="8.72" fill="#f3ba38"/>
<rect x="84.13" y="417.48" width="8.43" height="8.72" fill="#e7bb2e"/>
<rect x="92.47" y="417.48" width="8.43" height="8.72" fill="#dabd28"/>
<rect x="100.80" y="417.48" width="8.43" height="8.72" fill="#ccc028"/>
<rect x="109.14" y="417.48" width="8.43" height="8.72" fill="#bec32e"/>
<rect x="117.47" y="417.48" width="8.43" height="8.72" fill="#afc637"/>
<rect x="125.81" y="417.48" width="8.43" height="8.72" fill="#a0c841"/>
<rect x="134.14" y="417.48" width="8.43" height="8.72" fill="#91ca4c"/>
<rect x="142.48" y="417.48" width="8.43" height="8.72" fill="#82cc58"/>
<rect x="150.81" y="417.48" width="8.43" height="8.72" fill="#74cd62"/>
<rect x="159.15" y="417.48" width="8.43" height="8.72" fill="#66cd6d"/>
<rect x="167.48" y="417.48" width="8.43" height="8.72" fill="#5bcc77"/>
<rect x="175.82" y="417.48" width="8.43" height="8.72" fill="#50cc80"/>
<rect x="184.15" y="417.48" width="8.43" height="8.72" fill="#46cb88"/>
<rect x="192.49" y="417.48" width="8.43" height="8.72" fill="#3eca8f"/>
<rect x="200.82" y="417.48" width="8.43" height="8.72" fill="#38c896"/>
<rect x="209.16" y="417.48" width="8.43" height="8.72" fill="#34c79c"/>
<rect x="217.50" y="417.48" width="8.43" height="8.72" fill="#30c5a1"/>
<rect x="225.83" y="417.48" width="8.43" height="8.72" fill="#2dc4a6"/>
<rect x="234.16" y="417.48" width="8.43" height="8.72" fill="#28c3aa"/>
<rect x="242.50" y="417.48" width="8.43" height="8.72" fill="#24c1ae"/>
<rect x="250.83" y="417.48" width="8.43" height="8.72" fill="#1ec0b2"/>
<rect x="259.17" y="417.48" width="8.43" height="8.72" fill="#19bfb5"/>
<rect x="267.50" y="417.48" width="8.43" height="8.72" fill="#13beb8"/>
<rect x="275.84" y="417.48" width="8.43" height="8.72" fill="#0ebdbb"/>
<rect x="284.17" y="417.48" width="8.43" height="8.72" fill="#09bdbe"/>
<rect x="292.51" y="417.48" width="8.43" height="8.72" fill="#06bcc0"/>
<rect x="300.84" y="417.48" width="8.43" height="8.72" fill="#04bbc2"/>
<rect x="309.18" y="417.48" width="8.43" height="8.72" fill="#02bac4"/>
<rect x="317.51" y="417.48" width="8.43" height="8.72" fill="#01bac5"/>
<rect x="325.85" y="417.48" width="8.43" height="8.72" fill="#01b9c7"/>
<rect x="334.19" y="417.48" width="8.43" height="8.72" fill="#01b9c8"/>
<rect x="342.52" y="417.48" width="8.43" height="8.72" fill="#01b8c9"/>
<rect x="350.85" y="417.48" width="8.43" height="8.72" fill="#01b8c9"/>
<rect x="359.19" y="417.48" width="8.43" height="8.72" fill="#01b8ca"/>
<rect x="367.52" y="417.48" width="8.43" height="8.72" fill="#01b7ca"/>
<rect x="375.86" y="417.48" width="8.43" height="8.72" fill="#02b7cb"/>
<rect x="384.19" y="417.48" width="8.43" height="8.72" fill="#02b7cb"/>
<rect x="392.53" y="417.48" width="8.43" height="8.72" fill="#01b7ca"/>
<rect x="400.86" y="417.48" width="8.43" height="8.72" fill="#01b8ca"/>
<path d="M75.80 81.30V426.10M84.13 81.30V426.10M92.47 81.30V426.10M100.80 81.30V426.10M109.14 81.30V426.10M117.47 81.30V426.10M125.81 81.30V426.10M134.14 81.30V426.10M142.48 81.30V426.10M150.81 81.30V426.10M159.15 81.30V426.10M167.48 81.30V426.10M175.82 81.30V426.10M184.15 81.30V426.10M192.49 81.30V426.10M200.82 81.30V426.10M209.16 81.30V426.10M217.50 81.30V426.10M225.83 81.30V426.10M234.16 81.30V426.10M242.50 81.30V426.10M250.83 81.30V426.10M259.17 81.30V426.10M267.50 81.30V426.10M275.84 81.30V426.10M284.17 81.30V426.10M292.51 81.30V426.10M300.84 81.30V426.10M309.18 81.30V426.10M317.51 81.30V426.10M325.85 81.30V426.10M334.19 81.30V426.10M342.52 81.30V426.10M350.85 81.30V426.10M359.19 81.30V426.10M367.52 81.30V426.10M375.86 81.30V426.10M384.19 81.30V426.10M392.53 81.30V426.10M400.86 81.30V426.10M409.20 81.30V426.10" stroke="#000" stroke-opacity="0.2" stroke-width="2.5" fill="none"/>
<path d="M75.80 81.30V426.10M84.13 81.30V426.10M92.47 81.30V426.10M100.80 81.30V426.10M109.14 81.30V426.10M117.47 81.30V426.10M125.81 81.30V426.10M134.14 81.30V426.10M142.48 81.30V426.10M150.81 81.30V426.10M159.15 81.30V426.10M167.48 81.30V426.10M175.82 81.30V426.10M184.15 81.30V426.10M192.49 81.30V426.10M200.82 81.30V426.10M209.16 81.30V426.10M217.50 81.30V426.10M225.83 81.30V426.10M234.16 81.30V426.10M242.50 81.30V426.10M250.83 81.30V426.10M259.17 81.30V426.10M267.50 81.30V426.10M275.84 81.30V426.10M284.17 81.30V426.10M292.51 81.30V426.10M300.84 81.30V426.10M309.18 81.30V426.10M317.51 81.30V426.10M325.85 81.30V426.10M334.19 81.30V426.10M342.52 81.30V426.10M350.85 81.30V426.10M359.19 81.30V426.10M367.52 81.30V426.10M375.86 81.30V426.10M384.19 81.30V426.10M392.53 81.30V426.10M400.86 81.30V426.10M409.20 81.30V426.10" stroke="#000" stroke-opacity="0.4" stroke-width="1.3" fill="none"/>
<path d="M75.80 81.30H409.20M75.80 89.92H409.20M75.80 98.54H409.20M75.80 107.16H409.20M75.80 115.78H409.20M75.80 124.40H409.20M75.80 133.02H409.20M75.80 141.64H409.20M75.80 150.26H409.20M75.80 158.88H409.20M75.80 167.50H409.20M75.80 176.12H409.20M75.80 184.74H409.20M75.80 193.36H409.20M75.80 201.98H409.20M75.80 210.60H409.20M75.80 219.22H409.20M75.80 227.84H409.20M75.80 236.46H409.20M75.80 245.08H409.20M75.80 253.70H409.20M75.80 262.32H409.20M75.80 270.94H409.20M75.80 279.56H409.20M75.80 288.18H409.20M75.80 296.80H409.20M75.80 305.42H409.20M75.80 314.04H409.20M75.80 322.66H409.20M75.80 331.28H409.20M75.80 339.90H409.20M75.80 348.52H409.20M75.80 357.14H409.20M75.80 365.76H409.20M75.80 374.38H409.20M75.80 383.00H409.20M75.80 391.62H409.20M75.80 400.24H409.20M75.80 408.86H409.20M75.80 417.48H409.20M75.80 426.10H409.20" stroke="#000" stroke-opacity="0.3" stroke-width="2.7" fill="none"/>
<path d="M75.80 81.30H409.20M75.80 89.92H409.20M75.80 98.54H409.20M75.80 107.16H409.20M75.80 115.78H409.20M75.80 124.40H409.20M75.80 133.02H409.20M75.80 141.64H409.20M75.80 150.26H409.20M75.80 158.88H409.20M75.80 167.50H409.20M75.80 176.12H409.20M75.80 184.74H409.20M75.80 193.36H409.20M75.80 201.98H409.20M75.80 210.60H409.20M75.80 219.22H409.20M75.80 227.84H409.20M75.80 236.46H409.20M75.80 245.08H409.20M75.80 253.70H409.20M75.80 262.32H409.20M75.80 270.94H409.20M75.80 279.56H409.20M75.80 288.18H409.20M75.80 296.80H409.20M75.80 305.42H409.20M75.80 314.04H409.20M75.80 322.66H409.20M75.80 331.28H409.20M75.80 339.90H409.20M75.80 348.52H409.20M75.80 357.14H409.20M75.80 365.76H409.20M75.80 374.38H409.20M75.80 383.00H409.20M75.80 391.62H409.20M75.80 400.24H409.20M75.80 408.86H409.20M75.80 417.48H409.20M75.80 426.10H409.20" stroke="#000" stroke-opacity="0.6" stroke-width="1.4" fill="none"/>
<path d="M68.4 73.3V460.3H483.3" stroke="#777" stroke-width="1.8" fill="none"/>
<path d="M75.8 460.3v-3.5M68.4 81.3h3.5M159.1 460.3v-3.5M68.4 167.5h3.5M242.5 460.3v-3.5M68.4 253.7h3.5M325.8 460.3v-3.5M68.4 339.9h3.5M409.2 460.3v-3.5M68.4 426.1h3.5" stroke="#555" stroke-width="1.1" fill="none"/>
<g font-family="Liberation Sans, sans-serif" font-size="14.8" fill="#626262" stroke="#626262" stroke-width="0.5">
<text transform="translate(75.8 483.1) scale(0.955 1)" font-size="15.5" text-anchor="middle">6.0</text>
<text transform="translate(61.4 88.1) scale(0.955 1)" font-size="15.5" text-anchor="end">6.0</text>
<text transform="translate(159.1 483.1) scale(0.955 1)" font-size="15.5" text-anchor="middle">6.5</text>
<text transform="translate(61.4 174.3) scale(0.955 1)" font-size="15.5" text-anchor="end">6.5</text>
<text transform="translate(242.5 483.1) scale(0.955 1)" font-size="15.5" text-anchor="middle">7.0</text>
<text transform="translate(61.4 260.5) scale(0.955 1)" font-size="15.5" text-anchor="end">7.0</text>
<text transform="translate(325.8 483.1) scale(0.955 1)" font-size="15.5" text-anchor="middle">7.5</text>
<text transform="translate(61.4 346.7) scale(0.955 1)" font-size="15.5" text-anchor="end">7.5</text>
<text transform="translate(409.2 483.1) scale(0.955 1)" font-size="15.5" text-anchor="middle">8.0</text>
<text transform="translate(61.4 432.9) scale(0.955 1)" font-size="15.5" text-anchor="end">8.0</text>
<text x="275.7" y="505.0" text-anchor="middle" font-size="16.6">(Subset X) Error (%)</text>
<text transform="translate(31.4 266.3) rotate(-90)" text-anchor="middle" font-size="16.9">(Subset Y) Error (%)</text>
<text x="555.3" y="466.0" font-size="13.7">0</text>
<text x="555.3" y="417.6" font-size="13.7">0.5</text>
<text x="555.3" y="369.1" font-size="13.7">1</text>
<text x="555.3" y="320.6" font-size="13.7">1.5</text>
<text x="555.3" y="272.2" font-size="13.7">2</text>
<text x="555.3" y="223.8" font-size="13.7">2.5</text>
<text x="555.3" y="175.3" font-size="13.7">3</text>
<text x="555.3" y="126.8" font-size="13.7">3.5</text>
<text x="555.3" y="78.4" font-size="13.7">4</text>
</g>
<rect x="526.4" y="72.6" width="23.8" height="387.6" fill="url(#pg)" stroke="#555" stroke-width="1"/>
<path d="M550.2 411.8h-3M550.2 363.3h-3M550.2 314.8h-3M550.2 266.4h-3M550.2 217.9h-3M550.2 169.5h-3M550.2 121.0h-3" stroke="#777" stroke-width="1" fill="none"/>
</g>
<g>
<path d="M76.2 622.5V1009.5M68.4 630.8H483.3" stroke="#dcdcdc" stroke-width="1" fill="none"/>
<path d="M159.4 622.5V1009.5M68.4 717.0H483.3" stroke="#dcdcdc" stroke-width="1" fill="none"/>
<path d="M242.6 622.5V1009.5M68.4 803.2H483.3" stroke="#dcdcdc" stroke-width="1" fill="none"/>
<path d="M325.8 622.5V1009.5M68.4 889.4H483.3" stroke="#dcdcdc" stroke-width="1" fill="none"/>
<path d="M409.0 622.5V1009.5M68.4 975.6H483.3" stroke="#dcdcdc" stroke-width="1" fill="none"/>
<rect x="76.20" y="630.80" width="8.42" height="8.72" fill="#5dcc75"/>
<rect x="84.52" y="630.80" width="8.42" height="8.72" fill="#56cc7b"/>
<rect x="92.84" y="630.80" width="8.42" height="8.72" fill="#4fcc80"/>
<rect x="101.16" y="630.80" width="8.42" height="8.72" fill="#49cb86"/>
<rect x="109.48" y="630.80" width="8.42" height="8.72" fill="#43ca8b"/>
<rect x="117.80" y="630.80" width="8.42" height="8.72" fill="#3dca90"/>
<rect x="126.12" y="630.80" width="8.42" height="8.72" fill="#39c895"/>
<rect x="134.44" y="630.80" width="8.42" height="8.72" fill="#36c799"/>
<rect x="142.76" y="630.80" width="8.42" height="8.72" fill="#33c69e"/>
<rect x="151.08" y="630.80" width="8.42" height="8.72" fill="#30c5a2"/>
<rect x="159.40" y="630.80" width="8.42" height="8.72" fill="#2dc4a6"/>
<rect x="167.72" y="630.80" width="8.42" height="8.72" fill="#29c3aa"/>
<rect x="176.04" y="630.80" width="8.42" height="8.72" fill="#24c2ae"/>
<rect x="184.36" y="630.80" width="8.42" height="8.72" fill="#1fc0b2"/>
<rect x="192.68" y="630.80" width="8.42" height="8.72" fill="#19bfb5"/>
<rect x="201.00" y="630.80" width="8.42" height="8.72" fill="#11beb9"/>
<rect x="209.32" y="630.80" width="8.42" height="8.72" fill="#0bbdbd"/>
<rect x="217.64" y="630.80" width="8.42" height="8.72" fill="#06bbc1"/>
<rect x="225.96" y="630.80" width="8.42" height="8.72" fill="#02bac4"/>
<rect x="234.28" y="630.80" width="8.42" height="8.72" fill="#01b9c8"/>
<rect x="242.60" y="630.80" width="8.42" height="8.72" fill="#02b7cb"/>
<rect x="250.92" y="630.80" width="8.42" height="8.72" fill="#06b5ce"/>
<rect x="259.24" y="630.80" width="8.42" height="8.72" fill="#0ab4d2"/>
<rect x="267.56" y="630.80" width="8.42" height="8.72" fill="#0fb2d5"/>
<rect x="275.88" y="630.80" width="8.42" height="8.72" fill="#14b0d8"/>
<rect x="284.20" y="630.80" width="8.42" height="8.72" fill="#17aeda"/>
<rect x="292.52" y="630.80" width="8.42" height="8.72" fill="#1aacdd"/>
<rect x="300.84" y="630.80" width="8.42" height="8.72" fill="#1caadf"/>
<rect x="309.16" y="630.80" width="8.42" height="8.72" fill="#1ea7e1"/>
<rect x="317.48" y="630.80" width="8.42" height="8.72" fill="#20a5e2"/>
<rect x="325.80" y="630.80" width="8.42" height="8.72" fill="#22a2e4"/>
<rect x="334.12" y="630.80" width="8.42" height="8.72" fill="#23a0e5"/>
<rect x="342.44" y="630.80" width="8.42" height="8.72" fill="#249de6"/>
<rect x="350.76" y="630.80" width="8.42" height="8.72" fill="#259be8"/>
<rect x="359.08" y="630.80" width="8.42" height="8.72" fill="#2798ea"/>
<rect x="367.40" y="630.80" width="8.42" height="8.72" fill="#2896ec"/>
<rect x="375.72" y="630.80" width="8.42" height="8.72" fill="#2a93ee"/>
<rect x="384.04" y="630.80" width="8.42" height="8.72" fill="#2b90f0"/>
<rect x="392.36" y="630.80" width="8.42" height="8.72" fill="#2c8ef2"/>
<rect x="400.68" y="630.80" width="8.42" height="8.72" fill="#2d8bf4"/>
<rect x="76.20" y="639.42" width="8.42" height="8.72" fill="#66cd6e"/>
<rect x="84.52" y="639.42" width="8.42" height="8.72" fill="#5ecd74"/>
<rect x="92.84" y="639.42" width="8.42" height="8.72" fill="#57cc7a"/>
<rect x="101.16" y="639.42" width="8.42" height="8.72" fill="#50cc7f"/>
<rect x="109.48" y="639.42" width="8.42" height="8.72" fill="#4acb85"/>
<rect x="117.80" y="639.42" width="8.42" height="8.72" fill="#44ca8a"/>
<rect x="126.12" y="639.42" width="8.42" height="8.72" fill="#3eca8f"/>
<rect x="134.44" y="639.42" width="8.42" height="8.72" fill="#3ac994"/>
<rect x="142.76" y="639.42" width="8.42" height="8.72" fill="#36c899"/>
<rect x="151.08" y="639.42" width="8.42" height="8.72" fill="#33c69d"/>
<rect x="159.40" y="639.42" width="8.42" height="8.72" fill="#30c5a2"/>
<rect x="167.72" y="639.42" width="8.42" height="8.72" fill="#2dc4a6"/>
<rect x="176.04" y="639.42" width="8.42" height="8.72" fill="#29c3aa"/>
<rect x="184.36" y="639.42" width="8.42" height="8.72" fill="#24c2ae"/>
<rect x="192.68" y="639.42" width="8.42" height="8.72" fill="#1ec0b2"/>
<rect x="201.00" y="639.42" width="8.42" height="8.72" fill="#18bfb6"/>
<rect x="209.32" y="639.42" width="8.42" height="8.72" fill="#11beba"/>
<rect x="217.64" y="639.42" width="8.42" height="8.72" fill="#0abdbd"/>
<rect x="225.96" y="639.42" width="8.42" height="8.72" fill="#05bbc1"/>
<rect x="234.28" y="639.42" width="8.42" height="8.72" fill="#02bac5"/>
<rect x="242.60" y="639.42" width="8.42" height="8.72" fill="#01b8c8"/>
<rect x="250.92" y="639.42" width="8.42" height="8.72" fill="#03b7cc"/>
<rect x="259.24" y="639.42" width="8.42" height="8.72" fill="#07b5cf"/>
<rect x="267.56" y="639.42" width="8.42" height="8.72" fill="#0cb3d3"/>
<rect x="275.88" y="639.42" width="8.42" height="8.72" fill="#11b1d6"/>
<rect x="284.20" y="639.42" width="8.42" height="8.72" fill="#15afd9"/>
<rect x="292.52" y="639.42" width="8.42" height="8.72" fill="#18addb"/>
<rect x="300.84" y="639.42" width="8.42" height="8.72" fill="#1babde"/>
<rect x="309.16" y="639.42" width="8.42" height="8.72" fill="#1da9e0"/>
<rect x="317.48" y="639.42" width="8.42" height="8.72" fill="#1fa6e2"/>
<rect x="325.80" y="639.42" width="8.42" height="8.72" fill="#21a4e3"/>
<rect x="334.12" y="639.42" width="8.42" height="8.72" fill="#22a1e4"/>
<rect x="342.44" y="639.42" width="8.42" height="8.72" fill="#249fe6"/>
<rect x="350.76" y="639.42" width="8.42" height="8.72" fill="#259ce7"/>
<rect x="359.08" y="639.42" width="8.42" height="8.72" fill="#2699e9"/>
<rect x="367.40" y="639.42" width="8.42" height="8.72" fill="#2797eb"/>
<rect x="375.72" y="639.42" width="8.42" height="8.72" fill="#2994ed"/>
<rect x="384.04" y="639.42" width="8.42" height="8.72" fill="#2b91ef"/>
<rect x="392.36" y="639.42" width="8.42" height="8.72" fill="#2c8ef1"/>
<rect x="400.68" y="639.42" width="8.42" height="8.72" fill="#2d8cf3"/>
<rect x="76.20" y="648.04" width="8.42" height="8.72" fill="#6fcd66"/>
<rect x="84.52" y="648.04" width="8.42" height="8.72" fill="#67cd6c"/>
<rect x="92.84" y="648.04" width="8.42" height="8.72" fill="#60cd72"/>
<rect x="101.16" y="648.04" width="8.42" height="8.72" fill="#59cc79"/>
<rect x="109.48" y="648.04" width="8.42" height="8.72" fill="#52cc7e"/>
<rect x="117.80" y="648.04" width="8.42" height="8.72" fill="#4acb84"/>
<rect x="126.12" y="648.04" width="8.42" height="8.72" fill="#44cb89"/>
<rect x="134.44" y="648.04" width="8.42" height="8.72" fill="#3eca8f"/>
<rect x="142.76" y="648.04" width="8.42" height="8.72" fill="#3ac994"/>
<rect x="151.08" y="648.04" width="8.42" height="8.72" fill="#36c899"/>
<rect x="159.40" y="648.04" width="8.42" height="8.72" fill="#33c69d"/>
<rect x="167.72" y="648.04" width="8.42" height="8.72" fill="#30c5a2"/>
<rect x="176.04" y="648.04" width="8.42" height="8.72" fill="#2cc4a6"/>
<rect x="184.36" y="648.04" width="8.42" height="8.72" fill="#28c3aa"/>
<rect x="192.68" y="648.04" width="8.42" height="8.72" fill="#24c1ae"/>
<rect x="201.00" y="648.04" width="8.42" height="8.72" fill="#1ec0b2"/>
<rect x="209.32" y="648.04" width="8.42" height="8.72" fill="#17bfb6"/>
<rect x="217.64" y="648.04" width="8.42" height="8.72" fill="#10beba"/>
<rect x="225.96" y="648.04" width="8.42" height="8.72" fill="#09bcbe"/>
<rect x="234.28" y="648.04" width="8.42" height="8.72" fill="#04bbc2"/>
<rect x="242.60" y="648.04" width="8.42" height="8.72" fill="#01bac6"/>
<rect x="250.92" y="648.04" width="8.42" height="8.72" fill="#01b8c9"/>
<rect x="259.24" y="648.04" width="8.42" height="8.72" fill="#04b6cd"/>
<rect x="267.56" y="648.04" width="8.42" height="8.72" fill="#08b5d0"/>
<rect x="275.88" y="648.04" width="8.42" height="8.72" fill="#0db3d4"/>
<rect x="284.20" y="648.04" width="8.42" height="8.72" fill="#12b1d7"/>
<rect x="292.52" y="648.04" width="8.42" height="8.72" fill="#16afda"/>
<rect x="300.84" y="648.04" width="8.42" height="8.72" fill="#19acdc"/>
<rect x="309.16" y="648.04" width="8.42" height="8.72" fill="#1caadf"/>
<rect x="317.48" y="648.04" width="8.42" height="8.72" fill="#1ea8e1"/>
<rect x="325.80" y="648.04" width="8.42" height="8.72" fill="#20a5e2"/>
<rect x="334.12" y="648.04" width="8.42" height="8.72" fill="#21a2e4"/>
<rect x="342.44" y="648.04" width="8.42" height="8.72" fill="#23a0e5"/>
<rect x="350.76" y="648.04" width="8.42" height="8.72" fill="#249de6"/>
<rect x="359.08" y="648.04" width="8.42" height="8.72" fill="#269be8"/>
<rect x="367.40" y="648.04" width="8.42" height="8.72" fill="#2798ea"/>
<rect x="375.72" y="648.04" width="8.42" height="8.72" fill="#2895ec"/>
<rect x="384.04" y="648.04" width="8.42" height="8.72" fill="#2a92ee"/>
<rect x="392.36" y="648.04" width="8.42" height="8.72" fill="#2c8ff0"/>
<rect x="400.68" y="648.04" width="8.42" height="8.72" fill="#2d8df3"/>
<rect x="76.20" y="656.66" width="8.42" height="8.72" fill="#79cc5e"/>
<rect x="84.52" y="656.66" width="8.42" height="8.72" fill="#71cd65"/>
<rect x="92.84" y="656.66" width="8.42" height="8.72" fill="#69cd6b"/>
<rect x="101.16" y="656.66" width="8.42" height="8.72" fill="#61cd71"/>
<rect x="109.48" y="656.66" width="8.42" height="8.72" fill="#5acc78"/>
<rect x="117.80" y="656.66" width="8.42" height="8.72" fill="#52cc7e"/>
<rect x="126.12" y="656.66" width="8.42" height="8.72" fill="#4bcb84"/>
<rect x="134.44" y="656.66" width="8.42" height="8.72" fill="#45cb89"/>
<rect x="142.76" y="656.66" width="8.42" height="8.72" fill="#3eca8f"/>
<rect x="151.08" y="656.66" width="8.42" height="8.72" fill="#3ac994"/>
<rect x="159.40" y="656.66" width="8.42" height="8.72" fill="#36c899"/>
<rect x="167.72" y="656.66" width="8.42" height="8.72" fill="#33c69e"/>
<rect x="176.04" y="656.66" width="8.42" height="8.72" fill="#2fc5a2"/>
<rect x="184.36" y="656.66" width="8.42" height="8.72" fill="#2cc4a6"/>
<rect x="192.68" y="656.66" width="8.42" height="8.72" fill="#28c3ab"/>
<rect x="201.00" y="656.66" width="8.42" height="8.72" fill="#23c1af"/>
<rect x="209.32" y="656.66" width="8.42" height="8.72" fill="#1dc0b3"/>
<rect x="217.64" y="656.66" width="8.42" height="8.72" fill="#16bfb7"/>
<rect x="225.96" y="656.66" width="8.42" height="8.72" fill="#0ebebb"/>
<rect x="234.28" y="656.66" width="8.42" height="8.72" fill="#08bcbf"/>
<rect x="242.60" y="656.66" width="8.42" height="8.72" fill="#03bbc3"/>
<rect x="250.92" y="656.66" width="8.42" height="8.72" fill="#01b9c6"/>
<rect x="259.24" y="656.66" width="8.42" height="8.72" fill="#01b8ca"/>
<rect x="267.56" y="656.66" width="8.42" height="8.72" fill="#05b6ce"/>
<rect x="275.88" y="656.66" width="8.42" height="8.72" fill="#09b4d1"/>
<rect x="284.20" y="656.66" width="8.42" height="8.72" fill="#0fb2d5"/>
<rect x="292.52" y="656.66" width="8.42" height="8.72" fill="#14b0d8"/>
<rect x="300.84" y="656.66" width="8.42" height="8.72" fill="#18aedb"/>
<rect x="309.16" y="656.66" width="8.42" height="8.72" fill="#1aabdd"/>
<rect x="317.48" y="656.66" width="8.42" height="8.72" fill="#1da9e0"/>
<rect x="325.80" y="656.66" width="8.42" height="8.72" fill="#1ea6e1"/>
<rect x="334.12" y="656.66" width="8.42" height="8.72" fill="#20a4e3"/>
<rect x="342.44" y="656.66" width="8.42" height="8.72" fill="#22a1e4"/>
<rect x="350.76" y="656.66" width="8.42" height="8.72" fill="#249fe6"/>
<rect x="359.08" y="656.66" width="8.42" height="8.72" fill="#259ce7"/>
<rect x="367.40" y="656.66" width="8.42" height="8.72" fill="#2699e9"/>
<rect x="375.72" y="656.66" width="8.42" height="8.72" fill="#2796eb"/>
<rect x="384.04" y="656.66" width="8.42" height="8.72" fill="#2a93ed"/>
<rect x="392.36" y="656.66" width="8.42" height="8.72" fill="#2b91ef"/>
<rect x="400.68" y="656.66" width="8.42" height="8.72" fill="#2c8ef2"/>
<rect x="76.20" y="665.28" width="8.42" height="8.72" fill="#83cc57"/>
<rect x="84.52" y="665.28" width="8.42" height="8.72" fill="#7bcc5d"/>
<rect x="92.84" y="665.28" width="8.42" height="8.72" fill="#72cd64"/>
<rect x="101.16" y="665.28" width="8.42" height="8.72" fill="#6acd6a"/>
<rect x="109.48" y="665.28" width="8.42" height="8.72" fill="#62cd71"/>
<rect x="117.80" y="665.28" width="8.42" height="8.72" fill="#5acc77"/>
<rect x="126.12" y="665.28" width="8.42" height="8.72" fill="#53cc7d"/>
<rect x="134.44" y="665.28" width="8.42" height="8.72" fill="#4bcb83"/>
<rect x="142.76" y="665.28" width="8.42" height="8.72" fill="#45cb89"/>
<rect x="151.08" y="665.28" width="8.42" height="8.72" fill="#3eca8f"/>
<rect x="159.40" y="665.28" width="8.42" height="8.72" fill="#3ac994"/>
<rect x="167.72" y="665.28" width="8.42" height="8.72" fill="#36c899"/>
<rect x="176.04" y="665.28" width="8.42" height="8.72" fill="#32c69e"/>
<rect x="184.36" y="665.28" width="8.42" height="8.72" fill="#2fc5a2"/>
<rect x="192.68" y="665.28" width="8.42" height="8.72" fill="#2cc4a7"/>
<rect x="201.00" y="665.28" width="8.42" height="8.72" fill="#27c2ab"/>
<rect x="209.32" y="665.28" width="8.42" height="8.72" fill="#22c1af"/>
<rect x="217.64" y="665.28" width="8.42" height="8.72" fill="#1cc0b4"/>
<rect x="225.96" y="665.28" width="8.42" height="8.72" fill="#14bfb8"/>
<rect x="234.28" y="665.28" width="8.42" height="8.72" fill="#0dbdbc"/>
<rect x="242.60" y="665.28" width="8.42" height="8.72" fill="#07bcc0"/>
<rect x="250.92" y="665.28" width="8.42" height="8.72" fill="#02bac4"/>
<rect x="259.24" y="665.28" width="8.42" height="8.72" fill="#01b9c7"/>
<rect x="267.56" y="665.28" width="8.42" height="8.72" fill="#02b7cb"/>
<rect x="275.88" y="665.28" width="8.42" height="8.72" fill="#06b5cf"/>
<rect x="284.20" y="665.28" width="8.42" height="8.72" fill="#0bb3d2"/>
<rect x="292.52" y="665.28" width="8.42" height="8.72" fill="#11b1d6"/>
<rect x="300.84" y="665.28" width="8.42" height="8.72" fill="#15afd9"/>
<rect x="309.16" y="665.28" width="8.42" height="8.72" fill="#19addc"/>
<rect x="317.48" y="665.28" width="8.42" height="8.72" fill="#1baade"/>
<rect x="325.80" y="665.28" width="8.42" height="8.72" fill="#1da8e0"/>
<rect x="334.12" y="665.28" width="8.42" height="8.72" fill="#1fa5e2"/>
<rect x="342.44" y="665.28" width="8.42" height="8.72" fill="#21a3e4"/>
<rect x="350.76" y="665.28" width="8.42" height="8.72" fill="#23a0e5"/>
<rect x="359.08" y="665.28" width="8.42" height="8.72" fill="#249de7"/>
<rect x="367.40" y="665.28" width="8.42" height="8.72" fill="#269ae8"/>
<rect x="375.72" y="665.28" width="8.42" height="8.72" fill="#2798ea"/>
<rect x="384.04" y="665.28" width="8.42" height="8.72" fill="#2995ec"/>
<rect x="392.36" y="665.28" width="8.42" height="8.72" fill="#2b92ee"/>
<rect x="400.68" y="665.28" width="8.42" height="8.72" fill="#2c8ff1"/>
<rect x="76.20" y="673.90" width="8.42" height="8.72" fill="#8dcb4f"/>
<rect x="84.52" y="673.90" width="8.42" height="8.72" fill="#85cb56"/>
<rect x="92.84" y="673.90" width="8.42" height="8.72" fill="#7ccc5c"/>
<rect x="101.16" y="673.90" width="8.42" height="8.72" fill="#73cd63"/>
<rect x="109.48" y="673.90" width="8.42" height="8.72" fill="#6acd6a"/>
<rect x="117.80" y="673.90" width="8.42" height="8.72" fill="#62cd70"/>
<rect x="126.12" y="673.90" width="8.42" height="8.72" fill="#5bcc77"/>
<rect x="134.44" y="673.90" width="8.42" height="8.72" fill="#53cc7d"/>
<rect x="142.76" y="673.90" width="8.42" height="8.72" fill="#4bcb83"/>
<rect x="151.08" y="673.90" width="8.42" height="8.72" fill="#45cb89"/>
<rect x="159.40" y="673.90" width="8.42" height="8.72" fill="#3eca8f"/>
<rect x="167.72" y="673.90" width="8.42" height="8.72" fill="#3ac994"/>
<rect x="176.04" y="673.90" width="8.42" height="8.72" fill="#36c799"/>
<rect x="184.36" y="673.90" width="8.42" height="8.72" fill="#32c69e"/>
<rect x="192.68" y="673.90" width="8.42" height="8.72" fill="#2fc5a3"/>
<rect x="201.00" y="673.90" width="8.42" height="8.72" fill="#2bc3a8"/>
<rect x="209.32" y="673.90" width="8.42" height="8.72" fill="#27c2ac"/>
<rect x="217.64" y="673.90" width="8.42" height="8.72" fill="#21c1b0"/>
<rect x="225.96" y="673.90" width="8.42" height="8.72" fill="#1ac0b4"/>
<rect x="234.28" y="673.90" width="8.42" height="8.72" fill="#13beb9"/>
<rect x="242.60" y="673.90" width="8.42" height="8.72" fill="#0bbdbd"/>
<rect x="250.92" y="673.90" width="8.42" height="8.72" fill="#05bbc1"/>
<rect x="259.24" y="673.90" width="8.42" height="8.72" fill="#02bac5"/>
<rect x="267.56" y="673.90" width="8.42" height="8.72" fill="#01b8c9"/>
<rect x="275.88" y="673.90" width="8.42" height="8.72" fill="#04b6cc"/>
<rect x="284.20" y="673.90" width="8.42" height="8.72" fill="#08b5d0"/>
<rect x="292.52" y="673.90" width="8.42" height="8.72" fill="#0db3d4"/>
<rect x="300.84" y="673.90" width="8.42" height="8.72" fill="#13b0d7"/>
<rect x="309.16" y="673.90" width="8.42" height="8.72" fill="#17aeda"/>
<rect x="317.48" y="673.90" width="8.42" height="8.72" fill="#1aacdd"/>
<rect x="325.80" y="673.90" width="8.42" height="8.72" fill="#1ca9df"/>
<rect x="334.12" y="673.90" width="8.42" height="8.72" fill="#1ea7e1"/>
<rect x="342.44" y="673.90" width="8.42" height="8.72" fill="#20a4e3"/>
<rect x="350.76" y="673.90" width="8.42" height="8.72" fill="#22a1e4"/>
<rect x="359.08" y="673.90" width="8.42" height="8.72" fill="#249ee6"/>
<rect x="367.40" y="673.90" width="8.42" height="8.72" fill="#259ce7"/>
<rect x="375.72" y="673.90" width="8.42" height="8.72" fill="#2699e9"/>
<rect x="384.04" y="673.90" width="8.42" height="8.72" fill="#2896ec"/>
<rect x="392.36" y="673.90" width="8.42" height="8.72" fill="#2a93ee"/>
<rect x="400.68" y="673.90" width="8.42" height="8.72" fill="#2c90f0"/>
<rect x="76.20" y="682.52" width="8.42" height="8.72" fill="#97ca48"/>
<rect x="84.52" y="682.52" width="8.42" height="8.72" fill="#8ecb4e"/>
<rect x="92.84" y="682.52" width="8.42" height="8.72" fill="#85cb55"/>
<rect x="101.16" y="682.52" width="8.42" height="8.72" fill="#7dcc5c"/>
<rect x="109.48" y="682.52" width="8.42" height="8.72" fill="#73cd62"/>
<rect x="117.80" y="682.52" width="8.42" height="8.72" fill="#6bcd69"/>
<rect x="126.12" y="682.52" width="8.42" height="8.72" fill="#63cd70"/>
<rect x="134.44" y="682.52" width="8.42" height="8.72" fill="#5bcc77"/>
<rect x="142.76" y="682.52" width="8.42" height="8.72" fill="#53cc7d"/>
<rect x="151.08" y="682.52" width="8.42" height="8.72" fill="#4bcb83"/>
<rect x="159.40" y="682.52" width="8.42" height="8.72" fill="#44cb89"/>
<rect x="167.72" y="682.52" width="8.42" height="8.72" fill="#3eca8f"/>
<rect x="176.04" y="682.52" width="8.42" height="8.72" fill="#39c995"/>
<rect x="184.36" y="682.52" width="8.42" height="8.72" fill="#35c79a"/>
<rect x="192.68" y="682.52" width="8.42" height="8.72" fill="#32c69f"/>
<rect x="201.00" y="682.52" width="8.42" height="8.72" fill="#2ec5a4"/>
<rect x="209.32" y="682.52" width="8.42" height="8.72" fill="#2bc3a8"/>
<rect x="217.64" y="682.52" width="8.42" height="8.72" fill="#26c2ad"/>
<rect x="225.96" y="682.52" width="8.42" height="8.72" fill="#20c1b1"/>
<rect x="234.28" y="682.52" width="8.42" height="8.72" fill="#19bfb5"/>
<rect x="242.60" y="682.52" width="8.42" height="8.72" fill="#11beba"/>
<rect x="250.92" y="682.52" width="8.42" height="8.72" fill="#09bdbe"/>
<rect x="259.24" y="682.52" width="8.42" height="8.72" fill="#04bbc2"/>
<rect x="267.56" y="682.52" width="8.42" height="8.72" fill="#01b9c6"/>
<rect x="275.88" y="682.52" width="8.42" height="8.72" fill="#01b8ca"/>
<rect x="284.20" y="682.52" width="8.42" height="8.72" fill="#05b6ce"/>
<rect x="292.52" y="682.52" width="8.42" height="8.72" fill="#0ab4d1"/>
<rect x="300.84" y="682.52" width="8.42" height="8.72" fill="#10b2d5"/>
<rect x="309.16" y="682.52" width="8.42" height="8.72" fill="#14b0d8"/>
<rect x="317.48" y="682.52" width="8.42" height="8.72" fill="#18addb"/>
<rect x="325.80" y="682.52" width="8.42" height="8.72" fill="#1babde"/>
<rect x="334.12" y="682.52" width="8.42" height="8.72" fill="#1da8e0"/>
<rect x="342.44" y="682.52" width="8.42" height="8.72" fill="#1fa5e2"/>
<rect x="350.76" y="682.52" width="8.42" height="8.72" fill="#21a3e4"/>
<rect x="359.08" y="682.52" width="8.42" height="8.72" fill="#23a0e5"/>
<rect x="367.40" y="682.52" width="8.42" height="8.72" fill="#259de7"/>
<rect x="375.72" y="682.52" width="8.42" height="8.72" fill="#269ae8"/>
<rect x="384.04" y="682.52" width="8.42" height="8.72" fill="#2797eb"/>
<rect x="392.36" y="682.52" width="8.42" height="8.72" fill="#2994ed"/>
<rect x="400.68" y="682.52" width="8.42" height="8.72" fill="#2b91ef"/>
<rect x="76.20" y="691.14" width="8.42" height="8.72" fill="#a1c840"/>
<rect x="84.52" y="691.14" width="8.42" height="8.72" fill="#98c947"/>
<rect x="92.84" y="691.14" width="8.42" height="8.72" fill="#8fcb4e"/>
<rect x="101.16" y="691.14" width="8.42" height="8.72" fill="#86cb55"/>
<rect x="109.48" y="691.14" width="8.42" height="8.72" fill="#7dcc5b"/>
<rect x="117.80" y="691.14" width="8.42" height="8.72" fill="#74cd62"/>
<rect x="126.12" y="691.14" width="8.42" height="8.72" fill="#6bcd69"/>
<rect x="134.44" y="691.14" width="8.42" height="8.72" fill="#62cd70"/>
<rect x="142.76" y="691.14" width="8.42" height="8.72" fill="#5bcc77"/>
<rect x="151.08" y="691.14" width="8.42" height="8.72" fill="#53cc7d"/>
<rect x="159.40" y="691.14" width="8.42" height="8.72" fill="#4bcb84"/>
<rect x="167.72" y="691.14" width="8.42" height="8.72" fill="#44cb8a"/>
<rect x="176.04" y="691.14" width="8.42" height="8.72" fill="#3eca90"/>
<rect x="184.36" y="691.14" width="8.42" height="8.72" fill="#39c895"/>
<rect x="192.68" y="691.14" width="8.42" height="8.72" fill="#35c79a"/>
<rect x="201.00" y="691.14" width="8.42" height="8.72" fill="#31c6a0"/>
<rect x="209.32" y="691.14" width="8.42" height="8.72" fill="#2ec4a4"/>
<rect x="217.64" y="691.14" width="8.42" height="8.72" fill="#2ac3a9"/>
<rect x="225.96" y="691.14" width="8.42" height="8.72" fill="#25c2ae"/>
<rect x="234.28" y="691.14" width="8.42" height="8.72" fill="#1ec0b2"/>
<rect x="242.60" y="691.14" width="8.42" height="8.72" fill="#17bfb6"/>
<rect x="250.92" y="691.14" width="8.42" height="8.72" fill="#0fbebb"/>
<rect x="259.24" y="691.14" width="8.42" height="8.72" fill="#08bcbf"/>
<rect x="267.56" y="691.14" width="8.42" height="8.72" fill="#02bbc3"/>
<rect x="275.88" y="691.14" width="8.42" height="8.72" fill="#01b9c7"/>
<rect x="284.20" y="691.14" width="8.42" height="8.72" fill="#02b7cb"/>
<rect x="292.52" y="691.14" width="8.42" height="8.72" fill="#06b5cf"/>
<rect x="300.84" y="691.14" width="8.42" height="8.72" fill="#0cb3d3"/>
<rect x="309.16" y="691.14" width="8.42" height="8.72" fill="#12b1d6"/>
<rect x="317.48" y="691.14" width="8.42" height="8.72" fill="#16afd9"/>
<rect x="325.80" y="691.14" width="8.42" height="8.72" fill="#19acdc"/>
<rect x="334.12" y="691.14" width="8.42" height="8.72" fill="#1caadf"/>
<rect x="342.44" y="691.14" width="8.42" height="8.72" fill="#1ea7e1"/>
<rect x="350.76" y="691.14" width="8.42" height="8.72" fill="#20a4e3"/>
<rect x="359.08" y="691.14" width="8.42" height="8.72" fill="#22a1e4"/>
<rect x="367.40" y="691.14" width="8.42" height="8.72" fill="#249ee6"/>
<rect x="375.72" y="691.14" width="8.42" height="8.72" fill="#259be7"/>
<rect x="384.04" y="691.14" width="8.42" height="8.72" fill="#2698ea"/>
<rect x="392.36" y="691.14" width="8.42" height="8.72" fill="#2895ec"/>
<rect x="400.68" y="691.14" width="8.42" height="8.72" fill="#2a92ee"/>
<rect x="76.20" y="699.76" width="8.42" height="8.72" fill="#aac73a"/>
<rect x="84.52" y="699.76" width="8.42" height="8.72" fill="#a1c840"/>
<rect x="92.84" y="699.76" width="8.42" height="8.72" fill="#98c946"/>
<rect x="101.16" y="699.76" width="8.42" height="8.72" fill="#90ca4d"/>
<rect x="109.48" y="699.76" width="8.42" height="8.72" fill="#86cb54"/>
<rect x="117.80" y="699.76" width="8.42" height="8.72" fill="#7dcc5b"/>
<rect x="126.12" y="699.76" width="8.42" height="8.72" fill="#74cc62"/>
<rect x="134.44" y="699.76" width="8.42" height="8.72" fill="#6bcd69"/>
<rect x="142.76" y="699.76" width="8.42" height="8.72" fill="#62cd70"/>
<rect x="151.08" y="699.76" width="8.42" height="8.72" fill="#5acc77"/>
<rect x="159.40" y="699.76" width="8.42" height="8.72" fill="#52cc7e"/>
<rect x="167.72" y="699.76" width="8.42" height="8.72" fill="#4acb84"/>
<rect x="176.04" y="699.76" width="8.42" height="8.72" fill="#43ca8a"/>
<rect x="184.36" y="699.76" width="8.42" height="8.72" fill="#3dc990"/>
<rect x="192.68" y="699.76" width="8.42" height="8.72" fill="#38c896"/>
<rect x="201.00" y="699.76" width="8.42" height="8.72" fill="#34c79b"/>
<rect x="209.32" y="699.76" width="8.42" height="8.72" fill="#31c6a0"/>
<rect x="217.64" y="699.76" width="8.42" height="8.72" fill="#2dc4a5"/>
<rect x="225.96" y="699.76" width="8.42" height="8.72" fill="#29c3aa"/>
<rect x="234.28" y="699.76" width="8.42" height="8.72" fill="#24c1af"/>
<rect x="242.60" y="699.76" width="8.42" height="8.72" fill="#1dc0b3"/>
<rect x="250.92" y="699.76" width="8.42" height="8.72" fill="#15bfb7"/>
<rect x="259.24" y="699.76" width="8.42" height="8.72" fill="#0cbdbc"/>
<rect x="267.56" y="699.76" width="8.42" height="8.72" fill="#06bcc0"/>
<rect x="275.88" y="699.76" width="8.42" height="8.72" fill="#02bac4"/>
<rect x="284.20" y="699.76" width="8.42" height="8.72" fill="#01b8c8"/>
<rect x="292.52" y="699.76" width="8.42" height="8.72" fill="#04b6cc"/>
<rect x="300.84" y="699.76" width="8.42" height="8.72" fill="#08b4d0"/>
<rect x="309.16" y="699.76" width="8.42" height="8.72" fill="#0eb2d4"/>
<rect x="317.48" y="699.76" width="8.42" height="8.72" fill="#14b0d8"/>
<rect x="325.80" y="699.76" width="8.42" height="8.72" fill="#18aedb"/>
<rect x="334.12" y="699.76" width="8.42" height="8.72" fill="#1babde"/>
<rect x="342.44" y="699.76" width="8.42" height="8.72" fill="#1da8e0"/>
<rect x="350.76" y="699.76" width="8.42" height="8.72" fill="#1fa6e2"/>
<rect x="359.08" y="699.76" width="8.42" height="8.72" fill="#21a3e3"/>
<rect x="367.40" y="699.76" width="8.42" height="8.72" fill="#23a0e5"/>
<rect x="375.72" y="699.76" width="8.42" height="8.72" fill="#259de7"/>
<rect x="384.04" y="699.76" width="8.42" height="8.72" fill="#269ae9"/>
<rect x="392.36" y="699.76" width="8.42" height="8.72" fill="#2797eb"/>
<rect x="400.68" y="699.76" width="8.42" height="8.72" fill="#2994ed"/>
<rect x="76.20" y="708.38" width="8.42" height="8.72" fill="#b3c534"/>
<rect x="84.52" y="708.38" width="8.42" height="8.72" fill="#abc739"/>
<rect x="92.84" y="708.38" width="8.42" height="8.72" fill="#a2c840"/>
<rect x="101.16" y="708.38" width="8.42" height="8.72" fill="#99c946"/>
<rect x="109.48" y="708.38" width="8.42" height="8.72" fill="#90ca4d"/>
<rect x="117.80" y="708.38" width="8.42" height="8.72" fill="#86cb54"/>
<rect x="126.12" y="708.38" width="8.42" height="8.72" fill="#7dcc5b"/>
<rect x="134.44" y="708.38" width="8.42" height="8.72" fill="#74cd62"/>
<rect x="142.76" y="708.38" width="8.42" height="8.72" fill="#6acd69"/>
<rect x="151.08" y="708.38" width="8.42" height="8.72" fill="#62cd71"/>
<rect x="159.40" y="708.38" width="8.42" height="8.72" fill="#5acc78"/>
<rect x="167.72" y="708.38" width="8.42" height="8.72" fill="#51cc7e"/>
<rect x="176.04" y="708.38" width="8.42" height="8.72" fill="#49cb85"/>
<rect x="184.36" y="708.38" width="8.42" height="8.72" fill="#42ca8b"/>
<rect x="192.68" y="708.38" width="8.42" height="8.72" fill="#3cc991"/>
<rect x="201.00" y="708.38" width="8.42" height="8.72" fill="#37c897"/>
<rect x="209.32" y="708.38" width="8.42" height="8.72" fill="#34c79c"/>
<rect x="217.64" y="708.38" width="8.42" height="8.72" fill="#30c5a1"/>
<rect x="225.96" y="708.38" width="8.42" height="8.72" fill="#2cc4a6"/>
<rect x="234.28" y="708.38" width="8.42" height="8.72" fill="#28c2ab"/>
<rect x="242.60" y="708.38" width="8.42" height="8.72" fill="#22c1b0"/>
<rect x="250.92" y="708.38" width="8.42" height="8.72" fill="#1bc0b4"/>
<rect x="259.24" y="708.38" width="8.42" height="8.72" fill="#13beb9"/>
<rect x="267.56" y="708.38" width="8.42" height="8.72" fill="#0abdbd"/>
<rect x="275.88" y="708.38" width="8.42" height="8.72" fill="#04bbc1"/>
<rect x="284.20" y="708.38" width="8.42" height="8.72" fill="#01b9c6"/>
<rect x="292.52" y="708.38" width="8.42" height="8.72" fill="#01b8ca"/>
<rect x="300.84" y="708.38" width="8.42" height="8.72" fill="#05b6ce"/>
<rect x="309.16" y="708.38" width="8.42" height="8.72" fill="#0ab4d2"/>
<rect x="317.48" y="708.38" width="8.42" height="8.72" fill="#11b1d5"/>
<rect x="325.80" y="708.38" width="8.42" height="8.72" fill="#15afd9"/>
<rect x="334.12" y="708.38" width="8.42" height="8.72" fill="#19addc"/>
<rect x="342.44" y="708.38" width="8.42" height="8.72" fill="#1caadf"/>
<rect x="350.76" y="708.38" width="8.42" height="8.72" fill="#1ea7e1"/>
<rect x="359.08" y="708.38" width="8.42" height="8.72" fill="#20a4e3"/>
<rect x="367.40" y="708.38" width="8.42" height="8.72" fill="#22a1e4"/>
<rect x="375.72" y="708.38" width="8.42" height="8.72" fill="#249ee6"/>
<rect x="384.04" y="708.38" width="8.42" height="8.72" fill="#259be8"/>
<rect x="392.36" y="708.38" width="8.42" height="8.72" fill="#2798ea"/>
<rect x="400.68" y="708.38" width="8.42" height="8.72" fill="#2895ec"/>
<rect x="76.20" y="717.00" width="8.42" height="8.72" fill="#bcc42f"/>
<rect x="84.52" y="717.00" width="8.42" height="8.72" fill="#b4c534"/>
<rect x="92.84" y="717.00" width="8.42" height="8.72" fill="#abc739"/>
<rect x="101.16" y="717.00" width="8.42" height="8.72" fill="#a2c83f"/>
<rect x="109.48" y="717.00" width="8.42" height="8.72" fill="#99c946"/>
<rect x="117.80" y="717.00" width="8.42" height="8.72" fill="#90ca4d"/>
<rect x="126.12" y="717.00" width="8.42" height="8.72" fill="#86cb54"/>
<rect x="134.44" y="717.00" width="8.42" height="8.72" fill="#7dcc5c"/>
<rect x="142.76" y="717.00" width="8.42" height="8.72" fill="#73cd63"/>
<rect x="151.08" y="717.00" width="8.42" height="8.72" fill="#6acd6a"/>
<rect x="159.40" y="717.00" width="8.42" height="8.72" fill="#61cd71"/>
<rect x="167.72" y="717.00" width="8.42" height="8.72" fill="#59cc78"/>
<rect x="176.04" y="717.00" width="8.42" height="8.72" fill="#50cc7f"/>
<rect x="184.36" y="717.00" width="8.42" height="8.72" fill="#48cb86"/>
<rect x="192.68" y="717.00" width="8.42" height="8.72" fill="#41ca8c"/>
<rect x="201.00" y="717.00" width="8.42" height="8.72" fill="#3bc992"/>
<rect x="209.32" y="717.00" width="8.42" height="8.72" fill="#37c898"/>
<rect x="217.64" y="717.00" width="8.42" height="8.72" fill="#33c69d"/>
<rect x="225.96" y="717.00" width="8.42" height="8.72" fill="#2fc5a2"/>
<rect x="234.28" y="717.00" width="8.42" height="8.72" fill="#2cc4a7"/>
<rect x="242.60" y="717.00" width="8.42" height="8.72" fill="#26c2ac"/>
<rect x="250.92" y="717.00" width="8.42" height="8.72" fill="#20c1b1"/>
<rect x="259.24" y="717.00" width="8.42" height="8.72" fill="#19bfb5"/>
<rect x="267.56" y="717.00" width="8.42" height="8.72" fill="#10beba"/>
<rect x="275.88" y="717.00" width="8.42" height="8.72" fill="#08bcbe"/>
<rect x="284.20" y="717.00" width="8.42" height="8.72" fill="#02bbc3"/>
<rect x="292.52" y="717.00" width="8.42" height="8.72" fill="#01b9c7"/>
<rect x="300.84" y="717.00" width="8.42" height="8.72" fill="#02b7cb"/>
<rect x="309.16" y="717.00" width="8.42" height="8.72" fill="#07b5cf"/>
<rect x="317.48" y="717.00" width="8.42" height="8.72" fill="#0db3d3"/>
<rect x="325.80" y="717.00" width="8.42" height="8.72" fill="#13b1d7"/>
<rect x="334.12" y="717.00" width="8.42" height="8.72" fill="#17aeda"/>
<rect x="342.44" y="717.00" width="8.42" height="8.72" fill="#1aabdd"/>
<rect x="350.76" y="717.00" width="8.42" height="8.72" fill="#1da9e0"/>
<rect x="359.08" y="717.00" width="8.42" height="8.72" fill="#1fa6e2"/>
<rect x="367.40" y="717.00" width="8.42" height="8.72" fill="#21a3e3"/>
<rect x="375.72" y="717.00" width="8.42" height="8.72" fill="#23a0e5"/>
<rect x="384.04" y="717.00" width="8.42" height="8.72" fill="#259de7"/>
<rect x="392.36" y="717.00" width="8.42" height="8.72" fill="#269ae9"/>
<rect x="400.68" y="717.00" width="8.42" height="8.72" fill="#2797eb"/>
<rect x="76.20" y="725.62" width="8.42" height="8.72" fill="#c5c22a"/>
<rect x="84.52" y="725.62" width="8.42" height="8.72" fill="#bcc42f"/>
<rect x="92.84" y="725.62" width="8.42" height="8.72" fill="#b4c534"/>
<rect x="101.16" y="725.62" width="8.42" height="8.72" fill="#abc739"/>
<rect x="109.48" y="725.62" width="8.42" height="8.72" fill="#a2c83f"/>
<rect x="117.80" y="725.62" width="8.42" height="8.72" fill="#99c946"/>
<rect x="126.12" y="725.62" width="8.42" height="8.72" fill="#8fcb4e"/>
<rect x="134.44" y="725.62" width="8.42" height="8.72" fill="#86cb55"/>
<rect x="142.76" y="725.62" width="8.42" height="8.72" fill="#7ccc5c"/>
<rect x="151.08" y="725.62" width="8.42" height="8.72" fill="#72cd63"/>
<rect x="159.40" y="725.62" width="8.42" height="8.72" fill="#69cd6b"/>
<rect x="167.72" y="725.62" width="8.42" height="8.72" fill="#60cd72"/>
<rect x="176.04" y="725.62" width="8.42" height="8.72" fill="#58cc79"/>
<rect x="184.36" y="725.62" width="8.42" height="8.72" fill="#4fcc80"/>
<rect x="192.68" y="725.62" width="8.42" height="8.72" fill="#47cb87"/>
<rect x="201.00" y="725.62" width="8.42" height="8.72" fill="#40ca8d"/>
<rect x="209.32" y="725.62" width="8.42" height="8.72" fill="#3bc993"/>
<rect x="217.64" y="725.62" width="8.42" height="8.72" fill="#36c899"/>
<rect x="225.96" y="725.62" width="8.42" height="8.72" fill="#32c69e"/>
<rect x="234.28" y="725.62" width="8.42" height="8.72" fill="#2ec5a4"/>
<rect x="242.60" y="725.62" width="8.42" height="8.72" fill="#2ac3a9"/>
<rect x="250.92" y="725.62" width="8.42" height="8.72" fill="#25c2ad"/>
<rect x="259.24" y="725.62" width="8.42" height="8.72" fill="#1ec0b2"/>
<rect x="267.56" y="725.62" width="8.42" height="8.72" fill="#16bfb7"/>
<rect x="275.88" y="725.62" width="8.42" height="8.72" fill="#0dbdbb"/>
<rect x="284.20" y="725.62" width="8.42" height="8.72" fill="#07bcc0"/>
<rect x="292.52" y="725.62" width="8.42" height="8.72" fill="#02bac4"/>
<rect x="300.84" y="725.62" width="8.42" height="8.72" fill="#01b8c9"/>
<rect x="309.16" y="725.62" width="8.42" height="8.72" fill="#04b6cd"/>
<rect x="317.48" y="725.62" width="8.42" height="8.72" fill="#09b4d1"/>
<rect x="325.80" y="725.62" width="8.42" height="8.72" fill="#0fb2d5"/>
<rect x="334.12" y="725.62" width="8.42" height="8.72" fill="#14b0d8"/>
<rect x="342.44" y="725.62" width="8.42" height="8.72" fill="#19addc"/>
<rect x="350.76" y="725.62" width="8.42" height="8.72" fill="#1baade"/>
<rect x="359.08" y="725.62" width="8.42" height="8.72" fill="#1ea7e1"/>
<rect x="367.40" y="725.62" width="8.42" height="8.72" fill="#20a4e3"/>
<rect x="375.72" y="725.62" width="8.42" height="8.72" fill="#22a1e4"/>
<rect x="384.04" y="725.62" width="8.42" height="8.72" fill="#249ee6"/>
<rect x="392.36" y="725.62" width="8.42" height="8.72" fill="#259be8"/>
<rect x="400.68" y="725.62" width="8.42" height="8.72" fill="#2798ea"/>
<rect x="76.20" y="734.24" width="8.42" height="8.72" fill="#cdc028"/>
<rect x="84.52" y="734.24" width="8.42" height="8.72" fill="#c5c22a"/>
<rect x="92.84" y="734.24" width="8.42" height="8.72" fill="#bdc42f"/>
<rect x="101.16" y="734.24" width="8.42" height="8.72" fill="#b4c534"/>
<rect x="109.48" y="734.24" width="8.42" height="8.72" fill="#abc739"/>
<rect x="117.80" y="734.24" width="8.42" height="8.72" fill="#a2c840"/>
<rect x="126.12" y="734.24" width="8.42" height="8.72" fill="#98c947"/>
<rect x="134.44" y="734.24" width="8.42" height="8.72" fill="#8fcb4e"/>
<rect x="142.76" y="734.24" width="8.42" height="8.72" fill="#85cb55"/>
<rect x="151.08" y="734.24" width="8.42" height="8.72" fill="#7bcc5d"/>
<rect x="159.40" y="734.24" width="8.42" height="8.72" fill="#71cd64"/>
<rect x="167.72" y="734.24" width="8.42" height="8.72" fill="#68cd6c"/>
<rect x="176.04" y="734.24" width="8.42" height="8.72" fill="#5fcd73"/>
<rect x="184.36" y="734.24" width="8.42" height="8.72" fill="#57cc7a"/>
<rect x="192.68" y="734.24" width="8.42" height="8.72" fill="#4ecc81"/>
<rect x="201.00" y="734.24" width="8.42" height="8.72" fill="#46cb88"/>
<rect x="209.32" y="734.24" width="8.42" height="8.72" fill="#3fca8e"/>
<rect x="217.64" y="734.24" width="8.42" height="8.72" fill="#3ac994"/>
<rect x="225.96" y="734.24" width="8.42" height="8.72" fill="#35c79a"/>
<rect x="234.28" y="734.24" width="8.42" height="8.72" fill="#31c6a0"/>
<rect x="242.60" y="734.24" width="8.42" height="8.72" fill="#2ec4a5"/>
<rect x="250.92" y="734.24" width="8.42" height="8.72" fill="#29c3aa"/>
<rect x="259.24" y="734.24" width="8.42" height="8.72" fill="#24c1af"/>
<rect x="267.56" y="734.24" width="8.42" height="8.72" fill="#1cc0b3"/>
<rect x="275.88" y="734.24" width="8.42" height="8.72" fill="#14beb8"/>
<rect x="284.20" y="734.24" width="8.42" height="8.72" fill="#0bbdbd"/>
<rect x="292.52" y="734.24" width="8.42" height="8.72" fill="#05bbc1"/>
<rect x="300.84" y="734.24" width="8.42" height="8.72" fill="#01b9c6"/>
<rect x="309.16" y="734.24" width="8.42" height="8.72" fill="#01b8ca"/>
<rect x="317.48" y="734.24" width="8.42" height="8.72" fill="#06b6ce"/>
<rect x="325.80" y="734.24" width="8.42" height="8.72" fill="#0bb3d2"/>
<rect x="334.12" y="734.24" width="8.42" height="8.72" fill="#12b1d6"/>
<rect x="342.44" y="734.24" width="8.42" height="8.72" fill="#16afda"/>
<rect x="350.76" y="734.24" width="8.42" height="8.72" fill="#1aacdd"/>
<rect x="359.08" y="734.24" width="8.42" height="8.72" fill="#1ca9e0"/>
<rect x="367.40" y="734.24" width="8.42" height="8.72" fill="#1fa6e2"/>
<rect x="375.72" y="734.24" width="8.42" height="8.72" fill="#21a3e3"/>
<rect x="384.04" y="734.24" width="8.42" height="8.72" fill="#23a0e5"/>
<rect x="392.36" y="734.24" width="8.42" height="8.72" fill="#259de7"/>
<rect x="400.68" y="734.24" width="8.42" height="8.72" fill="#269ae9"/>
<rect x="76.20" y="742.86" width="8.42" height="8.72" fill="#d5be28"/>
<rect x="84.52" y="742.86" width="8.42" height="8.72" fill="#cdc028"/>
<rect x="92.84" y="742.86" width="8.42" height="8.72" fill="#c5c22a"/>
<rect x="101.16" y="742.86" width="8.42" height="8.72" fill="#bcc42f"/>
<rect x="109.48" y="742.86" width="8.42" height="8.72" fill="#b4c534"/>
<rect x="117.80" y="742.86" width="8.42" height="8.72" fill="#abc739"/>
<rect x="126.12" y="742.86" width="8.42" height="8.72" fill="#a1c840"/>
<rect x="134.44" y="742.86" width="8.42" height="8.72" fill="#98ca47"/>
<rect x="142.76" y="742.86" width="8.42" height="8.72" fill="#8ecb4f"/>
<rect x="151.08" y="742.86" width="8.42" height="8.72" fill="#84cc56"/>
<rect x="159.40" y="742.86" width="8.42" height="8.72" fill="#7acc5d"/>
<rect x="167.72" y="742.86" width="8.42" height="8.72" fill="#70cd65"/>
<rect x="176.04" y="742.86" width="8.42" height="8.72" fill="#67cd6d"/>
<rect x="184.36" y="742.86" width="8.42" height="8.72" fill="#5ecc74"/>
<rect x="192.68" y="742.86" width="8.42" height="8.72" fill="#55cc7b"/>
<rect x="201.00" y="742.86" width="8.42" height="8.72" fill="#4dcb82"/>
<rect x="209.32" y="742.86" width="8.42" height="8.72" fill="#45cb89"/>
<rect x="217.64" y="742.86" width="8.42" height="8.72" fill="#3eca8f"/>
<rect x="225.96" y="742.86" width="8.42" height="8.72" fill="#38c896"/>
<rect x="234.28" y="742.86" width="8.42" height="8.72" fill="#34c79b"/>
<rect x="242.60" y="742.86" width="8.42" height="8.72" fill="#30c5a1"/>
<rect x="250.92" y="742.86" width="8.42" height="8.72" fill="#2dc4a6"/>
<rect x="259.24" y="742.86" width="8.42" height="8.72" fill="#28c2ab"/>
<rect x="267.56" y="742.86" width="8.42" height="8.72" fill="#21c1b0"/>
<rect x="275.88" y="742.86" width="8.42" height="8.72" fill="#1abfb5"/>
<rect x="284.20" y="742.86" width="8.42" height="8.72" fill="#11beba"/>
<rect x="292.52" y="742.86" width="8.42" height="8.72" fill="#09bcbe"/>
<rect x="300.84" y="742.86" width="8.42" height="8.72" fill="#02bbc3"/>
<rect x="309.16" y="742.86" width="8.42" height="8.72" fill="#01b9c7"/>
<rect x="317.48" y="742.86" width="8.42" height="8.72" fill="#03b7cc"/>
<rect x="325.80" y="742.86" width="8.42" height="8.72" fill="#07b5d0"/>
<rect x="334.12" y="742.86" width="8.42" height="8.72" fill="#0eb2d4"/>
<rect x="342.44" y="742.86" width="8.42" height="8.72" fill="#14b0d8"/>
<rect x="350.76" y="742.86" width="8.42" height="8.72" fill="#18addb"/>
<rect x="359.08" y="742.86" width="8.42" height="8.72" fill="#1babde"/>
<rect x="367.40" y="742.86" width="8.42" height="8.72" fill="#1da8e0"/>
<rect x="375.72" y="742.86" width="8.42" height="8.72" fill="#20a5e3"/>
<rect x="384.04" y="742.86" width="8.42" height="8.72" fill="#22a2e4"/>
<rect x="392.36" y="742.86" width="8.42" height="8.72" fill="#249ee6"/>
<rect x="400.68" y="742.86" width="8.42" height="8.72" fill="#259be8"/>
<rect x="76.20" y="751.48" width="8.42" height="8.72" fill="#dcbd29"/>
<rect x="84.52" y="751.48" width="8.42" height="8.72" fill="#d5be28"/>
<rect x="92.84" y="751.48" width="8.42" height="8.72" fill="#cdc028"/>
<rect x="101.16" y="751.48" width="8.42" height="8.72" fill="#c5c22a"/>
<rect x="109.48" y="751.48" width="8.42" height="8.72" fill="#bcc42f"/>
<rect x="117.80" y="751.48" width="8.42" height="8.72" fill="#b3c534"/>
<rect x="126.12" y="751.48" width="8.42" height="8.72" fill="#aac73a"/>
<rect x="134.44" y="751.48" width="8.42" height="8.72" fill="#a0c840"/>
<rect x="142.76" y="751.48" width="8.42" height="8.72" fill="#97ca48"/>
<rect x="151.08" y="751.48" width="8.42" height="8.72" fill="#8dcb4f"/>
<rect x="159.40" y="751.48" width="8.42" height="8.72" fill="#83cc57"/>
<rect x="167.72" y="751.48" width="8.42" height="8.72" fill="#79cc5e"/>
<rect x="176.04" y="751.48" width="8.42" height="8.72" fill="#6fcd66"/>
<rect x="184.36" y="751.48" width="8.42" height="8.72" fill="#65cd6e"/>
<rect x="192.68" y="751.48" width="8.42" height="8.72" fill="#5ccc75"/>
<rect x="201.00" y="751.48" width="8.42" height="8.72" fill="#54cc7d"/>
<rect x="209.32" y="751.48" width="8.42" height="8.72" fill="#4bcb84"/>
<rect x="217.64" y="751.48" width="8.42" height="8.72" fill="#43ca8a"/>
<rect x="225.96" y="751.48" width="8.42" height="8.72" fill="#3dc991"/>
<rect x="234.28" y="751.48" width="8.42" height="8.72" fill="#37c897"/>
<rect x="242.60" y="751.48" width="8.42" height="8.72" fill="#33c79d"/>
<rect x="250.92" y="751.48" width="8.42" height="8.72" fill="#2fc5a2"/>
<rect x="259.24" y="751.48" width="8.42" height="8.72" fill="#2bc3a7"/>
<rect x="267.56" y="751.48" width="8.42" height="8.72" fill="#26c2ac"/>
<rect x="275.88" y="751.48" width="8.42" height="8.72" fill="#1fc1b1"/>
<rect x="284.20" y="751.48" width="8.42" height="8.72" fill="#17bfb6"/>
<rect x="292.52" y="751.48" width="8.42" height="8.72" fill="#0ebdbb"/>
<rect x="300.84" y="751.48" width="8.42" height="8.72" fill="#07bcc0"/>
<rect x="309.16" y="751.48" width="8.42" height="8.72" fill="#02bac4"/>
<rect x="317.48" y="751.48" width="8.42" height="8.72" fill="#01b8c9"/>
<rect x="325.80" y="751.48" width="8.42" height="8.72" fill="#04b6cd"/>
<rect x="334.12" y="751.48" width="8.42" height="8.72" fill="#0ab4d1"/>
<rect x="342.44" y="751.48" width="8.42" height="8.72" fill="#10b2d5"/>
<rect x="350.76" y="751.48" width="8.42" height="8.72" fill="#15afd9"/>
<rect x="359.08" y="751.48" width="8.42" height="8.72" fill="#19acdc"/>
<rect x="367.40" y="751.48" width="8.42" height="8.72" fill="#1ca9df"/>
<rect x="375.72" y="751.48" width="8.42" height="8.72" fill="#1fa6e1"/>
<rect x="384.04" y="751.48" width="8.42" height="8.72" fill="#21a3e3"/>
<rect x="392.36" y="751.48" width="8.42" height="8.72" fill="#23a0e5"/>
<rect x="400.68" y="751.48" width="8.42" height="8.72" fill="#259de7"/>
<rect x="76.20" y="760.10" width="8.42" height="8.72" fill="#e3bc2c"/>
<rect x="84.52" y="760.10" width="8.42" height="8.72" fill="#dcbd29"/>
<rect x="92.84" y="760.10" width="8.42" height="8.72" fill="#d5be28"/>
<rect x="101.16" y="760.10" width="8.42" height="8.72" fill="#cdc028"/>
<rect x="109.48" y="760.10" width="8.42" height="8.72" fill="#c4c22b"/>
<rect x="117.80" y="760.10" width="8.42" height="8.72" fill="#bcc42f"/>
<rect x="126.12" y="760.10" width="8.42" height="8.72" fill="#b2c534"/>
<rect x="134.44" y="760.10" width="8.42" height="8.72" fill="#a9c73a"/>
<rect x="142.76" y="760.10" width="8.42" height="8.72" fill="#a0c941"/>
<rect x="151.08" y="760.10" width="8.42" height="8.72" fill="#96ca49"/>
<rect x="159.40" y="760.10" width="8.42" height="8.72" fill="#8ccb50"/>
<rect x="167.72" y="760.10" width="8.42" height="8.72" fill="#82cc58"/>
<rect x="176.04" y="760.10" width="8.42" height="8.72" fill="#77cc5f"/>
<rect x="184.36" y="760.10" width="8.42" height="8.72" fill="#6dcd67"/>
<rect x="192.68" y="760.10" width="8.42" height="8.72" fill="#64cd6f"/>
<rect x="201.00" y="760.10" width="8.42" height="8.72" fill="#5bcc77"/>
<rect x="209.32" y="760.10" width="8.42" height="8.72" fill="#52cc7e"/>
<rect x="217.64" y="760.10" width="8.42" height="8.72" fill="#49cb85"/>
<rect x="225.96" y="760.10" width="8.42" height="8.72" fill="#42ca8c"/>
<rect x="234.28" y="760.10" width="8.42" height="8.72" fill="#3bc992"/>
<rect x="242.60" y="760.10" width="8.42" height="8.72" fill="#36c898"/>
<rect x="250.92" y="760.10" width="8.42" height="8.72" fill="#32c69e"/>
<rect x="259.24" y="760.10" width="8.42" height="8.72" fill="#2ec5a4"/>
<rect x="267.56" y="760.10" width="8.42" height="8.72" fill="#2ac3a9"/>
<rect x="275.88" y="760.10" width="8.42" height="8.72" fill="#25c2ae"/>
<rect x="284.20" y="760.10" width="8.42" height="8.72" fill="#1dc0b3"/>
<rect x="292.52" y="760.10" width="8.42" height="8.72" fill="#14bfb8"/>
<rect x="300.84" y="760.10" width="8.42" height="8.72" fill="#0bbdbd"/>
<rect x="309.16" y="760.10" width="8.42" height="8.72" fill="#05bbc1"/>
<rect x="317.48" y="760.10" width="8.42" height="8.72" fill="#01b9c6"/>
<rect x="325.80" y="760.10" width="8.42" height="8.72" fill="#01b7ca"/>
<rect x="334.12" y="760.10" width="8.42" height="8.72" fill="#06b5cf"/>
<rect x="342.44" y="760.10" width="8.42" height="8.72" fill="#0cb3d3"/>
<rect x="350.76" y="760.10" width="8.42" height="8.72" fill="#13b1d7"/>
<rect x="359.08" y="760.10" width="8.42" height="8.72" fill="#17aeda"/>
<rect x="367.40" y="760.10" width="8.42" height="8.72" fill="#1aabde"/>
<rect x="375.72" y="760.10" width="8.42" height="8.72" fill="#1da8e0"/>
<rect x="384.04" y="760.10" width="8.42" height="8.72" fill="#20a5e2"/>
<rect x="392.36" y="760.10" width="8.42" height="8.72" fill="#22a2e4"/>
<rect x="400.68" y="760.10" width="8.42" height="8.72" fill="#249fe6"/>
<rect x="76.20" y="768.72" width="8.42" height="8.72" fill="#eabb30"/>
<rect x="84.52" y="768.72" width="8.42" height="8.72" fill="#e3bc2c"/>
<rect x="92.84" y="768.72" width="8.42" height="8.72" fill="#dcbd29"/>
<rect x="101.16" y="768.72" width="8.42" height="8.72" fill="#d4bf28"/>
<rect x="109.48" y="768.72" width="8.42" height="8.72" fill="#ccc028"/>
<rect x="117.80" y="768.72" width="8.42" height="8.72" fill="#c4c22b"/>
<rect x="126.12" y="768.72" width="8.42" height="8.72" fill="#bbc430"/>
<rect x="134.44" y="768.72" width="8.42" height="8.72" fill="#b2c635"/>
<rect x="142.76" y="768.72" width="8.42" height="8.72" fill="#a8c73b"/>
<rect x="151.08" y="768.72" width="8.42" height="8.72" fill="#9ec942"/>
<rect x="159.40" y="768.72" width="8.42" height="8.72" fill="#95ca4a"/>
<rect x="167.72" y="768.72" width="8.42" height="8.72" fill="#8acb51"/>
<rect x="176.04" y="768.72" width="8.42" height="8.72" fill="#80cc59"/>
<rect x="184.36" y="768.72" width="8.42" height="8.72" fill="#76cc61"/>
<rect x="192.68" y="768.72" width="8.42" height="8.72" fill="#6ccd69"/>
<rect x="201.00" y="768.72" width="8.42" height="8.72" fill="#62cd70"/>
<rect x="209.32" y="768.72" width="8.42" height="8.72" fill="#59cc78"/>
<rect x="217.64" y="768.72" width="8.42" height="8.72" fill="#50cc7f"/>
<rect x="225.96" y="768.72" width="8.42" height="8.72" fill="#48cb86"/>
<rect x="234.28" y="768.72" width="8.42" height="8.72" fill="#40ca8d"/>
<rect x="242.60" y="768.72" width="8.42" height="8.72" fill="#3ac994"/>
<rect x="250.92" y="768.72" width="8.42" height="8.72" fill="#35c79a"/>
<rect x="259.24" y="768.72" width="8.42" height="8.72" fill="#31c6a0"/>
<rect x="267.56" y="768.72" width="8.42" height="8.72" fill="#2dc4a5"/>
<rect x="275.88" y="768.72" width="8.42" height="8.72" fill="#28c3aa"/>
<rect x="284.20" y="768.72" width="8.42" height="8.72" fill="#22c1af"/>
<rect x="292.52" y="768.72" width="8.42" height="8.72" fill="#1bc0b4"/>
<rect x="300.84" y="768.72" width="8.42" height="8.72" fill="#11beb9"/>
<rect x="309.16" y="768.72" width="8.42" height="8.72" fill="#09bcbe"/>
<rect x="317.48" y="768.72" width="8.42" height="8.72" fill="#02bbc3"/>
<rect x="325.80" y="768.72" width="8.42" height="8.72" fill="#01b9c7"/>
<rect x="334.12" y="768.72" width="8.42" height="8.72" fill="#03b7cc"/>
<rect x="342.44" y="768.72" width="8.42" height="8.72" fill="#08b4d0"/>
<rect x="350.76" y="768.72" width="8.42" height="8.72" fill="#0fb2d4"/>
<rect x="359.08" y="768.72" width="8.42" height="8.72" fill="#14b0d8"/>
<rect x="367.40" y="768.72" width="8.42" height="8.72" fill="#19addc"/>
<rect x="375.72" y="768.72" width="8.42" height="8.72" fill="#1caadf"/>
<rect x="384.04" y="768.72" width="8.42" height="8.72" fill="#1ea7e1"/>
<rect x="392.36" y="768.72" width="8.42" height="8.72" fill="#21a4e3"/>
<rect x="400.68" y="768.72" width="8.42" height="8.72" fill="#23a0e5"/>
<rect x="76.20" y="777.34" width="8.42" height="8.72" fill="#f0ba36"/>
<rect x="84.52" y="777.34" width="8.42" height="8.72" fill="#eabb30"/>
<rect x="92.84" y="777.34" width="8.42" height="8.72" fill="#e3bc2c"/>
<rect x="101.16" y="777.34" width="8.42" height="8.72" fill="#dbbd29"/>
<rect x="109.48" y="777.34" width="8.42" height="8.72" fill="#d4bf27"/>
<rect x="117.80" y="777.34" width="8.42" height="8.72" fill="#cbc029"/>
<rect x="126.12" y="777.34" width="8.42" height="8.72" fill="#c3c22b"/>
<rect x="134.44" y="777.34" width="8.42" height="8.72" fill="#bac430"/>
<rect x="142.76" y="777.34" width="8.42" height="8.72" fill="#b1c636"/>
<rect x="151.08" y="777.34" width="8.42" height="8.72" fill="#a7c73c"/>
<rect x="159.40" y="777.34" width="8.42" height="8.72" fill="#9dc943"/>
<rect x="167.72" y="777.34" width="8.42" height="8.72" fill="#93ca4b"/>
<rect x="176.04" y="777.34" width="8.42" height="8.72" fill="#89cb52"/>
<rect x="184.36" y="777.34" width="8.42" height="8.72" fill="#7fcc5a"/>
<rect x="192.68" y="777.34" width="8.42" height="8.72" fill="#74cc62"/>
<rect x="201.00" y="777.34" width="8.42" height="8.72" fill="#6acd6a"/>
<rect x="209.32" y="777.34" width="8.42" height="8.72" fill="#60cd72"/>
<rect x="217.64" y="777.34" width="8.42" height="8.72" fill="#57cc7a"/>
<rect x="225.96" y="777.34" width="8.42" height="8.72" fill="#4ecc81"/>
<rect x="234.28" y="777.34" width="8.42" height="8.72" fill="#46cb88"/>
<rect x="242.60" y="777.34" width="8.42" height="8.72" fill="#3eca8f"/>
<rect x="250.92" y="777.34" width="8.42" height="8.72" fill="#39c895"/>
<rect x="259.24" y="777.34" width="8.42" height="8.72" fill="#34c79b"/>
<rect x="267.56" y="777.34" width="8.42" height="8.72" fill="#30c5a1"/>
<rect x="275.88" y="777.34" width="8.42" height="8.72" fill="#2cc4a7"/>
<rect x="284.20" y="777.34" width="8.42" height="8.72" fill="#27c2ac"/>
<rect x="292.52" y="777.34" width="8.42" height="8.72" fill="#20c1b1"/>
<rect x="300.84" y="777.34" width="8.42" height="8.72" fill="#18bfb6"/>
<rect x="309.16" y="777.34" width="8.42" height="8.72" fill="#0ebebb"/>
<rect x="317.48" y="777.34" width="8.42" height="8.72" fill="#07bcc0"/>
<rect x="325.80" y="777.34" width="8.42" height="8.72" fill="#02bac4"/>
<rect x="334.12" y="777.34" width="8.42" height="8.72" fill="#01b8c9"/>
<rect x="342.44" y="777.34" width="8.42" height="8.72" fill="#05b6ce"/>
<rect x="350.76" y="777.34" width="8.42" height="8.72" fill="#0ab4d2"/>
<rect x="359.08" y="777.34" width="8.42" height="8.72" fill="#12b1d6"/>
<rect x="367.40" y="777.34" width="8.42" height="8.72" fill="#16aeda"/>
<rect x="375.72" y="777.34" width="8.42" height="8.72" fill="#1aacdd"/>
<rect x="384.04" y="777.34" width="8.42" height="8.72" fill="#1da9e0"/>
<rect x="392.36" y="777.34" width="8.42" height="8.72" fill="#1fa5e2"/>
<rect x="400.68" y="777.34" width="8.42" height="8.72" fill="#22a2e4"/>
<rect x="76.20" y="785.96" width="8.42" height="8.72" fill="#f6ba3b"/>
<rect x="84.52" y="785.96" width="8.42" height="8.72" fill="#f0ba36"/>
<rect x="92.84" y="785.96" width="8.42" height="8.72" fill="#e9bb30"/>
<rect x="101.16" y="785.96" width="8.42" height="8.72" fill="#e2bc2b"/>
<rect x="109.48" y="785.96" width="8.42" height="8.72" fill="#dbbd29"/>
<rect x="117.80" y="785.96" width="8.42" height="8.72" fill="#d3bf27"/>
<rect x="126.12" y="785.96" width="8.42" height="8.72" fill="#cbc129"/>
<rect x="134.44" y="785.96" width="8.42" height="8.72" fill="#c2c22c"/>
<rect x="142.76" y="785.96" width="8.42" height="8.72" fill="#b9c431"/>
<rect x="151.08" y="785.96" width="8.42" height="8.72" fill="#afc636"/>
<rect x="159.40" y="785.96" width="8.42" height="8.72" fill="#a6c83d"/>
<rect x="167.72" y="785.96" width="8.42" height="8.72" fill="#9cc944"/>
<rect x="176.04" y="785.96" width="8.42" height="8.72" fill="#92ca4c"/>
<rect x="184.36" y="785.96" width="8.42" height="8.72" fill="#87cb54"/>
<rect x="192.68" y="785.96" width="8.42" height="8.72" fill="#7dcc5c"/>
<rect x="201.00" y="785.96" width="8.42" height="8.72" fill="#72cd63"/>
<rect x="209.32" y="785.96" width="8.42" height="8.72" fill="#68cd6c"/>
<rect x="217.64" y="785.96" width="8.42" height="8.72" fill="#5ecd74"/>
<rect x="225.96" y="785.96" width="8.42" height="8.72" fill="#55cc7b"/>
<rect x="234.28" y="785.96" width="8.42" height="8.72" fill="#4ccb83"/>
<rect x="242.60" y="785.96" width="8.42" height="8.72" fill="#44cb8a"/>
<rect x="250.92" y="785.96" width="8.42" height="8.72" fill="#3dc990"/>
<rect x="259.24" y="785.96" width="8.42" height="8.72" fill="#37c897"/>
<rect x="267.56" y="785.96" width="8.42" height="8.72" fill="#33c69d"/>
<rect x="275.88" y="785.96" width="8.42" height="8.72" fill="#2fc5a3"/>
<rect x="284.20" y="785.96" width="8.42" height="8.72" fill="#2bc3a8"/>
<rect x="292.52" y="785.96" width="8.42" height="8.72" fill="#25c2ad"/>
<rect x="300.84" y="785.96" width="8.42" height="8.72" fill="#1ec0b2"/>
<rect x="309.16" y="785.96" width="8.42" height="8.72" fill="#15bfb7"/>
<rect x="317.48" y="785.96" width="8.42" height="8.72" fill="#0bbdbc"/>
<rect x="325.80" y="785.96" width="8.42" height="8.72" fill="#05bbc1"/>
<rect x="334.12" y="785.96" width="8.42" height="8.72" fill="#01b9c6"/>
<rect x="342.44" y="785.96" width="8.42" height="8.72" fill="#02b7cb"/>
<rect x="350.76" y="785.96" width="8.42" height="8.72" fill="#07b5cf"/>
<rect x="359.08" y="785.96" width="8.42" height="8.72" fill="#0db3d3"/>
<rect x="367.40" y="785.96" width="8.42" height="8.72" fill="#13b0d7"/>
<rect x="375.72" y="785.96" width="8.42" height="8.72" fill="#18addb"/>
<rect x="384.04" y="785.96" width="8.42" height="8.72" fill="#1baade"/>
<rect x="392.36" y="785.96" width="8.42" height="8.72" fill="#1ea7e1"/>
<rect x="400.68" y="785.96" width="8.42" height="8.72" fill="#20a4e3"/>
<rect x="76.20" y="794.58" width="8.42" height="8.72" fill="#fbbc3d"/>
<rect x="84.52" y="794.58" width="8.42" height="8.72" fill="#f6ba3b"/>
<rect x="92.84" y="794.58" width="8.42" height="8.72" fill="#efba35"/>
<rect x="101.16" y="794.58" width="8.42" height="8.72" fill="#e9bb2f"/>
<rect x="109.48" y="794.58" width="8.42" height="8.72" fill="#e2bc2b"/>
<rect x="117.80" y="794.58" width="8.42" height="8.72" fill="#dabd28"/>
<rect x="126.12" y="794.58" width="8.42" height="8.72" fill="#d2bf27"/>
<rect x="134.44" y="794.58" width="8.42" height="8.72" fill="#cac129"/>
<rect x="142.76" y="794.58" width="8.42" height="8.72" fill="#c1c32c"/>
<rect x="151.08" y="794.58" width="8.42" height="8.72" fill="#b8c431"/>
<rect x="159.40" y="794.58" width="8.42" height="8.72" fill="#aec637"/>
<rect x="167.72" y="794.58" width="8.42" height="8.72" fill="#a4c83e"/>
<rect x="176.04" y="794.58" width="8.42" height="8.72" fill="#9ac945"/>
<rect x="184.36" y="794.58" width="8.42" height="8.72" fill="#90ca4d"/>
<rect x="192.68" y="794.58" width="8.42" height="8.72" fill="#85cb55"/>
<rect x="201.00" y="794.58" width="8.42" height="8.72" fill="#7bcc5d"/>
<rect x="209.32" y="794.58" width="8.42" height="8.72" fill="#70cd65"/>
<rect x="217.64" y="794.58" width="8.42" height="8.72" fill="#66cd6d"/>
<rect x="225.96" y="794.58" width="8.42" height="8.72" fill="#5dcc75"/>
<rect x="234.28" y="794.58" width="8.42" height="8.72" fill="#53cc7d"/>
<rect x="242.60" y="794.58" width="8.42" height="8.72" fill="#4acb84"/>
<rect x="250.92" y="794.58" width="8.42" height="8.72" fill="#42ca8b"/>
<rect x="259.24" y="794.58" width="8.42" height="8.72" fill="#3bc992"/>
<rect x="267.56" y="794.58" width="8.42" height="8.72" fill="#36c898"/>
<rect x="275.88" y="794.58" width="8.42" height="8.72" fill="#32c69e"/>
<rect x="284.20" y="794.58" width="8.42" height="8.72" fill="#2ec4a4"/>
<rect x="292.52" y="794.58" width="8.42" height="8.72" fill="#29c3aa"/>
<rect x="300.84" y="794.58" width="8.42" height="8.72" fill="#23c1af"/>
<rect x="309.16" y="794.58" width="8.42" height="8.72" fill="#1bc0b4"/>
<rect x="317.48" y="794.58" width="8.42" height="8.72" fill="#12beb9"/>
<rect x="325.80" y="794.58" width="8.42" height="8.72" fill="#09bcbe"/>
<rect x="334.12" y="794.58" width="8.42" height="8.72" fill="#02bbc3"/>
<rect x="342.44" y="794.58" width="8.42" height="8.72" fill="#01b9c8"/>
<rect x="350.76" y="794.58" width="8.42" height="8.72" fill="#03b7cc"/>
<rect x="359.08" y="794.58" width="8.42" height="8.72" fill="#09b4d1"/>
<rect x="367.40" y="794.58" width="8.42" height="8.72" fill="#10b2d5"/>
<rect x="375.72" y="794.58" width="8.42" height="8.72" fill="#15afd9"/>
<rect x="384.04" y="794.58" width="8.42" height="8.72" fill="#19acdc"/>
<rect x="392.36" y="794.58" width="8.42" height="8.72" fill="#1ca9df"/>
<rect x="400.68" y="794.58" width="8.42" height="8.72" fill="#1fa6e2"/>
<rect x="76.20" y="803.20" width="8.42" height="8.72" fill="#febe3c"/>
<rect x="84.52" y="803.20" width="8.42" height="8.72" fill="#fabb3d"/>
<rect x="92.84" y="803.20" width="8.42" height="8.72" fill="#f5ba3a"/>
<rect x="101.16" y="803.20" width="8.42" height="8.72" fill="#efba35"/>
<rect x="109.48" y="803.20" width="8.42" height="8.72" fill="#e8bb2f"/>
<rect x="117.80" y="803.20" width="8.42" height="8.72" fill="#e1bc2b"/>
<rect x="126.12" y="803.20" width="8.42" height="8.72" fill="#d9bd28"/>
<rect x="134.44" y="803.20" width="8.42" height="8.72" fill="#d1bf27"/>
<rect x="142.76" y="803.20" width="8.42" height="8.72" fill="#c9c129"/>
<rect x="151.08" y="803.20" width="8.42" height="8.72" fill="#c0c32d"/>
<rect x="159.40" y="803.20" width="8.42" height="8.72" fill="#b6c532"/>
<rect x="167.72" y="803.20" width="8.42" height="8.72" fill="#adc638"/>
<rect x="176.04" y="803.20" width="8.42" height="8.72" fill="#a3c83f"/>
<rect x="184.36" y="803.20" width="8.42" height="8.72" fill="#98c946"/>
<rect x="192.68" y="803.20" width="8.42" height="8.72" fill="#8ecb4f"/>
<rect x="201.00" y="803.20" width="8.42" height="8.72" fill="#83cc57"/>
<rect x="209.32" y="803.20" width="8.42" height="8.72" fill="#79cc5f"/>
<rect x="217.64" y="803.20" width="8.42" height="8.72" fill="#6ecd67"/>
<rect x="225.96" y="803.20" width="8.42" height="8.72" fill="#64cd6f"/>
<rect x="234.28" y="803.20" width="8.42" height="8.72" fill="#5bcc77"/>
<rect x="242.60" y="803.20" width="8.42" height="8.72" fill="#51cc7f"/>
<rect x="250.92" y="803.20" width="8.42" height="8.72" fill="#48cb86"/>
<rect x="259.24" y="803.20" width="8.42" height="8.72" fill="#40ca8d"/>
<rect x="267.56" y="803.20" width="8.42" height="8.72" fill="#3ac994"/>
<rect x="275.88" y="803.20" width="8.42" height="8.72" fill="#35c79a"/>
<rect x="284.20" y="803.20" width="8.42" height="8.72" fill="#31c6a0"/>
<rect x="292.52" y="803.20" width="8.42" height="8.72" fill="#2dc4a6"/>
<rect x="300.84" y="803.20" width="8.42" height="8.72" fill="#28c2ab"/>
<rect x="309.16" y="803.20" width="8.42" height="8.72" fill="#21c1b0"/>
<rect x="317.48" y="803.20" width="8.42" height="8.72" fill="#19bfb5"/>
<rect x="325.80" y="803.20" width="8.42" height="8.72" fill="#0fbebb"/>
<rect x="334.12" y="803.20" width="8.42" height="8.72" fill="#07bcc0"/>
<rect x="342.44" y="803.20" width="8.42" height="8.72" fill="#02bac4"/>
<rect x="350.76" y="803.20" width="8.42" height="8.72" fill="#01b8c9"/>
<rect x="359.08" y="803.20" width="8.42" height="8.72" fill="#05b6ce"/>
<rect x="367.40" y="803.20" width="8.42" height="8.72" fill="#0bb3d2"/>
<rect x="375.72" y="803.20" width="8.42" height="8.72" fill="#12b1d6"/>
<rect x="384.04" y="803.20" width="8.42" height="8.72" fill="#17aeda"/>
<rect x="392.36" y="803.20" width="8.42" height="8.72" fill="#1aabde"/>
<rect x="400.68" y="803.20" width="8.42" height="8.72" fill="#1da8e0"/>
<rect x="76.20" y="811.82" width="8.42" height="8.72" fill="#fec239"/>
<rect x="84.52" y="811.82" width="8.42" height="8.72" fill="#febe3c"/>
<rect x="92.84" y="811.82" width="8.42" height="8.72" fill="#fabb3d"/>
<rect x="101.16" y="811.82" width="8.42" height="8.72" fill="#f5ba3a"/>
<rect x="109.48" y="811.82" width="8.42" height="8.72" fill="#eeba34"/>
<rect x="117.80" y="811.82" width="8.42" height="8.72" fill="#e8bb2e"/>
<rect x="126.12" y="811.82" width="8.42" height="8.72" fill="#e0bc2a"/>
<rect x="134.44" y="811.82" width="8.42" height="8.72" fill="#d8be28"/>
<rect x="142.76" y="811.82" width="8.42" height="8.72" fill="#d0bf27"/>
<rect x="151.08" y="811.82" width="8.42" height="8.72" fill="#c8c129"/>
<rect x="159.40" y="811.82" width="8.42" height="8.72" fill="#bec32e"/>
<rect x="167.72" y="811.82" width="8.42" height="8.72" fill="#b5c533"/>
<rect x="176.04" y="811.82" width="8.42" height="8.72" fill="#abc739"/>
<rect x="184.36" y="811.82" width="8.42" height="8.72" fill="#a1c840"/>
<rect x="192.68" y="811.82" width="8.42" height="8.72" fill="#97ca48"/>
<rect x="201.00" y="811.82" width="8.42" height="8.72" fill="#8ccb50"/>
<rect x="209.32" y="811.82" width="8.42" height="8.72" fill="#81cc58"/>
<rect x="217.64" y="811.82" width="8.42" height="8.72" fill="#76cc60"/>
<rect x="225.96" y="811.82" width="8.42" height="8.72" fill="#6ccd68"/>
<rect x="234.28" y="811.82" width="8.42" height="8.72" fill="#62cd71"/>
<rect x="242.60" y="811.82" width="8.42" height="8.72" fill="#58cc79"/>
<rect x="250.92" y="811.82" width="8.42" height="8.72" fill="#4fcc80"/>
<rect x="259.24" y="811.82" width="8.42" height="8.72" fill="#46cb88"/>
<rect x="267.56" y="811.82" width="8.42" height="8.72" fill="#3eca8f"/>
<rect x="275.88" y="811.82" width="8.42" height="8.72" fill="#39c895"/>
<rect x="284.20" y="811.82" width="8.42" height="8.72" fill="#34c79c"/>
<rect x="292.52" y="811.82" width="8.42" height="8.72" fill="#30c5a2"/>
<rect x="300.84" y="811.82" width="8.42" height="8.72" fill="#2cc4a7"/>
<rect x="309.16" y="811.82" width="8.42" height="8.72" fill="#26c2ad"/>
<rect x="317.48" y="811.82" width="8.42" height="8.72" fill="#1ec0b2"/>
<rect x="325.80" y="811.82" width="8.42" height="8.72" fill="#16bfb7"/>
<rect x="334.12" y="811.82" width="8.42" height="8.72" fill="#0cbdbc"/>
<rect x="342.44" y="811.82" width="8.42" height="8.72" fill="#05bbc1"/>
<rect x="350.76" y="811.82" width="8.42" height="8.72" fill="#01b9c6"/>
<rect x="359.08" y="811.82" width="8.42" height="8.72" fill="#02b7cb"/>
<rect x="367.40" y="811.82" width="8.42" height="8.72" fill="#07b5cf"/>
<rect x="375.72" y="811.82" width="8.42" height="8.72" fill="#0eb2d4"/>
<rect x="384.04" y="811.82" width="8.42" height="8.72" fill="#14b0d8"/>
<rect x="392.36" y="811.82" width="8.42" height="8.72" fill="#19addc"/>
<rect x="400.68" y="811.82" width="8.42" height="8.72" fill="#1caadf"/>
<rect x="76.20" y="820.44" width="8.42" height="8.72" fill="#fec636"/>
<rect x="84.52" y="820.44" width="8.42" height="8.72" fill="#fec239"/>
<rect x="92.84" y="820.44" width="8.42" height="8.72" fill="#febe3c"/>
<rect x="101.16" y="820.44" width="8.42" height="8.72" fill="#fabb3d"/>
<rect x="109.48" y="820.44" width="8.42" height="8.72" fill="#f4ba39"/>
<rect x="117.80" y="820.44" width="8.42" height="8.72" fill="#eeba34"/>
<rect x="126.12" y="820.44" width="8.42" height="8.72" fill="#e7bb2e"/>
<rect x="134.44" y="820.44" width="8.42" height="8.72" fill="#dfbc2a"/>
<rect x="142.76" y="820.44" width="8.42" height="8.72" fill="#d7be28"/>
<rect x="151.08" y="820.44" width="8.42" height="8.72" fill="#cfc028"/>
<rect x="159.40" y="820.44" width="8.42" height="8.72" fill="#c6c22a"/>
<rect x="167.72" y="820.44" width="8.42" height="8.72" fill="#bdc32e"/>
<rect x="176.04" y="820.44" width="8.42" height="8.72" fill="#b3c534"/>
<rect x="184.36" y="820.44" width="8.42" height="8.72" fill="#aac73a"/>
<rect x="192.68" y="820.44" width="8.42" height="8.72" fill="#9fc941"/>
<rect x="201.00" y="820.44" width="8.42" height="8.72" fill="#95ca49"/>
<rect x="209.32" y="820.44" width="8.42" height="8.72" fill="#8acb52"/>
<rect x="217.64" y="820.44" width="8.42" height="8.72" fill="#7fcc5a"/>
<rect x="225.96" y="820.44" width="8.42" height="8.72" fill="#74cc62"/>
<rect x="234.28" y="820.44" width="8.42" height="8.72" fill="#6acd6a"/>
<rect x="242.60" y="820.44" width="8.42" height="8.72" fill="#60cd72"/>
<rect x="250.92" y="820.44" width="8.42" height="8.72" fill="#56cc7b"/>
<rect x="259.24" y="820.44" width="8.42" height="8.72" fill="#4dcc82"/>
<rect x="267.56" y="820.44" width="8.42" height="8.72" fill="#44cb89"/>
<rect x="275.88" y="820.44" width="8.42" height="8.72" fill="#3dc990"/>
<rect x="284.20" y="820.44" width="8.42" height="8.72" fill="#37c897"/>
<rect x="292.52" y="820.44" width="8.42" height="8.72" fill="#33c69d"/>
<rect x="300.84" y="820.44" width="8.42" height="8.72" fill="#2fc5a3"/>
<rect x="309.16" y="820.44" width="8.42" height="8.72" fill="#2ac3a9"/>
<rect x="317.48" y="820.44" width="8.42" height="8.72" fill="#24c1ae"/>
<rect x="325.80" y="820.44" width="8.42" height="8.72" fill="#1cc0b3"/>
<rect x="334.12" y="820.44" width="8.42" height="8.72" fill="#13beb9"/>
<rect x="342.44" y="820.44" width="8.42" height="8.72" fill="#09bdbe"/>
<rect x="350.76" y="820.44" width="8.42" height="8.72" fill="#02bbc3"/>
<rect x="359.08" y="820.44" width="8.42" height="8.72" fill="#01b9c8"/>
<rect x="367.40" y="820.44" width="8.42" height="8.72" fill="#04b6cc"/>
<rect x="375.72" y="820.44" width="8.42" height="8.72" fill="#09b4d1"/>
<rect x="384.04" y="820.44" width="8.42" height="8.72" fill="#10b2d5"/>
<rect x="392.36" y="820.44" width="8.42" height="8.72" fill="#16afd9"/>
<rect x="400.68" y="820.44" width="8.42" height="8.72" fill="#1aacdd"/>
<rect x="76.20" y="829.06" width="8.42" height="8.72" fill="#feca33"/>
<rect x="84.52" y="829.06" width="8.42" height="8.72" fill="#fec636"/>
<rect x="92.84" y="829.06" width="8.42" height="8.72" fill="#fec139"/>
<rect x="101.16" y="829.06" width="8.42" height="8.72" fill="#fdbd3d"/>
<rect x="109.48" y="829.06" width="8.42" height="8.72" fill="#f9bb3d"/>
<rect x="117.80" y="829.06" width="8.42" height="8.72" fill="#f3ba39"/>
<rect x="126.12" y="829.06" width="8.42" height="8.72" fill="#edba33"/>
<rect x="134.44" y="829.06" width="8.42" height="8.72" fill="#e6bb2d"/>
<rect x="142.76" y="829.06" width="8.42" height="8.72" fill="#debc2a"/>
<rect x="151.08" y="829.06" width="8.42" height="8.72" fill="#d6be28"/>
<rect x="159.40" y="829.06" width="8.42" height="8.72" fill="#cec028"/>
<rect x="167.72" y="829.06" width="8.42" height="8.72" fill="#c5c22a"/>
<rect x="176.04" y="829.06" width="8.42" height="8.72" fill="#bcc42f"/>
<rect x="184.36" y="829.06" width="8.42" height="8.72" fill="#b2c635"/>
<rect x="192.68" y="829.06" width="8.42" height="8.72" fill="#a8c73b"/>
<rect x="201.00" y="829.06" width="8.42" height="8.72" fill="#9dc943"/>
<rect x="209.32" y="829.06" width="8.42" height="8.72" fill="#93ca4b"/>
<rect x="217.64" y="829.06" width="8.42" height="8.72" fill="#88cb53"/>
<rect x="225.96" y="829.06" width="8.42" height="8.72" fill="#7dcc5b"/>
<rect x="234.28" y="829.06" width="8.42" height="8.72" fill="#72cd63"/>
<rect x="242.60" y="829.06" width="8.42" height="8.72" fill="#67cd6c"/>
<rect x="250.92" y="829.06" width="8.42" height="8.72" fill="#5ecc74"/>
<rect x="259.24" y="829.06" width="8.42" height="8.72" fill="#54cc7c"/>
<rect x="267.56" y="829.06" width="8.42" height="8.72" fill="#4bcb84"/>
<rect x="275.88" y="829.06" width="8.42" height="8.72" fill="#42ca8b"/>
<rect x="284.20" y="829.06" width="8.42" height="8.72" fill="#3bc992"/>
<rect x="292.52" y="829.06" width="8.42" height="8.72" fill="#36c899"/>
<rect x="300.84" y="829.06" width="8.42" height="8.72" fill="#32c69f"/>
<rect x="309.16" y="829.06" width="8.42" height="8.72" fill="#2ec4a5"/>
<rect x="317.48" y="829.06" width="8.42" height="8.72" fill="#28c3aa"/>
<rect x="325.80" y="829.06" width="8.42" height="8.72" fill="#22c1b0"/>
<rect x="334.12" y="829.06" width="8.42" height="8.72" fill="#1abfb5"/>
<rect x="342.44" y="829.06" width="8.42" height="8.72" fill="#10beba"/>
<rect x="350.76" y="829.06" width="8.42" height="8.72" fill="#07bcbf"/>
<rect x="359.08" y="829.06" width="8.42" height="8.72" fill="#02bac4"/>
<rect x="367.40" y="829.06" width="8.42" height="8.72" fill="#01b8c9"/>
<rect x="375.72" y="829.06" width="8.42" height="8.72" fill="#05b6ce"/>
<rect x="384.04" y="829.06" width="8.42" height="8.72" fill="#0bb3d2"/>
<rect x="392.36" y="829.06" width="8.42" height="8.72" fill="#12b1d7"/>
<rect x="400.68" y="829.06" width="8.42" height="8.72" fill="#17aedb"/>
<rect x="76.20" y="837.68" width="8.42" height="8.72" fill="#fccf31"/>
<rect x="84.52" y="837.68" width="8.42" height="8.72" fill="#feca33"/>
<rect x="92.84" y="837.68" width="8.42" height="8.72" fill="#fec537"/>
<rect x="101.16" y="837.68" width="8.42" height="8.72" fill="#fec13a"/>
<rect x="109.48" y="837.68" width="8.42" height="8.72" fill="#fdbd3d"/>
<rect x="117.80" y="837.68" width="8.42" height="8.72" fill="#f9ba3d"/>
<rect x="126.12" y="837.68" width="8.42" height="8.72" fill="#f3ba38"/>
<rect x="134.44" y="837.68" width="8.42" height="8.72" fill="#ecba32"/>
<rect x="142.76" y="837.68" width="8.42" height="8.72" fill="#e5bb2d"/>
<rect x="151.08" y="837.68" width="8.42" height="8.72" fill="#ddbd29"/>
<rect x="159.40" y="837.68" width="8.42" height="8.72" fill="#d5be28"/>
<rect x="167.72" y="837.68" width="8.42" height="8.72" fill="#cdc028"/>
<rect x="176.04" y="837.68" width="8.42" height="8.72" fill="#c4c22b"/>
<rect x="184.36" y="837.68" width="8.42" height="8.72" fill="#bac430"/>
<rect x="192.68" y="837.68" width="8.42" height="8.72" fill="#b0c636"/>
<rect x="201.00" y="837.68" width="8.42" height="8.72" fill="#a6c83d"/>
<rect x="209.32" y="837.68" width="8.42" height="8.72" fill="#9bc944"/>
<rect x="217.64" y="837.68" width="8.42" height="8.72" fill="#91ca4c"/>
<rect x="225.96" y="837.68" width="8.42" height="8.72" fill="#86cb55"/>
<rect x="234.28" y="837.68" width="8.42" height="8.72" fill="#7bcc5d"/>
<rect x="242.60" y="837.68" width="8.42" height="8.72" fill="#70cd65"/>
<rect x="250.92" y="837.68" width="8.42" height="8.72" fill="#65cd6e"/>
<rect x="259.24" y="837.68" width="8.42" height="8.72" fill="#5bcc76"/>
<rect x="267.56" y="837.68" width="8.42" height="8.72" fill="#52cc7e"/>
<rect x="275.88" y="837.68" width="8.42" height="8.72" fill="#49cb86"/>
<rect x="284.20" y="837.68" width="8.42" height="8.72" fill="#40ca8d"/>
<rect x="292.52" y="837.68" width="8.42" height="8.72" fill="#3ac994"/>
<rect x="300.84" y="837.68" width="8.42" height="8.72" fill="#35c79a"/>
<rect x="309.16" y="837.68" width="8.42" height="8.72" fill="#31c6a0"/>
<rect x="317.48" y="837.68" width="8.42" height="8.72" fill="#2cc4a6"/>
<rect x="325.80" y="837.68" width="8.42" height="8.72" fill="#27c2ac"/>
<rect x="334.12" y="837.68" width="8.42" height="8.72" fill="#20c1b1"/>
<rect x="342.44" y="837.68" width="8.42" height="8.72" fill="#17bfb6"/>
<rect x="350.76" y="837.68" width="8.42" height="8.72" fill="#0dbdbc"/>
<rect x="359.08" y="837.68" width="8.42" height="8.72" fill="#05bbc1"/>
<rect x="367.40" y="837.68" width="8.42" height="8.72" fill="#01b9c6"/>
<rect x="375.72" y="837.68" width="8.42" height="8.72" fill="#02b7cb"/>
<rect x="384.04" y="837.68" width="8.42" height="8.72" fill="#07b5cf"/>
<rect x="392.36" y="837.68" width="8.42" height="8.72" fill="#0eb2d4"/>
<rect x="400.68" y="837.68" width="8.42" height="8.72" fill="#14b0d8"/>
<rect x="76.20" y="846.30" width="8.42" height="8.72" fill="#fbd32e"/>
<rect x="84.52" y="846.30" width="8.42" height="8.72" fill="#fdce31"/>
<rect x="92.84" y="846.30" width="8.42" height="8.72" fill="#fec934"/>
<rect x="101.16" y="846.30" width="8.42" height="8.72" fill="#fec537"/>
<rect x="109.48" y="846.30" width="8.42" height="8.72" fill="#fec13a"/>
<rect x="117.80" y="846.30" width="8.42" height="8.72" fill="#fdbd3d"/>
<rect x="126.12" y="846.30" width="8.42" height="8.72" fill="#f8ba3d"/>
<rect x="134.44" y="846.30" width="8.42" height="8.72" fill="#f2ba37"/>
<rect x="142.76" y="846.30" width="8.42" height="8.72" fill="#ebba31"/>
<rect x="151.08" y="846.30" width="8.42" height="8.72" fill="#e4bb2c"/>
<rect x="159.40" y="846.30" width="8.42" height="8.72" fill="#dcbd29"/>
<rect x="167.72" y="846.30" width="8.42" height="8.72" fill="#d4bf28"/>
<rect x="176.04" y="846.30" width="8.42" height="8.72" fill="#cbc129"/>
<rect x="184.36" y="846.30" width="8.42" height="8.72" fill="#c2c22c"/>
<rect x="192.68" y="846.30" width="8.42" height="8.72" fill="#b8c431"/>
<rect x="201.00" y="846.30" width="8.42" height="8.72" fill="#aec637"/>
<rect x="209.32" y="846.30" width="8.42" height="8.72" fill="#a4c83e"/>
<rect x="217.64" y="846.30" width="8.42" height="8.72" fill="#99c946"/>
<rect x="225.96" y="846.30" width="8.42" height="8.72" fill="#8fcb4e"/>
<rect x="234.28" y="846.30" width="8.42" height="8.72" fill="#84cc56"/>
<rect x="242.60" y="846.30" width="8.42" height="8.72" fill="#78cc5f"/>
<rect x="250.92" y="846.30" width="8.42" height="8.72" fill="#6dcd67"/>
<rect x="259.24" y="846.30" width="8.42" height="8.72" fill="#63cd70"/>
<rect x="267.56" y="846.30" width="8.42" height="8.72" fill="#59cc78"/>
<rect x="275.88" y="846.30" width="8.42" height="8.72" fill="#50cc80"/>
<rect x="284.20" y="846.30" width="8.42" height="8.72" fill="#47cb87"/>
<rect x="292.52" y="846.30" width="8.42" height="8.72" fill="#3eca8f"/>
<rect x="300.84" y="846.30" width="8.42" height="8.72" fill="#38c895"/>
<rect x="309.16" y="846.30" width="8.42" height="8.72" fill="#34c79c"/>
<rect x="317.48" y="846.30" width="8.42" height="8.72" fill="#30c5a2"/>
<rect x="325.80" y="846.30" width="8.42" height="8.72" fill="#2bc3a8"/>
<rect x="334.12" y="846.30" width="8.42" height="8.72" fill="#25c2ad"/>
<rect x="342.44" y="846.30" width="8.42" height="8.72" fill="#1dc0b3"/>
<rect x="350.76" y="846.30" width="8.42" height="8.72" fill="#14beb8"/>
<rect x="359.08" y="846.30" width="8.42" height="8.72" fill="#0abdbd"/>
<rect x="367.40" y="846.30" width="8.42" height="8.72" fill="#03bbc2"/>
<rect x="375.72" y="846.30" width="8.42" height="8.72" fill="#01b9c7"/>
<rect x="384.04" y="846.30" width="8.42" height="8.72" fill="#03b7cc"/>
<rect x="392.36" y="846.30" width="8.42" height="8.72" fill="#09b4d1"/>
<rect x="400.68" y="846.30" width="8.42" height="8.72" fill="#10b2d5"/>
<rect x="76.20" y="854.92" width="8.42" height="8.72" fill="#f9d72c"/>
<rect x="84.52" y="854.92" width="8.42" height="8.72" fill="#fbd22f"/>
<rect x="92.84" y="854.92" width="8.42" height="8.72" fill="#fdce31"/>
<rect x="101.16" y="854.92" width="8.42" height="8.72" fill="#fec934"/>
<rect x="109.48" y="854.92" width="8.42" height="8.72" fill="#fec437"/>
<rect x="117.80" y="854.92" width="8.42" height="8.72" fill="#fec03b"/>
<rect x="126.12" y="854.92" width="8.42" height="8.72" fill="#fcbc3d"/>
<rect x="134.44" y="854.92" width="8.42" height="8.72" fill="#f7ba3c"/>
<rect x="142.76" y="854.92" width="8.42" height="8.72" fill="#f1ba37"/>
<rect x="151.08" y="854.92" width="8.42" height="8.72" fill="#eaba31"/>
<rect x="159.40" y="854.92" width="8.42" height="8.72" fill="#e3bc2c"/>
<rect x="167.72" y="854.92" width="8.42" height="8.72" fill="#dbbd29"/>
<rect x="176.04" y="854.92" width="8.42" height="8.72" fill="#d3bf27"/>
<rect x="184.36" y="854.92" width="8.42" height="8.72" fill="#cac129"/>
<rect x="192.68" y="854.92" width="8.42" height="8.72" fill="#c0c32d"/>
<rect x="201.00" y="854.92" width="8.42" height="8.72" fill="#b7c532"/>
<rect x="209.32" y="854.92" width="8.42" height="8.72" fill="#adc738"/>
<rect x="217.64" y="854.92" width="8.42" height="8.72" fill="#a2c83f"/>
<rect x="225.96" y="854.92" width="8.42" height="8.72" fill="#97ca47"/>
<rect x="234.28" y="854.92" width="8.42" height="8.72" fill="#8dcb50"/>
<rect x="242.60" y="854.92" width="8.42" height="8.72" fill="#81cc58"/>
<rect x="250.92" y="854.92" width="8.42" height="8.72" fill="#76cc60"/>
<rect x="259.24" y="854.92" width="8.42" height="8.72" fill="#6bcd69"/>
<rect x="267.56" y="854.92" width="8.42" height="8.72" fill="#61cd71"/>
<rect x="275.88" y="854.92" width="8.42" height="8.72" fill="#57cc7a"/>
<rect x="284.20" y="854.92" width="8.42" height="8.72" fill="#4dcc82"/>
<rect x="292.52" y="854.92" width="8.42" height="8.72" fill="#45cb89"/>
<rect x="300.84" y="854.92" width="8.42" height="8.72" fill="#3dc990"/>
<rect x="309.16" y="854.92" width="8.42" height="8.72" fill="#37c897"/>
<rect x="317.48" y="854.92" width="8.42" height="8.72" fill="#33c69d"/>
<rect x="325.80" y="854.92" width="8.42" height="8.72" fill="#2ec5a3"/>
<rect x="334.12" y="854.92" width="8.42" height="8.72" fill="#2ac3a9"/>
<rect x="342.44" y="854.92" width="8.42" height="8.72" fill="#23c1af"/>
<rect x="350.76" y="854.92" width="8.42" height="8.72" fill="#1bc0b4"/>
<rect x="359.08" y="854.92" width="8.42" height="8.72" fill="#11beb9"/>
<rect x="367.40" y="854.92" width="8.42" height="8.72" fill="#08bcbf"/>
<rect x="375.72" y="854.92" width="8.42" height="8.72" fill="#02bac4"/>
<rect x="384.04" y="854.92" width="8.42" height="8.72" fill="#01b8c9"/>
<rect x="392.36" y="854.92" width="8.42" height="8.72" fill="#05b6ce"/>
<rect x="400.68" y="854.92" width="8.42" height="8.72" fill="#0bb3d2"/>
<rect x="76.20" y="863.54" width="8.42" height="8.72" fill="#f7dc2a"/>
<rect x="84.52" y="863.54" width="8.42" height="8.72" fill="#f9d72d"/>
<rect x="92.84" y="863.54" width="8.42" height="8.72" fill="#fbd22f"/>
<rect x="101.16" y="863.54" width="8.42" height="8.72" fill="#fdcd31"/>
<rect x="109.48" y="863.54" width="8.42" height="8.72" fill="#fec834"/>
<rect x="117.80" y="863.54" width="8.42" height="8.72" fill="#fec438"/>
<rect x="126.12" y="863.54" width="8.42" height="8.72" fill="#febf3b"/>
<rect x="134.44" y="863.54" width="8.42" height="8.72" fill="#fbbc3d"/>
<rect x="142.76" y="863.54" width="8.42" height="8.72" fill="#f6ba3c"/>
<rect x="151.08" y="863.54" width="8.42" height="8.72" fill="#f0ba36"/>
<rect x="159.40" y="863.54" width="8.42" height="8.72" fill="#e9bb30"/>
<rect x="167.72" y="863.54" width="8.42" height="8.72" fill="#e2bc2b"/>
<rect x="176.04" y="863.54" width="8.42" height="8.72" fill="#dabd28"/>
<rect x="184.36" y="863.54" width="8.42" height="8.72" fill="#d1bf27"/>
<rect x="192.68" y="863.54" width="8.42" height="8.72" fill="#c8c129"/>
<rect x="201.00" y="863.54" width="8.42" height="8.72" fill="#bfc32e"/>
<rect x="209.32" y="863.54" width="8.42" height="8.72" fill="#b5c533"/>
<rect x="217.64" y="863.54" width="8.42" height="8.72" fill="#abc739"/>
<rect x="225.96" y="863.54" width="8.42" height="8.72" fill="#a0c841"/>
<rect x="234.28" y="863.54" width="8.42" height="8.72" fill="#95ca49"/>
<rect x="242.60" y="863.54" width="8.42" height="8.72" fill="#8acb51"/>
<rect x="250.92" y="863.54" width="8.42" height="8.72" fill="#7fcc5a"/>
<rect x="259.24" y="863.54" width="8.42" height="8.72" fill="#74cd62"/>
<rect x="267.56" y="863.54" width="8.42" height="8.72" fill="#69cd6b"/>
<rect x="275.88" y="863.54" width="8.42" height="8.72" fill="#5fcd73"/>
<rect x="284.20" y="863.54" width="8.42" height="8.72" fill="#55cc7c"/>
<rect x="292.52" y="863.54" width="8.42" height="8.72" fill="#4bcb83"/>
<rect x="300.84" y="863.54" width="8.42" height="8.72" fill="#43ca8b"/>
<rect x="309.16" y="863.54" width="8.42" height="8.72" fill="#3cc992"/>
<rect x="317.48" y="863.54" width="8.42" height="8.72" fill="#36c899"/>
<rect x="325.80" y="863.54" width="8.42" height="8.72" fill="#32c69f"/>
<rect x="334.12" y="863.54" width="8.42" height="8.72" fill="#2dc4a5"/>
<rect x="342.44" y="863.54" width="8.42" height="8.72" fill="#28c3ab"/>
<rect x="350.76" y="863.54" width="8.42" height="8.72" fill="#21c1b0"/>
<rect x="359.08" y="863.54" width="8.42" height="8.72" fill="#19bfb6"/>
<rect x="367.40" y="863.54" width="8.42" height="8.72" fill="#0ebebb"/>
<rect x="375.72" y="863.54" width="8.42" height="8.72" fill="#06bcc0"/>
<rect x="384.04" y="863.54" width="8.42" height="8.72" fill="#01bac5"/>
<rect x="392.36" y="863.54" width="8.42" height="8.72" fill="#01b8ca"/>
<rect x="400.68" y="863.54" width="8.42" height="8.72" fill="#06b5cf"/>
<rect x="76.20" y="872.16" width="8.42" height="8.72" fill="#f6e028"/>
<rect x="84.52" y="872.16" width="8.42" height="8.72" fill="#f7db2a"/>
<rect x="92.84" y="872.16" width="8.42" height="8.72" fill="#f9d62d"/>
<rect x="101.16" y="872.16" width="8.42" height="8.72" fill="#fbd12f"/>
<rect x="109.48" y="872.16" width="8.42" height="8.72" fill="#fdcd32"/>
<rect x="117.80" y="872.16" width="8.42" height="8.72" fill="#fec835"/>
<rect x="126.12" y="872.16" width="8.42" height="8.72" fill="#fec338"/>
<rect x="134.44" y="872.16" width="8.42" height="8.72" fill="#febf3b"/>
<rect x="142.76" y="872.16" width="8.42" height="8.72" fill="#fbbc3d"/>
<rect x="151.08" y="872.16" width="8.42" height="8.72" fill="#f6ba3b"/>
<rect x="159.40" y="872.16" width="8.42" height="8.72" fill="#efba35"/>
<rect x="167.72" y="872.16" width="8.42" height="8.72" fill="#e8bb2f"/>
<rect x="176.04" y="872.16" width="8.42" height="8.72" fill="#e0bc2b"/>
<rect x="184.36" y="872.16" width="8.42" height="8.72" fill="#d8be28"/>
<rect x="192.68" y="872.16" width="8.42" height="8.72" fill="#d0c027"/>
<rect x="201.00" y="872.16" width="8.42" height="8.72" fill="#c7c12a"/>
<rect x="209.32" y="872.16" width="8.42" height="8.72" fill="#bdc32e"/>
<rect x="217.64" y="872.16" width="8.42" height="8.72" fill="#b3c534"/>
<rect x="225.96" y="872.16" width="8.42" height="8.72" fill="#a9c73b"/>
<rect x="234.28" y="872.16" width="8.42" height="8.72" fill="#9ec942"/>
<rect x="242.60" y="872.16" width="8.42" height="8.72" fill="#93ca4b"/>
<rect x="250.92" y="872.16" width="8.42" height="8.72" fill="#88cb53"/>
<rect x="259.24" y="872.16" width="8.42" height="8.72" fill="#7dcc5b"/>
<rect x="267.56" y="872.16" width="8.42" height="8.72" fill="#71cd64"/>
<rect x="275.88" y="872.16" width="8.42" height="8.72" fill="#67cd6d"/>
<rect x="284.20" y="872.16" width="8.42" height="8.72" fill="#5dcc75"/>
<rect x="292.52" y="872.16" width="8.42" height="8.72" fill="#53cc7d"/>
<rect x="300.84" y="872.16" width="8.42" height="8.72" fill="#49cb85"/>
<rect x="309.16" y="872.16" width="8.42" height="8.72" fill="#41ca8c"/>
<rect x="317.48" y="872.16" width="8.42" height="8.72" fill="#3ac993"/>
<rect x="325.80" y="872.16" width="8.42" height="8.72" fill="#35c79a"/>
<rect x="334.12" y="872.16" width="8.42" height="8.72" fill="#31c6a0"/>
<rect x="342.44" y="872.16" width="8.42" height="8.72" fill="#2cc4a6"/>
<rect x="350.76" y="872.16" width="8.42" height="8.72" fill="#26c2ac"/>
<rect x="359.08" y="872.16" width="8.42" height="8.72" fill="#1fc0b2"/>
<rect x="367.40" y="872.16" width="8.42" height="8.72" fill="#16bfb7"/>
<rect x="375.72" y="872.16" width="8.42" height="8.72" fill="#0bbdbc"/>
<rect x="384.04" y="872.16" width="8.42" height="8.72" fill="#04bbc2"/>
<rect x="392.36" y="872.16" width="8.42" height="8.72" fill="#01b9c7"/>
<rect x="400.68" y="872.16" width="8.42" height="8.72" fill="#03b7cc"/>
<rect x="76.20" y="880.78" width="8.42" height="8.72" fill="#f5e426"/>
<rect x="84.52" y="880.78" width="8.42" height="8.72" fill="#f6e029"/>
<rect x="92.84" y="880.78" width="8.42" height="8.72" fill="#f7db2b"/>
<rect x="101.16" y="880.78" width="8.42" height="8.72" fill="#fad62d"/>
<rect x="109.48" y="880.78" width="8.42" height="8.72" fill="#fcd12f"/>
<rect x="117.80" y="880.78" width="8.42" height="8.72" fill="#fdcc32"/>
<rect x="126.12" y="880.78" width="8.42" height="8.72" fill="#fec735"/>
<rect x="134.44" y="880.78" width="8.42" height="8.72" fill="#fec339"/>
<rect x="142.76" y="880.78" width="8.42" height="8.72" fill="#febe3c"/>
<rect x="151.08" y="880.78" width="8.42" height="8.72" fill="#fabb3d"/>
<rect x="159.40" y="880.78" width="8.42" height="8.72" fill="#f5ba3a"/>
<rect x="167.72" y="880.78" width="8.42" height="8.72" fill="#eeba34"/>
<rect x="176.04" y="880.78" width="8.42" height="8.72" fill="#e7bb2e"/>
<rect x="184.36" y="880.78" width="8.42" height="8.72" fill="#dfbc2a"/>
<rect x="192.68" y="880.78" width="8.42" height="8.72" fill="#d7be28"/>
<rect x="201.00" y="880.78" width="8.42" height="8.72" fill="#cec028"/>
<rect x="209.32" y="880.78" width="8.42" height="8.72" fill="#c5c22a"/>
<rect x="217.64" y="880.78" width="8.42" height="8.72" fill="#bbc42f"/>
<rect x="225.96" y="880.78" width="8.42" height="8.72" fill="#b1c635"/>
<rect x="234.28" y="880.78" width="8.42" height="8.72" fill="#a7c73c"/>
<rect x="242.60" y="880.78" width="8.42" height="8.72" fill="#9cc944"/>
<rect x="250.92" y="880.78" width="8.42" height="8.72" fill="#91ca4c"/>
<rect x="259.24" y="880.78" width="8.42" height="8.72" fill="#86cb55"/>
<rect x="267.56" y="880.78" width="8.42" height="8.72" fill="#7bcc5d"/>
<rect x="275.88" y="880.78" width="8.42" height="8.72" fill="#6fcd66"/>
<rect x="284.20" y="880.78" width="8.42" height="8.72" fill="#65cd6e"/>
<rect x="292.52" y="880.78" width="8.42" height="8.72" fill="#5bcc77"/>
<rect x="300.84" y="880.78" width="8.42" height="8.72" fill="#51cc7f"/>
<rect x="309.16" y="880.78" width="8.42" height="8.72" fill="#47cb87"/>
<rect x="317.48" y="880.78" width="8.42" height="8.72" fill="#3fca8e"/>
<rect x="325.80" y="880.78" width="8.42" height="8.72" fill="#39c895"/>
<rect x="334.12" y="880.78" width="8.42" height="8.72" fill="#34c79c"/>
<rect x="342.44" y="880.78" width="8.42" height="8.72" fill="#30c5a2"/>
<rect x="350.76" y="880.78" width="8.42" height="8.72" fill="#2bc3a8"/>
<rect x="359.08" y="880.78" width="8.42" height="8.72" fill="#25c2ad"/>
<rect x="367.40" y="880.78" width="8.42" height="8.72" fill="#1dc0b3"/>
<rect x="375.72" y="880.78" width="8.42" height="8.72" fill="#13beb8"/>
<rect x="384.04" y="880.78" width="8.42" height="8.72" fill="#0abdbe"/>
<rect x="392.36" y="880.78" width="8.42" height="8.72" fill="#02bbc3"/>
<rect x="400.68" y="880.78" width="8.42" height="8.72" fill="#01b9c8"/>
<rect x="76.20" y="889.40" width="8.42" height="8.72" fill="#f5e924"/>
<rect x="84.52" y="889.40" width="8.42" height="8.72" fill="#f5e427"/>
<rect x="92.84" y="889.40" width="8.42" height="8.72" fill="#f6df29"/>
<rect x="101.16" y="889.40" width="8.42" height="8.72" fill="#f8da2b"/>
<rect x="109.48" y="889.40" width="8.42" height="8.72" fill="#fad52d"/>
<rect x="117.80" y="889.40" width="8.42" height="8.72" fill="#fcd030"/>
<rect x="126.12" y="889.40" width="8.42" height="8.72" fill="#fdcb32"/>
<rect x="134.44" y="889.40" width="8.42" height="8.72" fill="#fec736"/>
<rect x="142.76" y="889.40" width="8.42" height="8.72" fill="#fec239"/>
<rect x="151.08" y="889.40" width="8.42" height="8.72" fill="#febe3c"/>
<rect x="159.40" y="889.40" width="8.42" height="8.72" fill="#fabb3d"/>
<rect x="167.72" y="889.40" width="8.42" height="8.72" fill="#f4ba39"/>
<rect x="176.04" y="889.40" width="8.42" height="8.72" fill="#edba33"/>
<rect x="184.36" y="889.40" width="8.42" height="8.72" fill="#e6bb2d"/>
<rect x="192.68" y="889.40" width="8.42" height="8.72" fill="#debd29"/>
<rect x="201.00" y="889.40" width="8.42" height="8.72" fill="#d6be28"/>
<rect x="209.32" y="889.40" width="8.42" height="8.72" fill="#cdc028"/>
<rect x="217.64" y="889.40" width="8.42" height="8.72" fill="#c3c22b"/>
<rect x="225.96" y="889.40" width="8.42" height="8.72" fill="#bac430"/>
<rect x="234.28" y="889.40" width="8.42" height="8.72" fill="#afc636"/>
<rect x="242.60" y="889.40" width="8.42" height="8.72" fill="#a5c83d"/>
<rect x="250.92" y="889.40" width="8.42" height="8.72" fill="#9ac945"/>
<rect x="259.24" y="889.40" width="8.42" height="8.72" fill="#8fcb4e"/>
<rect x="267.56" y="889.40" width="8.42" height="8.72" fill="#84cc56"/>
<rect x="275.88" y="889.40" width="8.42" height="8.72" fill="#78cc5f"/>
<rect x="284.20" y="889.40" width="8.42" height="8.72" fill="#6dcd67"/>
<rect x="292.52" y="889.40" width="8.42" height="8.72" fill="#63cd70"/>
<rect x="300.84" y="889.40" width="8.42" height="8.72" fill="#59cc79"/>
<rect x="309.16" y="889.40" width="8.42" height="8.72" fill="#4fcc81"/>
<rect x="317.48" y="889.40" width="8.42" height="8.72" fill="#46cb88"/>
<rect x="325.80" y="889.40" width="8.42" height="8.72" fill="#3eca90"/>
<rect x="334.12" y="889.40" width="8.42" height="8.72" fill="#38c897"/>
<rect x="342.44" y="889.40" width="8.42" height="8.72" fill="#33c69d"/>
<rect x="350.76" y="889.40" width="8.42" height="8.72" fill="#2fc5a3"/>
<rect x="359.08" y="889.40" width="8.42" height="8.72" fill="#2ac3a9"/>
<rect x="367.40" y="889.40" width="8.42" height="8.72" fill="#24c1af"/>
<rect x="375.72" y="889.40" width="8.42" height="8.72" fill="#1bc0b4"/>
<rect x="384.04" y="889.40" width="8.42" height="8.72" fill="#11beba"/>
<rect x="392.36" y="889.40" width="8.42" height="8.72" fill="#08bcbf"/>
<rect x="400.68" y="889.40" width="8.42" height="8.72" fill="#02bac4"/>
<rect x="76.20" y="898.02" width="8.42" height="8.72" fill="#f5ed22"/>
<rect x="84.52" y="898.02" width="8.42" height="8.72" fill="#f5e825"/>
<rect x="92.84" y="898.02" width="8.42" height="8.72" fill="#f5e327"/>
<rect x="101.16" y="898.02" width="8.42" height="8.72" fill="#f6de29"/>
<rect x="109.48" y="898.02" width="8.42" height="8.72" fill="#f8d92b"/>
<rect x="117.80" y="898.02" width="8.42" height="8.72" fill="#fad42e"/>
<rect x="126.12" y="898.02" width="8.42" height="8.72" fill="#fcd030"/>
<rect x="134.44" y="898.02" width="8.42" height="8.72" fill="#fdcb33"/>
<rect x="142.76" y="898.02" width="8.42" height="8.72" fill="#fec636"/>
<rect x="151.08" y="898.02" width="8.42" height="8.72" fill="#fec239"/>
<rect x="159.40" y="898.02" width="8.42" height="8.72" fill="#fdbd3d"/>
<rect x="167.72" y="898.02" width="8.42" height="8.72" fill="#f9bb3d"/>
<rect x="176.04" y="898.02" width="8.42" height="8.72" fill="#f3ba38"/>
<rect x="184.36" y="898.02" width="8.42" height="8.72" fill="#ecba32"/>
<rect x="192.68" y="898.02" width="8.42" height="8.72" fill="#e5bb2c"/>
<rect x="201.00" y="898.02" width="8.42" height="8.72" fill="#ddbd29"/>
<rect x="209.32" y="898.02" width="8.42" height="8.72" fill="#d4bf28"/>
<rect x="217.64" y="898.02" width="8.42" height="8.72" fill="#cbc029"/>
<rect x="225.96" y="898.02" width="8.42" height="8.72" fill="#c2c22c"/>
<rect x="234.28" y="898.02" width="8.42" height="8.72" fill="#b8c431"/>
<rect x="242.60" y="898.02" width="8.42" height="8.72" fill="#aec637"/>
<rect x="250.92" y="898.02" width="8.42" height="8.72" fill="#a3c83f"/>
<rect x="259.24" y="898.02" width="8.42" height="8.72" fill="#98c947"/>
<rect x="267.56" y="898.02" width="8.42" height="8.72" fill="#8dcb4f"/>
<rect x="275.88" y="898.02" width="8.42" height="8.72" fill="#82cc58"/>
<rect x="284.20" y="898.02" width="8.42" height="8.72" fill="#76cc60"/>
<rect x="292.52" y="898.02" width="8.42" height="8.72" fill="#6bcd69"/>
<rect x="300.84" y="898.02" width="8.42" height="8.72" fill="#61cd72"/>
<rect x="309.16" y="898.02" width="8.42" height="8.72" fill="#57cc7a"/>
<rect x="317.48" y="898.02" width="8.42" height="8.72" fill="#4dcb82"/>
<rect x="325.80" y="898.02" width="8.42" height="8.72" fill="#44cb8a"/>
<rect x="334.12" y="898.02" width="8.42" height="8.72" fill="#3cc991"/>
<rect x="342.44" y="898.02" width="8.42" height="8.72" fill="#36c898"/>
<rect x="350.76" y="898.02" width="8.42" height="8.72" fill="#32c69e"/>
<rect x="359.08" y="898.02" width="8.42" height="8.72" fill="#2ec4a4"/>
<rect x="367.40" y="898.02" width="8.42" height="8.72" fill="#28c3aa"/>
<rect x="375.72" y="898.02" width="8.42" height="8.72" fill="#22c1b0"/>
<rect x="384.04" y="898.02" width="8.42" height="8.72" fill="#19bfb5"/>
<rect x="392.36" y="898.02" width="8.42" height="8.72" fill="#0ebebb"/>
<rect x="400.68" y="898.02" width="8.42" height="8.72" fill="#06bcc0"/>
<rect x="76.20" y="906.64" width="8.42" height="8.72" fill="#f6f11f"/>
<rect x="84.52" y="906.64" width="8.42" height="8.72" fill="#f5ec22"/>
<rect x="92.84" y="906.64" width="8.42" height="8.72" fill="#f5e825"/>
<rect x="101.16" y="906.64" width="8.42" height="8.72" fill="#f5e327"/>
<rect x="109.48" y="906.64" width="8.42" height="8.72" fill="#f6de29"/>
<rect x="117.80" y="906.64" width="8.42" height="8.72" fill="#f8d92c"/>
<rect x="126.12" y="906.64" width="8.42" height="8.72" fill="#fad42e"/>
<rect x="134.44" y="906.64" width="8.42" height="8.72" fill="#fccf30"/>
<rect x="142.76" y="906.64" width="8.42" height="8.72" fill="#feca33"/>
<rect x="151.08" y="906.64" width="8.42" height="8.72" fill="#fec537"/>
<rect x="159.40" y="906.64" width="8.42" height="8.72" fill="#fec13a"/>
<rect x="167.72" y="906.64" width="8.42" height="8.72" fill="#fdbd3d"/>
<rect x="176.04" y="906.64" width="8.42" height="8.72" fill="#f8ba3d"/>
<rect x="184.36" y="906.64" width="8.42" height="8.72" fill="#f2ba37"/>
<rect x="192.68" y="906.64" width="8.42" height="8.72" fill="#ebba31"/>
<rect x="201.00" y="906.64" width="8.42" height="8.72" fill="#e3bb2c"/>
<rect x="209.32" y="906.64" width="8.42" height="8.72" fill="#dbbd29"/>
<rect x="217.64" y="906.64" width="8.42" height="8.72" fill="#d3bf27"/>
<rect x="225.96" y="906.64" width="8.42" height="8.72" fill="#cac129"/>
<rect x="234.28" y="906.64" width="8.42" height="8.72" fill="#c0c32d"/>
<rect x="242.60" y="906.64" width="8.42" height="8.72" fill="#b6c532"/>
<rect x="250.92" y="906.64" width="8.42" height="8.72" fill="#acc738"/>
<rect x="259.24" y="906.64" width="8.42" height="8.72" fill="#a1c840"/>
<rect x="267.56" y="906.64" width="8.42" height="8.72" fill="#96ca48"/>
<rect x="275.88" y="906.64" width="8.42" height="8.72" fill="#8bcb51"/>
<rect x="284.20" y="906.64" width="8.42" height="8.72" fill="#80cc59"/>
<rect x="292.52" y="906.64" width="8.42" height="8.72" fill="#74cc62"/>
<rect x="300.84" y="906.64" width="8.42" height="8.72" fill="#69cd6b"/>
<rect x="309.16" y="906.64" width="8.42" height="8.72" fill="#5fcd73"/>
<rect x="317.48" y="906.64" width="8.42" height="8.72" fill="#55cc7c"/>
<rect x="325.80" y="906.64" width="8.42" height="8.72" fill="#4bcb84"/>
<rect x="334.12" y="906.64" width="8.42" height="8.72" fill="#42ca8b"/>
<rect x="342.44" y="906.64" width="8.42" height="8.72" fill="#3bc992"/>
<rect x="350.76" y="906.64" width="8.42" height="8.72" fill="#36c799"/>
<rect x="359.08" y="906.64" width="8.42" height="8.72" fill="#31c6a0"/>
<rect x="367.40" y="906.64" width="8.42" height="8.72" fill="#2dc4a6"/>
<rect x="375.72" y="906.64" width="8.42" height="8.72" fill="#27c2ab"/>
<rect x="384.04" y="906.64" width="8.42" height="8.72" fill="#20c1b1"/>
<rect x="392.36" y="906.64" width="8.42" height="8.72" fill="#17bfb7"/>
<rect x="400.68" y="906.64" width="8.42" height="8.72" fill="#0cbdbc"/>
<rect x="76.20" y="915.26" width="8.42" height="8.72" fill="#f7f51b"/>
<rect x="84.52" y="915.26" width="8.42" height="8.72" fill="#f6f01f"/>
<rect x="92.84" y="915.26" width="8.42" height="8.72" fill="#f5ec22"/>
<rect x="101.16" y="915.26" width="8.42" height="8.72" fill="#f5e725"/>
<rect x="109.48" y="915.26" width="8.42" height="8.72" fill="#f5e227"/>
<rect x="117.80" y="915.26" width="8.42" height="8.72" fill="#f7dd2a"/>
<rect x="126.12" y="915.26" width="8.42" height="8.72" fill="#f9d82c"/>
<rect x="134.44" y="915.26" width="8.42" height="8.72" fill="#fbd32e"/>
<rect x="142.76" y="915.26" width="8.42" height="8.72" fill="#fdce31"/>
<rect x="151.08" y="915.26" width="8.42" height="8.72" fill="#fec934"/>
<rect x="159.40" y="915.26" width="8.42" height="8.72" fill="#fec537"/>
<rect x="167.72" y="915.26" width="8.42" height="8.72" fill="#fec03a"/>
<rect x="176.04" y="915.26" width="8.42" height="8.72" fill="#fcbd3d"/>
<rect x="184.36" y="915.26" width="8.42" height="8.72" fill="#f7ba3c"/>
<rect x="192.68" y="915.26" width="8.42" height="8.72" fill="#f1ba37"/>
<rect x="201.00" y="915.26" width="8.42" height="8.72" fill="#eabb30"/>
<rect x="209.32" y="915.26" width="8.42" height="8.72" fill="#e2bc2b"/>
<rect x="217.64" y="915.26" width="8.42" height="8.72" fill="#dabd28"/>
<rect x="225.96" y="915.26" width="8.42" height="8.72" fill="#d2bf27"/>
<rect x="234.28" y="915.26" width="8.42" height="8.72" fill="#c8c129"/>
<rect x="242.60" y="915.26" width="8.42" height="8.72" fill="#bfc32e"/>
<rect x="250.92" y="915.26" width="8.42" height="8.72" fill="#b5c533"/>
<rect x="259.24" y="915.26" width="8.42" height="8.72" fill="#aac73a"/>
<rect x="267.56" y="915.26" width="8.42" height="8.72" fill="#9fc941"/>
<rect x="275.88" y="915.26" width="8.42" height="8.72" fill="#94ca4a"/>
<rect x="284.20" y="915.26" width="8.42" height="8.72" fill="#89cb52"/>
<rect x="292.52" y="915.26" width="8.42" height="8.72" fill="#7ecc5b"/>
<rect x="300.84" y="915.26" width="8.42" height="8.72" fill="#72cd63"/>
<rect x="309.16" y="915.26" width="8.42" height="8.72" fill="#67cd6c"/>
<rect x="317.48" y="915.26" width="8.42" height="8.72" fill="#5dcc75"/>
<rect x="325.80" y="915.26" width="8.42" height="8.72" fill="#53cc7d"/>
<rect x="334.12" y="915.26" width="8.42" height="8.72" fill="#49cb85"/>
<rect x="342.44" y="915.26" width="8.42" height="8.72" fill="#41ca8d"/>
<rect x="350.76" y="915.26" width="8.42" height="8.72" fill="#3ac994"/>
<rect x="359.08" y="915.26" width="8.42" height="8.72" fill="#35c79a"/>
<rect x="367.40" y="915.26" width="8.42" height="8.72" fill="#30c5a1"/>
<rect x="375.72" y="915.26" width="8.42" height="8.72" fill="#2cc4a7"/>
<rect x="384.04" y="915.26" width="8.42" height="8.72" fill="#26c2ad"/>
<rect x="392.36" y="915.26" width="8.42" height="8.72" fill="#1ec0b2"/>
<rect x="400.68" y="915.26" width="8.42" height="8.72" fill="#15bfb8"/>
<rect x="76.20" y="923.88" width="8.42" height="8.72" fill="#f9f916"/>
<rect x="84.52" y="923.88" width="8.42" height="8.72" fill="#f7f51b"/>
<rect x="92.84" y="923.88" width="8.42" height="8.72" fill="#f6f01f"/>
<rect x="101.16" y="923.88" width="8.42" height="8.72" fill="#f5eb23"/>
<rect x="109.48" y="923.88" width="8.42" height="8.72" fill="#f5e625"/>
<rect x="117.80" y="923.88" width="8.42" height="8.72" fill="#f5e228"/>
<rect x="126.12" y="923.88" width="8.42" height="8.72" fill="#f7dd2a"/>
<rect x="134.44" y="923.88" width="8.42" height="8.72" fill="#f9d82c"/>
<rect x="142.76" y="923.88" width="8.42" height="8.72" fill="#fbd32f"/>
<rect x="151.08" y="923.88" width="8.42" height="8.72" fill="#fdce31"/>
<rect x="159.40" y="923.88" width="8.42" height="8.72" fill="#fec934"/>
<rect x="167.72" y="923.88" width="8.42" height="8.72" fill="#fec437"/>
<rect x="176.04" y="923.88" width="8.42" height="8.72" fill="#fec03b"/>
<rect x="184.36" y="923.88" width="8.42" height="8.72" fill="#fbbc3d"/>
<rect x="192.68" y="923.88" width="8.42" height="8.72" fill="#f6ba3c"/>
<rect x="201.00" y="923.88" width="8.42" height="8.72" fill="#f0ba36"/>
<rect x="209.32" y="923.88" width="8.42" height="8.72" fill="#e9bb2f"/>
<rect x="217.64" y="923.88" width="8.42" height="8.72" fill="#e1bc2b"/>
<rect x="225.96" y="923.88" width="8.42" height="8.72" fill="#d9be28"/>
<rect x="234.28" y="923.88" width="8.42" height="8.72" fill="#d0bf27"/>
<rect x="242.60" y="923.88" width="8.42" height="8.72" fill="#c7c12a"/>
<rect x="250.92" y="923.88" width="8.42" height="8.72" fill="#bdc32e"/>
<rect x="259.24" y="923.88" width="8.42" height="8.72" fill="#b3c534"/>
<rect x="267.56" y="923.88" width="8.42" height="8.72" fill="#a9c73b"/>
<rect x="275.88" y="923.88" width="8.42" height="8.72" fill="#9ec942"/>
<rect x="284.20" y="923.88" width="8.42" height="8.72" fill="#93ca4b"/>
<rect x="292.52" y="923.88" width="8.42" height="8.72" fill="#87cb54"/>
<rect x="300.84" y="923.88" width="8.42" height="8.72" fill="#7ccc5c"/>
<rect x="309.16" y="923.88" width="8.42" height="8.72" fill="#70cd65"/>
<rect x="317.48" y="923.88" width="8.42" height="8.72" fill="#65cd6e"/>
<rect x="325.80" y="923.88" width="8.42" height="8.72" fill="#5bcc76"/>
<rect x="334.12" y="923.88" width="8.42" height="8.72" fill="#51cc7f"/>
<rect x="342.44" y="923.88" width="8.42" height="8.72" fill="#48cb86"/>
<rect x="350.76" y="923.88" width="8.42" height="8.72" fill="#3fca8e"/>
<rect x="359.08" y="923.88" width="8.42" height="8.72" fill="#39c895"/>
<rect x="367.40" y="923.88" width="8.42" height="8.72" fill="#34c79c"/>
<rect x="375.72" y="923.88" width="8.42" height="8.72" fill="#30c5a2"/>
<rect x="384.04" y="923.88" width="8.42" height="8.72" fill="#2bc3a8"/>
<rect x="392.36" y="923.88" width="8.42" height="8.72" fill="#25c2ae"/>
<rect x="400.68" y="923.88" width="8.42" height="8.72" fill="#1cc0b3"/>
<rect x="76.20" y="932.50" width="8.42" height="8.72" fill="#f9fb15"/>
<rect x="84.52" y="932.50" width="8.42" height="8.72" fill="#f8f917"/>
<rect x="92.84" y="932.50" width="8.42" height="8.72" fill="#f7f41c"/>
<rect x="101.16" y="932.50" width="8.42" height="8.72" fill="#f6ef20"/>
<rect x="109.48" y="932.50" width="8.42" height="8.72" fill="#f5eb23"/>
<rect x="117.80" y="932.50" width="8.42" height="8.72" fill="#f5e626"/>
<rect x="126.12" y="932.50" width="8.42" height="8.72" fill="#f6e128"/>
<rect x="134.44" y="932.50" width="8.42" height="8.72" fill="#f7dc2a"/>
<rect x="142.76" y="932.50" width="8.42" height="8.72" fill="#f9d72d"/>
<rect x="151.08" y="932.50" width="8.42" height="8.72" fill="#fbd22f"/>
<rect x="159.40" y="932.50" width="8.42" height="8.72" fill="#fdcd32"/>
<rect x="167.72" y="932.50" width="8.42" height="8.72" fill="#fec834"/>
<rect x="176.04" y="932.50" width="8.42" height="8.72" fill="#fec438"/>
<rect x="184.36" y="932.50" width="8.42" height="8.72" fill="#febf3b"/>
<rect x="192.68" y="932.50" width="8.42" height="8.72" fill="#fbbc3d"/>
<rect x="201.00" y="932.50" width="8.42" height="8.72" fill="#f6ba3b"/>
<rect x="209.32" y="932.50" width="8.42" height="8.72" fill="#efba35"/>
<rect x="217.64" y="932.50" width="8.42" height="8.72" fill="#e8bb2e"/>
<rect x="225.96" y="932.50" width="8.42" height="8.72" fill="#e0bc2a"/>
<rect x="234.28" y="932.50" width="8.42" height="8.72" fill="#d8be28"/>
<rect x="242.60" y="932.50" width="8.42" height="8.72" fill="#cfc028"/>
<rect x="250.92" y="932.50" width="8.42" height="8.72" fill="#c6c22a"/>
<rect x="259.24" y="932.50" width="8.42" height="8.72" fill="#bcc42f"/>
<rect x="267.56" y="932.50" width="8.42" height="8.72" fill="#b2c635"/>
<rect x="275.88" y="932.50" width="8.42" height="8.72" fill="#a7c73c"/>
<rect x="284.20" y="932.50" width="8.42" height="8.72" fill="#9cc944"/>
<rect x="292.52" y="932.50" width="8.42" height="8.72" fill="#91ca4c"/>
<rect x="300.84" y="932.50" width="8.42" height="8.72" fill="#86cb55"/>
<rect x="309.16" y="932.50" width="8.42" height="8.72" fill="#7acc5d"/>
<rect x="317.48" y="932.50" width="8.42" height="8.72" fill="#6fcd66"/>
<rect x="325.80" y="932.50" width="8.42" height="8.72" fill="#64cd6f"/>
<rect x="334.12" y="932.50" width="8.42" height="8.72" fill="#5acc78"/>
<rect x="342.44" y="932.50" width="8.42" height="8.72" fill="#50cc80"/>
<rect x="350.76" y="932.50" width="8.42" height="8.72" fill="#46cb88"/>
<rect x="359.08" y="932.50" width="8.42" height="8.72" fill="#3eca8f"/>
<rect x="367.40" y="932.50" width="8.42" height="8.72" fill="#38c896"/>
<rect x="375.72" y="932.50" width="8.42" height="8.72" fill="#33c79d"/>
<rect x="384.04" y="932.50" width="8.42" height="8.72" fill="#2fc5a3"/>
<rect x="392.36" y="932.50" width="8.42" height="8.72" fill="#2ac3a9"/>
<rect x="400.68" y="932.50" width="8.42" height="8.72" fill="#24c1af"/>
<rect x="76.20" y="941.12" width="8.42" height="8.72" fill="#f9fb15"/>
<rect x="84.52" y="941.12" width="8.42" height="8.72" fill="#f9fb15"/>
<rect x="92.84" y="941.12" width="8.42" height="8.72" fill="#f8f818"/>
<rect x="101.16" y="941.12" width="8.42" height="8.72" fill="#f7f31c"/>
<rect x="109.48" y="941.12" width="8.42" height="8.72" fill="#f5ef20"/>
<rect x="117.80" y="941.12" width="8.42" height="8.72" fill="#f5ea24"/>
<rect x="126.12" y="941.12" width="8.42" height="8.72" fill="#f5e526"/>
<rect x="134.44" y="941.12" width="8.42" height="8.72" fill="#f6e028"/>
<rect x="142.76" y="941.12" width="8.42" height="8.72" fill="#f7db2a"/>
<rect x="151.08" y="941.12" width="8.42" height="8.72" fill="#f9d62d"/>
<rect x="159.40" y="941.12" width="8.42" height="8.72" fill="#fbd12f"/>
<rect x="167.72" y="941.12" width="8.42" height="8.72" fill="#fdcc32"/>
<rect x="176.04" y="941.12" width="8.42" height="8.72" fill="#fec835"/>
<rect x="184.36" y="941.12" width="8.42" height="8.72" fill="#fec338"/>
<rect x="192.68" y="941.12" width="8.42" height="8.72" fill="#febe3c"/>
<rect x="201.00" y="941.12" width="8.42" height="8.72" fill="#fabb3d"/>
<rect x="209.32" y="941.12" width="8.42" height="8.72" fill="#f5ba3a"/>
<rect x="217.64" y="941.12" width="8.42" height="8.72" fill="#eeba34"/>
<rect x="225.96" y="941.12" width="8.42" height="8.72" fill="#e7bb2e"/>
<rect x="234.28" y="941.12" width="8.42" height="8.72" fill="#dfbc2a"/>
<rect x="242.60" y="941.12" width="8.42" height="8.72" fill="#d6be28"/>
<rect x="250.92" y="941.12" width="8.42" height="8.72" fill="#cec028"/>
<rect x="259.24" y="941.12" width="8.42" height="8.72" fill="#c4c22b"/>
<rect x="267.56" y="941.12" width="8.42" height="8.72" fill="#bac430"/>
<rect x="275.88" y="941.12" width="8.42" height="8.72" fill="#b0c636"/>
<rect x="284.20" y="941.12" width="8.42" height="8.72" fill="#a5c83d"/>
<rect x="292.52" y="941.12" width="8.42" height="8.72" fill="#9bc945"/>
<rect x="300.84" y="941.12" width="8.42" height="8.72" fill="#8fca4d"/>
<rect x="309.16" y="941.12" width="8.42" height="8.72" fill="#84cc56"/>
<rect x="317.48" y="941.12" width="8.42" height="8.72" fill="#78cc5f"/>
<rect x="325.80" y="941.12" width="8.42" height="8.72" fill="#6dcd67"/>
<rect x="334.12" y="941.12" width="8.42" height="8.72" fill="#62cd70"/>
<rect x="342.44" y="941.12" width="8.42" height="8.72" fill="#58cc79"/>
<rect x="350.76" y="941.12" width="8.42" height="8.72" fill="#4ecc81"/>
<rect x="359.08" y="941.12" width="8.42" height="8.72" fill="#45cb89"/>
<rect x="367.40" y="941.12" width="8.42" height="8.72" fill="#3dc990"/>
<rect x="375.72" y="941.12" width="8.42" height="8.72" fill="#37c897"/>
<rect x="384.04" y="941.12" width="8.42" height="8.72" fill="#33c69e"/>
<rect x="392.36" y="941.12" width="8.42" height="8.72" fill="#2ec5a4"/>
<rect x="400.68" y="941.12" width="8.42" height="8.72" fill="#29c3aa"/>
<rect x="76.20" y="949.74" width="8.42" height="8.72" fill="#f9fb15"/>
<rect x="84.52" y="949.74" width="8.42" height="8.72" fill="#f9fb15"/>
<rect x="92.84" y="949.74" width="8.42" height="8.72" fill="#f9fb15"/>
<rect x="101.16" y="949.74" width="8.42" height="8.72" fill="#f8f818"/>
<rect x="109.48" y="949.74" width="8.42" height="8.72" fill="#f7f31d"/>
<rect x="117.80" y="949.74" width="8.42" height="8.72" fill="#f5ee21"/>
<rect x="126.12" y="949.74" width="8.42" height="8.72" fill="#f5e924"/>
<rect x="134.44" y="949.74" width="8.42" height="8.72" fill="#f5e526"/>
<rect x="142.76" y="949.74" width="8.42" height="8.72" fill="#f6e028"/>
<rect x="151.08" y="949.74" width="8.42" height="8.72" fill="#f7db2b"/>
<rect x="159.40" y="949.74" width="8.42" height="8.72" fill="#fad62d"/>
<rect x="167.72" y="949.74" width="8.42" height="8.72" fill="#fcd12f"/>
<rect x="176.04" y="949.74" width="8.42" height="8.72" fill="#fdcc32"/>
<rect x="184.36" y="949.74" width="8.42" height="8.72" fill="#fec735"/>
<rect x="192.68" y="949.74" width="8.42" height="8.72" fill="#fec239"/>
<rect x="201.00" y="949.74" width="8.42" height="8.72" fill="#febe3c"/>
<rect x="209.32" y="949.74" width="8.42" height="8.72" fill="#fabb3d"/>
<rect x="217.64" y="949.74" width="8.42" height="8.72" fill="#f4ba39"/>
<rect x="225.96" y="949.74" width="8.42" height="8.72" fill="#edba33"/>
<rect x="234.28" y="949.74" width="8.42" height="8.72" fill="#e6bb2d"/>
<rect x="242.60" y="949.74" width="8.42" height="8.72" fill="#debd29"/>
<rect x="250.92" y="949.74" width="8.42" height="8.72" fill="#d5be28"/>
<rect x="259.24" y="949.74" width="8.42" height="8.72" fill="#ccc028"/>
<rect x="267.56" y="949.74" width="8.42" height="8.72" fill="#c3c22b"/>
<rect x="275.88" y="949.74" width="8.42" height="8.72" fill="#b9c430"/>
<rect x="284.20" y="949.74" width="8.42" height="8.72" fill="#afc637"/>
<rect x="292.52" y="949.74" width="8.42" height="8.72" fill="#a4c83e"/>
<rect x="300.84" y="949.74" width="8.42" height="8.72" fill="#99c946"/>
<rect x="309.16" y="949.74" width="8.42" height="8.72" fill="#8ecb4f"/>
<rect x="317.48" y="949.74" width="8.42" height="8.72" fill="#83cc57"/>
<rect x="325.80" y="949.74" width="8.42" height="8.72" fill="#77cc60"/>
<rect x="334.12" y="949.74" width="8.42" height="8.72" fill="#6ccd68"/>
<rect x="342.44" y="949.74" width="8.42" height="8.72" fill="#61cd71"/>
<rect x="350.76" y="949.74" width="8.42" height="8.72" fill="#57cc7a"/>
<rect x="359.08" y="949.74" width="8.42" height="8.72" fill="#4dcc82"/>
<rect x="367.40" y="949.74" width="8.42" height="8.72" fill="#44cb8a"/>
<rect x="375.72" y="949.74" width="8.42" height="8.72" fill="#3cc991"/>
<rect x="384.04" y="949.74" width="8.42" height="8.72" fill="#36c898"/>
<rect x="392.36" y="949.74" width="8.42" height="8.72" fill="#32c69e"/>
<rect x="400.68" y="949.74" width="8.42" height="8.72" fill="#2ec4a5"/>
<rect x="76.20" y="958.36" width="8.42" height="8.72" fill="#f9fb15"/>
<rect x="84.52" y="958.36" width="8.42" height="8.72" fill="#f9fb15"/>
<rect x="92.84" y="958.36" width="8.42" height="8.72" fill="#f9fb15"/>
<rect x="101.16" y="958.36" width="8.42" height="8.72" fill="#f9fb15"/>
<rect x="109.48" y="958.36" width="8.42" height="8.72" fill="#f8f719"/>
<rect x="117.80" y="958.36" width="8.42" height="8.72" fill="#f6f21d"/>
<rect x="126.12" y="958.36" width="8.42" height="8.72" fill="#f5ee21"/>
<rect x="134.44" y="958.36" width="8.42" height="8.72" fill="#f5e924"/>
<rect x="142.76" y="958.36" width="8.42" height="8.72" fill="#f5e427"/>
<rect x="151.08" y="958.36" width="8.42" height="8.72" fill="#f6df29"/>
<rect x="159.40" y="958.36" width="8.42" height="8.72" fill="#f8da2b"/>
<rect x="167.72" y="958.36" width="8.42" height="8.72" fill="#fad52d"/>
<rect x="176.04" y="958.36" width="8.42" height="8.72" fill="#fcd030"/>
<rect x="184.36" y="958.36" width="8.42" height="8.72" fill="#fdcb33"/>
<rect x="192.68" y="958.36" width="8.42" height="8.72" fill="#fec736"/>
<rect x="201.00" y="958.36" width="8.42" height="8.72" fill="#fec239"/>
<rect x="209.32" y="958.36" width="8.42" height="8.72" fill="#febd3c"/>
<rect x="217.64" y="958.36" width="8.42" height="8.72" fill="#f9bb3d"/>
<rect x="225.96" y="958.36" width="8.42" height="8.72" fill="#f3ba39"/>
<rect x="234.28" y="958.36" width="8.42" height="8.72" fill="#ecba33"/>
<rect x="242.60" y="958.36" width="8.42" height="8.72" fill="#e5bb2d"/>
<rect x="250.92" y="958.36" width="8.42" height="8.72" fill="#ddbd29"/>
<rect x="259.24" y="958.36" width="8.42" height="8.72" fill="#d4bf28"/>
<rect x="267.56" y="958.36" width="8.42" height="8.72" fill="#cbc029"/>
<rect x="275.88" y="958.36" width="8.42" height="8.72" fill="#c2c22c"/>
<rect x="284.20" y="958.36" width="8.42" height="8.72" fill="#b8c431"/>
<rect x="292.52" y="958.36" width="8.42" height="8.72" fill="#aec637"/>
<rect x="300.84" y="958.36" width="8.42" height="8.72" fill="#a3c83f"/>
<rect x="309.16" y="958.36" width="8.42" height="8.72" fill="#98c947"/>
<rect x="317.48" y="958.36" width="8.42" height="8.72" fill="#8dcb50"/>
<rect x="325.80" y="958.36" width="8.42" height="8.72" fill="#81cc58"/>
<rect x="334.12" y="958.36" width="8.42" height="8.72" fill="#76cc61"/>
<rect x="342.44" y="958.36" width="8.42" height="8.72" fill="#6acd69"/>
<rect x="350.76" y="958.36" width="8.42" height="8.72" fill="#60cd72"/>
<rect x="359.08" y="958.36" width="8.42" height="8.72" fill="#56cc7b"/>
<rect x="367.40" y="958.36" width="8.42" height="8.72" fill="#4ccb83"/>
<rect x="375.72" y="958.36" width="8.42" height="8.72" fill="#43ca8a"/>
<rect x="384.04" y="958.36" width="8.42" height="8.72" fill="#3cc992"/>
<rect x="392.36" y="958.36" width="8.42" height="8.72" fill="#36c899"/>
<rect x="400.68" y="958.36" width="8.42" height="8.72" fill="#32c69f"/>
<rect x="76.20" y="966.98" width="8.42" height="8.72" fill="#f9fb15"/>
<rect x="84.52" y="966.98" width="8.42" height="8.72" fill="#f9fb15"/>
<rect x="92.84" y="966.98" width="8.42" height="8.72" fill="#f9fb15"/>
<rect x="101.16" y="966.98" width="8.42" height="8.72" fill="#f9fb15"/>
<rect x="109.48" y="966.98" width="8.42" height="8.72" fill="#f9fb15"/>
<rect x="117.80" y="966.98" width="8.42" height="8.72" fill="#f8f619"/>
<rect x="126.12" y="966.98" width="8.42" height="8.72" fill="#f6f21e"/>
<rect x="134.44" y="966.98" width="8.42" height="8.72" fill="#f5ed22"/>
<rect x="142.76" y="966.98" width="8.42" height="8.72" fill="#f5e825"/>
<rect x="151.08" y="966.98" width="8.42" height="8.72" fill="#f5e427"/>
<rect x="159.40" y="966.98" width="8.42" height="8.72" fill="#f6df29"/>
<rect x="167.72" y="966.98" width="8.42" height="8.72" fill="#f8da2b"/>
<rect x="176.04" y="966.98" width="8.42" height="8.72" fill="#fad52e"/>
<rect x="184.36" y="966.98" width="8.42" height="8.72" fill="#fcd030"/>
<rect x="192.68" y="966.98" width="8.42" height="8.72" fill="#fdcb33"/>
<rect x="201.00" y="966.98" width="8.42" height="8.72" fill="#fec636"/>
<rect x="209.32" y="966.98" width="8.42" height="8.72" fill="#fec13a"/>
<rect x="217.64" y="966.98" width="8.42" height="8.72" fill="#fdbd3d"/>
<rect x="225.96" y="966.98" width="8.42" height="8.72" fill="#f9ba3d"/>
<rect x="234.28" y="966.98" width="8.42" height="8.72" fill="#f2ba38"/>
<rect x="242.60" y="966.98" width="8.42" height="8.72" fill="#ebba32"/>
<rect x="250.92" y="966.98" width="8.42" height="8.72" fill="#e4bb2c"/>
<rect x="259.24" y="966.98" width="8.42" height="8.72" fill="#dcbd29"/>
<rect x="267.56" y="966.98" width="8.42" height="8.72" fill="#d3bf27"/>
<rect x="275.88" y="966.98" width="8.42" height="8.72" fill="#cac129"/>
<rect x="284.20" y="966.98" width="8.42" height="8.72" fill="#c1c32c"/>
<rect x="292.52" y="966.98" width="8.42" height="8.72" fill="#b7c532"/>
<rect x="300.84" y="966.98" width="8.42" height="8.72" fill="#adc738"/>
<rect x="309.16" y="966.98" width="8.42" height="8.72" fill="#a2c840"/>
<rect x="317.48" y="966.98" width="8.42" height="8.72" fill="#97ca48"/>
<rect x="325.80" y="966.98" width="8.42" height="8.72" fill="#8ccb50"/>
<rect x="334.12" y="966.98" width="8.42" height="8.72" fill="#80cc59"/>
<rect x="342.44" y="966.98" width="8.42" height="8.72" fill="#74cc62"/>
<rect x="350.76" y="966.98" width="8.42" height="8.72" fill="#69cd6a"/>
<rect x="359.08" y="966.98" width="8.42" height="8.72" fill="#5fcd73"/>
<rect x="367.40" y="966.98" width="8.42" height="8.72" fill="#55cc7c"/>
<rect x="375.72" y="966.98" width="8.42" height="8.72" fill="#4bcb84"/>
<rect x="384.04" y="966.98" width="8.42" height="8.72" fill="#42ca8b"/>
<rect x="392.36" y="966.98" width="8.42" height="8.72" fill="#3bc992"/>
<rect x="400.68" y="966.98" width="8.42" height="8.72" fill="#36c799"/>
<path d="M76.20 630.80V975.60M84.52 630.80V975.60M92.84 630.80V975.60M101.16 630.80V975.60M109.48 630.80V975.60M117.80 630.80V975.60M126.12 630.80V975.60M134.44 630.80V975.60M142.76 630.80V975.60M151.08 630.80V975.60M159.40 630.80V975.60M167.72 630.80V975.60M176.04 630.80V975.60M184.36 630.80V975.60M192.68 630.80V975.60M201.00 630.80V975.60M209.32 630.80V975.60M217.64 630.80V975.60M225.96 630.80V975.60M234.28 630.80V975.60M242.60 630.80V975.60M250.92 630.80V975.60M259.24 630.80V975.60M267.56 630.80V975.60M275.88 630.80V975.60M284.20 630.80V975.60M292.52 630.80V975.60M300.84 630.80V975.60M309.16 630.80V975.60M317.48 630.80V975.60M325.80 630.80V975.60M334.12 630.80V975.60M342.44 630.80V975.60M350.76 630.80V975.60M359.08 630.80V975.60M367.40 630.80V975.60M375.72 630.80V975.60M384.04 630.80V975.60M392.36 630.80V975.60M400.68 630.80V975.60M409.00 630.80V975.60" stroke="#000" stroke-opacity="1" stroke-width="1.15" fill="none"/>
<path d="M76.20 630.80H409.00M76.20 639.42H409.00M76.20 648.04H409.00M76.20 656.66H409.00M76.20 665.28H409.00M76.20 673.90H409.00M76.20 682.52H409.00M76.20 691.14H409.00M76.20 699.76H409.00M76.20 708.38H409.00M76.20 717.00H409.00M76.20 725.62H409.00M76.20 734.24H409.00M76.20 742.86H409.00M76.20 751.48H409.00M76.20 760.10H409.00M76.20 768.72H409.00M76.20 777.34H409.00M76.20 785.96H409.00M76.20 794.58H409.00M76.20 803.20H409.00M76.20 811.82H409.00M76.20 820.44H409.00M76.20 829.06H409.00M76.20 837.68H409.00M76.20 846.30H409.00M76.20 854.92H409.00M76.20 863.54H409.00M76.20 872.16H409.00M76.20 880.78H409.00M76.20 889.40H409.00M76.20 898.02H409.00M76.20 906.64H409.00M76.20 915.26H409.00M76.20 923.88H409.00M76.20 932.50H409.00M76.20 941.12H409.00M76.20 949.74H409.00M76.20 958.36H409.00M76.20 966.98H409.00M76.20 975.60H409.00" stroke="#000" stroke-opacity="1" stroke-width="1.15" fill="none"/>
<path d="M68.4 622.5V1009.5H483.3" stroke="#3a3a3a" stroke-width="1.5" fill="none"/>
<path d="M76.2 1009.5v-3.5M68.4 630.8h3.5M159.4 1009.5v-3.5M68.4 717.0h3.5M242.6 1009.5v-3.5M68.4 803.2h3.5M325.8 1009.5v-3.5M68.4 889.4h3.5M409.0 1009.5v-3.5M68.4 975.6h3.5" stroke="#222" stroke-width="1.1" fill="none"/>
<g font-family="Liberation Sans, sans-serif" font-size="14.8" fill="#404040" >
<text transform="translate(76.2 1032.3) scale(0.955 1)" font-size="15.5" text-anchor="middle">3.0</text>
<text transform="translate(62.4 638.0) scale(0.955 1)" font-size="15.5" text-anchor="end">10.0</text>
<text transform="translate(159.4 1032.3) scale(0.955 1)" font-size="15.5" text-anchor="middle">3.5</text>
<text transform="translate(62.4 724.2) scale(0.955 1)" font-size="15.5" text-anchor="end">10.5</text>
<text transform="translate(242.6 1032.3) scale(0.955 1)" font-size="15.5" text-anchor="middle">4.0</text>
<text transform="translate(62.4 810.4) scale(0.955 1)" font-size="15.5" text-anchor="end">11.0</text>
<text transform="translate(325.8 1032.3) scale(0.955 1)" font-size="15.5" text-anchor="middle">4.5</text>
<text transform="translate(62.4 896.6) scale(0.955 1)" font-size="15.5" text-anchor="end">11.5</text>
<text transform="translate(409.0 1032.3) scale(0.955 1)" font-size="15.5" text-anchor="middle">5.0</text>
<text transform="translate(62.4 982.8) scale(0.955 1)" font-size="15.5" text-anchor="end">12.0</text>
<text x="275.7" y="1054.2" text-anchor="middle" font-size="16.6">(Subset X) Error (%)</text>
<text transform="translate(23.9 815.5) rotate(-90)" text-anchor="middle" font-size="16.9">(Subset Y) Error (%)</text>
<text x="555.3" y="1014.4" font-size="13.7">0</text>
<text x="555.3" y="949.8" font-size="13.7">1</text>
<text x="555.3" y="885.2" font-size="13.7">2</text>
<text x="555.3" y="820.6" font-size="13.7">3</text>
<text x="555.3" y="756.0" font-size="13.7">4</text>
<text x="555.3" y="691.4" font-size="13.7">5</text>
<text x="555.3" y="626.8" font-size="13.7">6</text>
</g>
<rect x="526.4" y="621.8000000000001" width="23.8" height="387.6" fill="url(#pg)" stroke="#222" stroke-width="1"/>
<path d="M550.2 944.8h-3M550.2 880.2h-3M550.2 815.6h-3M550.2 751.0h-3M550.2 686.4h-3" stroke="#3a3a3a" stroke-width="1" fill="none"/>
</g>
</svg>
</body></html>
